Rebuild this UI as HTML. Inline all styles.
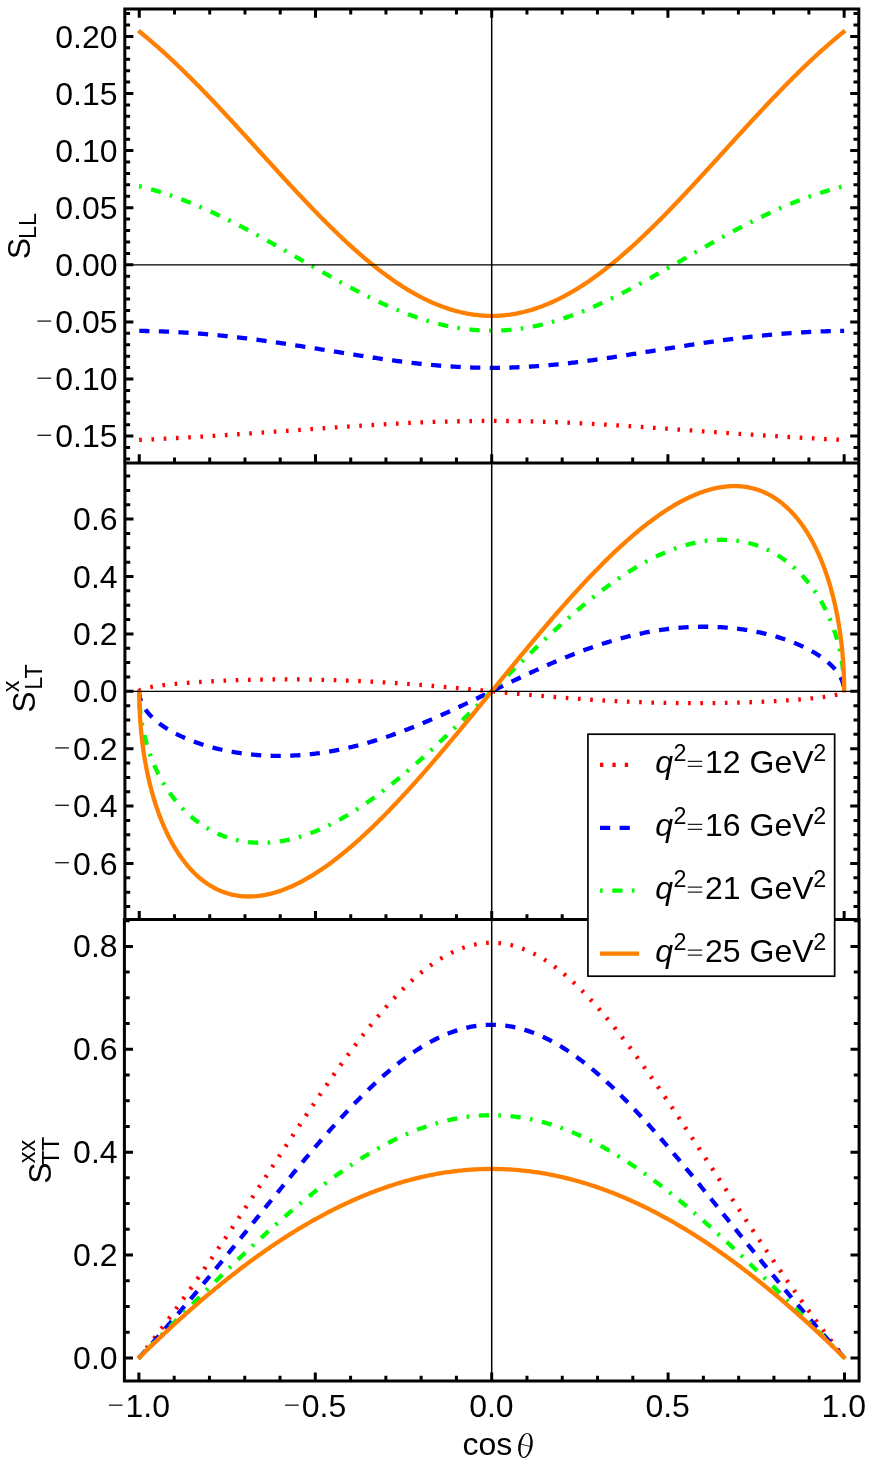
<!DOCTYPE html>
<html><head><meta charset="utf-8"><style>
html,body{margin:0;padding:0;background:#fff}
svg{display:block;will-change:transform;opacity:0.999}
.t{font-family:"Liberation Sans",sans-serif;font-size:32.0px;fill:#000}
.s{font-family:"Liberation Sans",sans-serif;font-size:23.3px;fill:#000}
</style></head><body>
<svg width="870" height="1463" viewBox="0 0 870 1463">
<rect width="870" height="1463" fill="#fff"/>
<path d="M139.25,440.00 L139.25,440.00 L139.26,440.00 L139.28,440.00 L139.30,440.00 L139.33,440.00 L139.37,439.99 L139.41,439.99 L139.46,439.99 L139.52,439.99 L139.59,439.98 L139.66,439.98 L139.73,439.98 L139.82,439.97 L139.91,439.97 L140.00,439.96 L140.11,439.96 L140.22,439.95 L140.34,439.95 L140.46,439.94 L140.59,439.93 L140.73,439.93 L140.87,439.92 L141.02,439.91 L141.18,439.91 L141.34,439.90 L141.52,439.89 L141.69,439.88 L141.88,439.87 L142.07,439.86 L142.27,439.85 L142.47,439.84 L142.68,439.83 L142.90,439.82 L143.12,439.81 L143.35,439.80 L143.59,439.79 L143.83,439.78 L144.08,439.76 L144.34,439.75 L144.60,439.74 L144.87,439.72 L145.15,439.71 L145.44,439.70 L145.73,439.68 L146.02,439.67 L146.33,439.65 L146.64,439.64 L146.95,439.62 L147.27,439.60 L147.60,439.59 L147.94,439.57 L148.28,439.55 L148.63,439.53 L148.99,439.52 L149.35,439.50 L149.72,439.48 L150.09,439.46 L150.48,439.44 L150.86,439.42 L151.26,439.40 L151.66,439.38 L152.07,439.36 L152.48,439.34 L152.90,439.32 L153.33,439.29 L153.76,439.27 L154.20,439.25 L154.65,439.23 L155.10,439.20 L155.56,439.18 L156.03,439.15 L156.50,439.13 L156.98,439.11 L157.46,439.08 L157.95,439.05 L158.45,439.03 L158.96,439.00 L159.47,438.97 L159.98,438.95 L160.51,438.92 L161.03,438.89 L161.57,438.86 L162.11,438.83 L162.66,438.81 L163.21,438.78 L163.77,438.75 L164.34,438.72 L164.91,438.68 L165.49,438.65 L166.08,438.62 L166.67,438.59 L167.27,438.56 L167.87,438.52 L168.48,438.49 L169.10,438.46 L169.72,438.42 L170.35,438.39 L170.98,438.35 L171.62,438.32 L172.27,438.28 L172.92,438.25 L173.58,438.21 L174.25,438.17 L174.92,438.14 L175.60,438.10 L176.28,438.06 L176.97,438.02 L177.66,437.98 L178.37,437.94 L179.07,437.90 L179.79,437.86 L180.51,437.82 L181.23,437.78 L181.96,437.74 L182.70,437.69 L183.44,437.65 L184.19,437.61 L184.94,437.57 L185.70,437.52 L186.47,437.48 L187.24,437.43 L188.02,437.39 L188.80,437.34 L189.59,437.29 L190.39,437.25 L191.19,437.20 L191.99,437.15 L192.81,437.11 L193.62,437.06 L194.45,437.01 L195.28,436.96 L196.11,436.91 L196.95,436.86 L197.80,436.81 L198.65,436.76 L199.51,436.70 L200.37,436.65 L201.24,436.60 L202.11,436.55 L202.99,436.49 L203.87,436.44 L204.76,436.38 L205.66,436.33 L206.56,436.27 L207.47,436.22 L208.38,436.16 L209.30,436.10 L210.22,436.04 L211.15,435.99 L212.08,435.93 L213.02,435.87 L213.97,435.81 L214.92,435.75 L215.87,435.69 L216.83,435.63 L217.79,435.57 L218.77,435.51 L219.74,435.44 L220.72,435.38 L221.71,435.32 L222.70,435.25 L223.69,435.19 L224.70,435.12 L225.70,435.06 L226.71,434.99 L227.73,434.93 L228.75,434.86 L229.78,434.79 L230.81,434.72 L231.85,434.66 L232.89,434.59 L233.93,434.52 L234.99,434.45 L236.04,434.38 L237.10,434.31 L238.17,434.24 L239.24,434.16 L240.31,434.09 L241.40,434.02 L242.48,433.95 L243.57,433.87 L244.66,433.80 L245.76,433.73 L246.87,433.65 L247.98,433.57 L249.09,433.50 L250.21,433.42 L251.33,433.35 L252.46,433.27 L253.59,433.19 L254.72,433.11 L255.86,433.03 L257.01,432.95 L258.16,432.88 L259.31,432.80 L260.47,432.71 L261.63,432.63 L262.80,432.55 L263.97,432.47 L265.15,432.39 L266.33,432.31 L267.51,432.22 L268.70,432.14 L269.90,432.06 L271.09,431.97 L272.29,431.89 L273.50,431.80 L274.71,431.72 L275.92,431.63 L277.14,431.54 L278.36,431.46 L279.59,431.37 L280.82,431.28 L282.05,431.20 L283.29,431.11 L284.54,431.02 L285.78,430.93 L287.03,430.84 L288.29,430.75 L289.54,430.66 L290.80,430.57 L292.07,430.48 L293.34,430.39 L294.61,430.30 L295.89,430.21 L297.17,430.12 L298.45,430.03 L299.74,429.94 L301.03,429.84 L302.33,429.75 L303.63,429.66 L304.93,429.57 L306.24,429.47 L307.55,429.38 L308.86,429.28 L310.17,429.19 L311.49,429.10 L312.82,429.00 L314.14,428.91 L315.47,428.81 L316.81,428.72 L318.15,428.63 L319.49,428.53 L320.83,428.44 L322.18,428.34 L323.53,428.25 L324.88,428.15 L326.23,428.06 L327.59,427.96 L328.96,427.87 L330.32,427.77 L331.69,427.67 L333.06,427.58 L334.44,427.48 L335.82,427.39 L337.20,427.29 L338.58,427.20 L339.97,427.10 L341.36,427.01 L342.75,426.91 L344.14,426.82 L345.54,426.73 L346.94,426.63 L348.35,426.54 L349.75,426.44 L351.16,426.35 L352.57,426.26 L353.99,426.16 L355.40,426.07 L356.82,425.98 L358.25,425.88 L359.67,425.79 L361.10,425.70 L362.53,425.61 L363.96,425.52 L365.39,425.43 L366.83,425.34 L368.27,425.25 L369.71,425.16 L371.16,425.07 L372.60,424.98 L374.05,424.89 L375.50,424.80 L376.95,424.71 L378.41,424.63 L379.87,424.54 L381.33,424.46 L382.79,424.37 L384.25,424.29 L385.72,424.20 L387.18,424.12 L388.65,424.04 L390.13,423.95 L391.60,423.87 L393.07,423.79 L394.55,423.71 L396.03,423.63 L397.51,423.56 L398.99,423.48 L400.48,423.40 L401.97,423.33 L403.45,423.25 L404.94,423.18 L406.43,423.10 L407.93,423.03 L409.42,422.96 L410.92,422.89 L412.42,422.82 L413.92,422.75 L415.42,422.68 L416.92,422.62 L418.42,422.55 L419.93,422.49 L421.43,422.43 L422.94,422.36 L424.45,422.30 L425.96,422.24 L427.47,422.18 L428.98,422.12 L430.50,422.07 L432.01,422.01 L433.53,421.96 L435.05,421.91 L436.56,421.85 L438.08,421.80 L439.60,421.75 L441.13,421.71 L442.65,421.66 L444.17,421.61 L445.70,421.57 L447.22,421.53 L448.75,421.48 L450.27,421.44 L451.80,421.41 L453.33,421.37 L454.86,421.33 L456.39,421.30 L457.92,421.26 L459.45,421.23 L460.98,421.20 L462.51,421.17 L464.05,421.14 L465.58,421.12 L467.11,421.09 L468.65,421.07 L470.18,421.05 L471.72,421.03 L473.25,421.01 L474.79,420.99 L476.33,420.98 L477.86,420.96 L479.40,420.95 L480.94,420.94 L482.47,420.93 L484.01,420.92 L485.55,420.91 L487.09,420.91 L488.62,420.90 L490.16,420.90 L491.70,420.90 L493.24,420.90 L494.78,420.90 L496.31,420.91 L497.85,420.91 L499.39,420.92 L500.93,420.93 L502.46,420.94 L504.00,420.95 L505.54,420.96 L507.07,420.98 L508.61,420.99 L510.15,421.01 L511.68,421.03 L513.22,421.05 L514.75,421.07 L516.29,421.09 L517.82,421.12 L519.35,421.14 L520.89,421.17 L522.42,421.20 L523.95,421.23 L525.48,421.26 L527.01,421.30 L528.54,421.33 L530.07,421.37 L531.60,421.41 L533.13,421.44 L534.65,421.48 L536.18,421.53 L537.70,421.57 L539.23,421.61 L540.75,421.66 L542.27,421.71 L543.80,421.75 L545.32,421.80 L546.84,421.85 L548.35,421.91 L549.87,421.96 L551.39,422.01 L552.90,422.07 L554.42,422.12 L555.93,422.18 L557.44,422.24 L558.95,422.30 L560.46,422.36 L561.97,422.43 L563.47,422.49 L564.98,422.55 L566.48,422.62 L567.98,422.68 L569.48,422.75 L570.98,422.82 L572.48,422.89 L573.98,422.96 L575.47,423.03 L576.97,423.10 L578.46,423.18 L579.95,423.25 L581.43,423.33 L582.92,423.40 L584.41,423.48 L585.89,423.56 L587.37,423.63 L588.85,423.71 L590.33,423.79 L591.80,423.87 L593.27,423.95 L594.75,424.04 L596.22,424.12 L597.68,424.20 L599.15,424.29 L600.61,424.37 L602.07,424.46 L603.53,424.54 L604.99,424.63 L606.45,424.71 L607.90,424.80 L609.35,424.89 L610.80,424.98 L612.24,425.07 L613.69,425.16 L615.13,425.25 L616.57,425.34 L618.01,425.43 L619.44,425.52 L620.87,425.61 L622.30,425.70 L623.73,425.79 L625.15,425.88 L626.58,425.98 L628.00,426.07 L629.41,426.16 L630.83,426.26 L632.24,426.35 L633.65,426.44 L635.05,426.54 L636.46,426.63 L637.86,426.73 L639.26,426.82 L640.65,426.91 L642.04,427.01 L643.43,427.10 L644.82,427.20 L646.20,427.29 L647.58,427.39 L648.96,427.48 L650.34,427.58 L651.71,427.67 L653.08,427.77 L654.44,427.87 L655.81,427.96 L657.17,428.06 L658.52,428.15 L659.87,428.25 L661.22,428.34 L662.57,428.44 L663.91,428.53 L665.25,428.63 L666.59,428.72 L667.92,428.81 L669.26,428.91 L670.58,429.00 L671.91,429.10 L673.23,429.19 L674.54,429.28 L675.85,429.38 L677.16,429.47 L678.47,429.57 L679.77,429.66 L681.07,429.75 L682.37,429.84 L683.66,429.94 L684.95,430.03 L686.23,430.12 L687.51,430.21 L688.79,430.30 L690.06,430.39 L691.33,430.48 L692.60,430.57 L693.86,430.66 L695.11,430.75 L696.37,430.84 L697.62,430.93 L698.86,431.02 L700.11,431.11 L701.35,431.20 L702.58,431.28 L703.81,431.37 L705.04,431.46 L706.26,431.54 L707.48,431.63 L708.69,431.72 L709.90,431.80 L711.11,431.89 L712.31,431.97 L713.50,432.06 L714.70,432.14 L715.89,432.22 L717.07,432.31 L718.25,432.39 L719.43,432.47 L720.60,432.55 L721.77,432.63 L722.93,432.71 L724.09,432.80 L725.24,432.88 L726.39,432.95 L727.54,433.03 L728.68,433.11 L729.81,433.19 L730.94,433.27 L732.07,433.35 L733.19,433.42 L734.31,433.50 L735.42,433.57 L736.53,433.65 L737.64,433.73 L738.74,433.80 L739.83,433.87 L740.92,433.95 L742.00,434.02 L743.09,434.09 L744.16,434.16 L745.23,434.24 L746.30,434.31 L747.36,434.38 L748.41,434.45 L749.47,434.52 L750.51,434.59 L751.55,434.66 L752.59,434.72 L753.62,434.79 L754.65,434.86 L755.67,434.93 L756.69,434.99 L757.70,435.06 L758.70,435.12 L759.71,435.19 L760.70,435.25 L761.69,435.32 L762.68,435.38 L763.66,435.44 L764.63,435.51 L765.61,435.57 L766.57,435.63 L767.53,435.69 L768.48,435.75 L769.43,435.81 L770.38,435.87 L771.32,435.93 L772.25,435.99 L773.18,436.04 L774.10,436.10 L775.02,436.16 L775.93,436.22 L776.84,436.27 L777.74,436.33 L778.64,436.38 L779.53,436.44 L780.41,436.49 L781.29,436.55 L782.16,436.60 L783.03,436.65 L783.89,436.70 L784.75,436.76 L785.60,436.81 L786.45,436.86 L787.29,436.91 L788.12,436.96 L788.95,437.01 L789.78,437.06 L790.59,437.11 L791.41,437.15 L792.21,437.20 L793.01,437.25 L793.81,437.29 L794.60,437.34 L795.38,437.39 L796.16,437.43 L796.93,437.48 L797.70,437.52 L798.46,437.57 L799.21,437.61 L799.96,437.65 L800.70,437.69 L801.44,437.74 L802.17,437.78 L802.89,437.82 L803.61,437.86 L804.33,437.90 L805.03,437.94 L805.74,437.98 L806.43,438.02 L807.12,438.06 L807.80,438.10 L808.48,438.14 L809.15,438.17 L809.82,438.21 L810.48,438.25 L811.13,438.28 L811.78,438.32 L812.42,438.35 L813.05,438.39 L813.68,438.42 L814.30,438.46 L814.92,438.49 L815.53,438.52 L816.13,438.56 L816.73,438.59 L817.32,438.62 L817.91,438.65 L818.49,438.68 L819.06,438.72 L819.63,438.75 L820.19,438.78 L820.74,438.81 L821.29,438.83 L821.83,438.86 L822.37,438.89 L822.89,438.92 L823.42,438.95 L823.93,438.97 L824.44,439.00 L824.95,439.03 L825.45,439.05 L825.94,439.08 L826.42,439.11 L826.90,439.13 L827.37,439.15 L827.84,439.18 L828.30,439.20 L828.75,439.23 L829.20,439.25 L829.64,439.27 L830.07,439.29 L830.50,439.32 L830.92,439.34 L831.33,439.36 L831.74,439.38 L832.14,439.40 L832.54,439.42 L832.92,439.44 L833.31,439.46 L833.68,439.48 L834.05,439.50 L834.41,439.52 L834.77,439.53 L835.12,439.55 L835.46,439.57 L835.80,439.59 L836.13,439.60 L836.45,439.62 L836.76,439.64 L837.07,439.65 L837.38,439.67 L837.67,439.68 L837.96,439.70 L838.25,439.71 L838.53,439.72 L838.80,439.74 L839.06,439.75 L839.32,439.76 L839.57,439.78 L839.81,439.79 L840.05,439.80 L840.28,439.81 L840.50,439.82 L840.72,439.83 L840.93,439.84 L841.13,439.85 L841.33,439.86 L841.52,439.87 L841.71,439.88 L841.88,439.89 L842.06,439.90 L842.22,439.91 L842.38,439.91 L842.53,439.92 L842.67,439.93 L842.81,439.93 L842.94,439.94 L843.06,439.95 L843.18,439.95 L843.29,439.96 L843.40,439.96 L843.49,439.97 L843.58,439.97 L843.67,439.98 L843.74,439.98 L843.81,439.98 L843.88,439.99 L843.94,439.99 L843.99,439.99 L844.03,439.99 L844.07,440.00 L844.10,440.00 L844.12,440.00 L844.14,440.00 L844.15,440.00 L844.15,440.00" fill="none" stroke="#ff0000" stroke-width="4.3" stroke-dasharray="2.6 9.65" stroke-linejoin="round"/>
<path d="M139.25,330.90 L139.25,330.90 L139.26,330.90 L139.28,330.90 L139.30,330.90 L139.33,330.90 L139.37,330.90 L139.41,330.90 L139.46,330.90 L139.52,330.90 L139.59,330.90 L139.66,330.90 L139.73,330.90 L139.82,330.90 L139.91,330.90 L140.00,330.91 L140.11,330.91 L140.22,330.91 L140.34,330.91 L140.46,330.91 L140.59,330.91 L140.73,330.91 L140.87,330.92 L141.02,330.92 L141.18,330.92 L141.34,330.92 L141.52,330.93 L141.69,330.93 L141.88,330.93 L142.07,330.93 L142.27,330.94 L142.47,330.94 L142.68,330.94 L142.90,330.94 L143.12,330.95 L143.35,330.95 L143.59,330.96 L143.83,330.96 L144.08,330.96 L144.34,330.97 L144.60,330.97 L144.87,330.98 L145.15,330.98 L145.44,330.99 L145.73,330.99 L146.02,331.00 L146.33,331.00 L146.64,331.01 L146.95,331.02 L147.27,331.02 L147.60,331.03 L147.94,331.04 L148.28,331.04 L148.63,331.05 L148.99,331.06 L149.35,331.07 L149.72,331.08 L150.09,331.08 L150.48,331.09 L150.86,331.10 L151.26,331.11 L151.66,331.12 L152.07,331.13 L152.48,331.14 L152.90,331.15 L153.33,331.17 L153.76,331.18 L154.20,331.19 L154.65,331.20 L155.10,331.22 L155.56,331.23 L156.03,331.24 L156.50,331.26 L156.98,331.27 L157.46,331.29 L157.95,331.30 L158.45,331.32 L158.96,331.34 L159.47,331.35 L159.98,331.37 L160.51,331.39 L161.03,331.41 L161.57,331.43 L162.11,331.45 L162.66,331.47 L163.21,331.49 L163.77,331.51 L164.34,331.53 L164.91,331.56 L165.49,331.58 L166.08,331.61 L166.67,331.63 L167.27,331.66 L167.87,331.68 L168.48,331.71 L169.10,331.74 L169.72,331.77 L170.35,331.79 L170.98,331.82 L171.62,331.85 L172.27,331.89 L172.92,331.92 L173.58,331.95 L174.25,331.98 L174.92,332.02 L175.60,332.05 L176.28,332.09 L176.97,332.13 L177.66,332.17 L178.37,332.20 L179.07,332.24 L179.79,332.28 L180.51,332.33 L181.23,332.37 L181.96,332.41 L182.70,332.46 L183.44,332.50 L184.19,332.55 L184.94,332.59 L185.70,332.64 L186.47,332.69 L187.24,332.74 L188.02,332.79 L188.80,332.84 L189.59,332.90 L190.39,332.95 L191.19,333.01 L191.99,333.06 L192.81,333.12 L193.62,333.18 L194.45,333.24 L195.28,333.30 L196.11,333.36 L196.95,333.43 L197.80,333.49 L198.65,333.56 L199.51,333.62 L200.37,333.69 L201.24,333.76 L202.11,333.83 L202.99,333.90 L203.87,333.98 L204.76,334.05 L205.66,334.13 L206.56,334.20 L207.47,334.28 L208.38,334.36 L209.30,334.44 L210.22,334.52 L211.15,334.61 L212.08,334.69 L213.02,334.78 L213.97,334.87 L214.92,334.96 L215.87,335.05 L216.83,335.14 L217.79,335.23 L218.77,335.33 L219.74,335.42 L220.72,335.52 L221.71,335.62 L222.70,335.72 L223.69,335.82 L224.70,335.93 L225.70,336.03 L226.71,336.14 L227.73,336.25 L228.75,336.36 L229.78,336.47 L230.81,336.58 L231.85,336.69 L232.89,336.81 L233.93,336.93 L234.99,337.04 L236.04,337.17 L237.10,337.29 L238.17,337.41 L239.24,337.54 L240.31,337.66 L241.40,337.79 L242.48,337.92 L243.57,338.05 L244.66,338.18 L245.76,338.32 L246.87,338.45 L247.98,338.59 L249.09,338.73 L250.21,338.87 L251.33,339.01 L252.46,339.16 L253.59,339.30 L254.72,339.45 L255.86,339.60 L257.01,339.75 L258.16,339.90 L259.31,340.05 L260.47,340.21 L261.63,340.37 L262.80,340.52 L263.97,340.68 L265.15,340.84 L266.33,341.01 L267.51,341.17 L268.70,341.34 L269.90,341.51 L271.09,341.67 L272.29,341.84 L273.50,342.02 L274.71,342.19 L275.92,342.37 L277.14,342.54 L278.36,342.72 L279.59,342.90 L280.82,343.08 L282.05,343.26 L283.29,343.45 L284.54,343.63 L285.78,343.82 L287.03,344.01 L288.29,344.19 L289.54,344.39 L290.80,344.58 L292.07,344.77 L293.34,344.97 L294.61,345.16 L295.89,345.36 L297.17,345.56 L298.45,345.76 L299.74,345.96 L301.03,346.16 L302.33,346.36 L303.63,346.57 L304.93,346.77 L306.24,346.98 L307.55,347.19 L308.86,347.39 L310.17,347.60 L311.49,347.81 L312.82,348.03 L314.14,348.24 L315.47,348.45 L316.81,348.67 L318.15,348.88 L319.49,349.10 L320.83,349.31 L322.18,349.53 L323.53,349.75 L324.88,349.97 L326.23,350.19 L327.59,350.41 L328.96,350.63 L330.32,350.85 L331.69,351.07 L333.06,351.29 L334.44,351.52 L335.82,351.74 L337.20,351.96 L338.58,352.19 L339.97,352.41 L341.36,352.63 L342.75,352.86 L344.14,353.08 L345.54,353.31 L346.94,353.53 L348.35,353.76 L349.75,353.98 L351.16,354.21 L352.57,354.43 L353.99,354.65 L355.40,354.88 L356.82,355.10 L358.25,355.33 L359.67,355.55 L361.10,355.77 L362.53,355.99 L363.96,356.22 L365.39,356.44 L366.83,356.66 L368.27,356.88 L369.71,357.10 L371.16,357.32 L372.60,357.53 L374.05,357.75 L375.50,357.97 L376.95,358.18 L378.41,358.39 L379.87,358.61 L381.33,358.82 L382.79,359.03 L384.25,359.24 L385.72,359.45 L387.18,359.65 L388.65,359.86 L390.13,360.06 L391.60,360.26 L393.07,360.46 L394.55,360.66 L396.03,360.86 L397.51,361.06 L398.99,361.25 L400.48,361.44 L401.97,361.63 L403.45,361.82 L404.94,362.01 L406.43,362.19 L407.93,362.37 L409.42,362.55 L410.92,362.73 L412.42,362.91 L413.92,363.08 L415.42,363.25 L416.92,363.42 L418.42,363.58 L419.93,363.75 L421.43,363.91 L422.94,364.07 L424.45,364.22 L425.96,364.37 L427.47,364.52 L428.98,364.67 L430.50,364.82 L432.01,364.96 L433.53,365.10 L435.05,365.23 L436.56,365.36 L438.08,365.49 L439.60,365.62 L441.13,365.74 L442.65,365.86 L444.17,365.98 L445.70,366.09 L447.22,366.20 L448.75,366.31 L450.27,366.41 L451.80,366.51 L453.33,366.61 L454.86,366.70 L456.39,366.79 L457.92,366.87 L459.45,366.96 L460.98,367.03 L462.51,367.11 L464.05,367.18 L465.58,367.25 L467.11,367.31 L468.65,367.37 L470.18,367.43 L471.72,367.48 L473.25,367.53 L474.79,367.57 L476.33,367.61 L477.86,367.65 L479.40,367.68 L480.94,367.71 L482.47,367.74 L484.01,367.76 L485.55,367.78 L487.09,367.79 L488.62,367.80 L490.16,367.81 L491.70,367.81 L493.24,367.81 L494.78,367.80 L496.31,367.79 L497.85,367.78 L499.39,367.76 L500.93,367.74 L502.46,367.71 L504.00,367.68 L505.54,367.65 L507.07,367.61 L508.61,367.57 L510.15,367.53 L511.68,367.48 L513.22,367.43 L514.75,367.37 L516.29,367.31 L517.82,367.25 L519.35,367.18 L520.89,367.11 L522.42,367.03 L523.95,366.96 L525.48,366.87 L527.01,366.79 L528.54,366.70 L530.07,366.61 L531.60,366.51 L533.13,366.41 L534.65,366.31 L536.18,366.20 L537.70,366.09 L539.23,365.98 L540.75,365.86 L542.27,365.74 L543.80,365.62 L545.32,365.49 L546.84,365.36 L548.35,365.23 L549.87,365.10 L551.39,364.96 L552.90,364.82 L554.42,364.67 L555.93,364.52 L557.44,364.37 L558.95,364.22 L560.46,364.07 L561.97,363.91 L563.47,363.75 L564.98,363.58 L566.48,363.42 L567.98,363.25 L569.48,363.08 L570.98,362.91 L572.48,362.73 L573.98,362.55 L575.47,362.37 L576.97,362.19 L578.46,362.01 L579.95,361.82 L581.43,361.63 L582.92,361.44 L584.41,361.25 L585.89,361.06 L587.37,360.86 L588.85,360.66 L590.33,360.46 L591.80,360.26 L593.27,360.06 L594.75,359.86 L596.22,359.65 L597.68,359.45 L599.15,359.24 L600.61,359.03 L602.07,358.82 L603.53,358.61 L604.99,358.39 L606.45,358.18 L607.90,357.97 L609.35,357.75 L610.80,357.53 L612.24,357.32 L613.69,357.10 L615.13,356.88 L616.57,356.66 L618.01,356.44 L619.44,356.22 L620.87,355.99 L622.30,355.77 L623.73,355.55 L625.15,355.33 L626.58,355.10 L628.00,354.88 L629.41,354.65 L630.83,354.43 L632.24,354.21 L633.65,353.98 L635.05,353.76 L636.46,353.53 L637.86,353.31 L639.26,353.08 L640.65,352.86 L642.04,352.63 L643.43,352.41 L644.82,352.19 L646.20,351.96 L647.58,351.74 L648.96,351.52 L650.34,351.29 L651.71,351.07 L653.08,350.85 L654.44,350.63 L655.81,350.41 L657.17,350.19 L658.52,349.97 L659.87,349.75 L661.22,349.53 L662.57,349.31 L663.91,349.10 L665.25,348.88 L666.59,348.67 L667.92,348.45 L669.26,348.24 L670.58,348.03 L671.91,347.81 L673.23,347.60 L674.54,347.39 L675.85,347.19 L677.16,346.98 L678.47,346.77 L679.77,346.57 L681.07,346.36 L682.37,346.16 L683.66,345.96 L684.95,345.76 L686.23,345.56 L687.51,345.36 L688.79,345.16 L690.06,344.97 L691.33,344.77 L692.60,344.58 L693.86,344.39 L695.11,344.19 L696.37,344.01 L697.62,343.82 L698.86,343.63 L700.11,343.45 L701.35,343.26 L702.58,343.08 L703.81,342.90 L705.04,342.72 L706.26,342.54 L707.48,342.37 L708.69,342.19 L709.90,342.02 L711.11,341.84 L712.31,341.67 L713.50,341.51 L714.70,341.34 L715.89,341.17 L717.07,341.01 L718.25,340.84 L719.43,340.68 L720.60,340.52 L721.77,340.37 L722.93,340.21 L724.09,340.05 L725.24,339.90 L726.39,339.75 L727.54,339.60 L728.68,339.45 L729.81,339.30 L730.94,339.16 L732.07,339.01 L733.19,338.87 L734.31,338.73 L735.42,338.59 L736.53,338.45 L737.64,338.32 L738.74,338.18 L739.83,338.05 L740.92,337.92 L742.00,337.79 L743.09,337.66 L744.16,337.54 L745.23,337.41 L746.30,337.29 L747.36,337.17 L748.41,337.04 L749.47,336.93 L750.51,336.81 L751.55,336.69 L752.59,336.58 L753.62,336.47 L754.65,336.36 L755.67,336.25 L756.69,336.14 L757.70,336.03 L758.70,335.93 L759.71,335.82 L760.70,335.72 L761.69,335.62 L762.68,335.52 L763.66,335.42 L764.63,335.33 L765.61,335.23 L766.57,335.14 L767.53,335.05 L768.48,334.96 L769.43,334.87 L770.38,334.78 L771.32,334.69 L772.25,334.61 L773.18,334.52 L774.10,334.44 L775.02,334.36 L775.93,334.28 L776.84,334.20 L777.74,334.13 L778.64,334.05 L779.53,333.98 L780.41,333.90 L781.29,333.83 L782.16,333.76 L783.03,333.69 L783.89,333.62 L784.75,333.56 L785.60,333.49 L786.45,333.43 L787.29,333.36 L788.12,333.30 L788.95,333.24 L789.78,333.18 L790.59,333.12 L791.41,333.06 L792.21,333.01 L793.01,332.95 L793.81,332.90 L794.60,332.84 L795.38,332.79 L796.16,332.74 L796.93,332.69 L797.70,332.64 L798.46,332.59 L799.21,332.55 L799.96,332.50 L800.70,332.46 L801.44,332.41 L802.17,332.37 L802.89,332.33 L803.61,332.28 L804.33,332.24 L805.03,332.20 L805.74,332.17 L806.43,332.13 L807.12,332.09 L807.80,332.05 L808.48,332.02 L809.15,331.98 L809.82,331.95 L810.48,331.92 L811.13,331.89 L811.78,331.85 L812.42,331.82 L813.05,331.79 L813.68,331.77 L814.30,331.74 L814.92,331.71 L815.53,331.68 L816.13,331.66 L816.73,331.63 L817.32,331.61 L817.91,331.58 L818.49,331.56 L819.06,331.53 L819.63,331.51 L820.19,331.49 L820.74,331.47 L821.29,331.45 L821.83,331.43 L822.37,331.41 L822.89,331.39 L823.42,331.37 L823.93,331.35 L824.44,331.34 L824.95,331.32 L825.45,331.30 L825.94,331.29 L826.42,331.27 L826.90,331.26 L827.37,331.24 L827.84,331.23 L828.30,331.22 L828.75,331.20 L829.20,331.19 L829.64,331.18 L830.07,331.17 L830.50,331.15 L830.92,331.14 L831.33,331.13 L831.74,331.12 L832.14,331.11 L832.54,331.10 L832.92,331.09 L833.31,331.08 L833.68,331.08 L834.05,331.07 L834.41,331.06 L834.77,331.05 L835.12,331.04 L835.46,331.04 L835.80,331.03 L836.13,331.02 L836.45,331.02 L836.76,331.01 L837.07,331.00 L837.38,331.00 L837.67,330.99 L837.96,330.99 L838.25,330.98 L838.53,330.98 L838.80,330.97 L839.06,330.97 L839.32,330.96 L839.57,330.96 L839.81,330.96 L840.05,330.95 L840.28,330.95 L840.50,330.94 L840.72,330.94 L840.93,330.94 L841.13,330.94 L841.33,330.93 L841.52,330.93 L841.71,330.93 L841.88,330.93 L842.06,330.92 L842.22,330.92 L842.38,330.92 L842.53,330.92 L842.67,330.91 L842.81,330.91 L842.94,330.91 L843.06,330.91 L843.18,330.91 L843.29,330.91 L843.40,330.91 L843.49,330.90 L843.58,330.90 L843.67,330.90 L843.74,330.90 L843.81,330.90 L843.88,330.90 L843.94,330.90 L843.99,330.90 L844.03,330.90 L844.07,330.90 L844.10,330.90 L844.12,330.90 L844.14,330.90 L844.15,330.90 L844.15,330.90" fill="none" stroke="#0000ff" stroke-width="4.3" stroke-dasharray="10.2 9.4" stroke-linejoin="round"/>
<path d="M139.25,186.14 L139.25,186.14 L139.26,186.14 L139.28,186.15 L139.30,186.15 L139.33,186.16 L139.37,186.17 L139.41,186.18 L139.46,186.19 L139.52,186.21 L139.59,186.22 L139.66,186.24 L139.73,186.26 L139.82,186.28 L139.91,186.30 L140.00,186.32 L140.11,186.35 L140.22,186.38 L140.34,186.41 L140.46,186.44 L140.59,186.47 L140.73,186.51 L140.87,186.54 L141.02,186.58 L141.18,186.62 L141.34,186.66 L141.52,186.70 L141.69,186.75 L141.88,186.79 L142.07,186.84 L142.27,186.89 L142.47,186.95 L142.68,187.00 L142.90,187.06 L143.12,187.11 L143.35,187.17 L143.59,187.23 L143.83,187.30 L144.08,187.36 L144.34,187.43 L144.60,187.50 L144.87,187.57 L145.15,187.64 L145.44,187.72 L145.73,187.80 L146.02,187.88 L146.33,187.96 L146.64,188.04 L146.95,188.13 L147.27,188.21 L147.60,188.30 L147.94,188.40 L148.28,188.49 L148.63,188.59 L148.99,188.68 L149.35,188.78 L149.72,188.89 L150.09,188.99 L150.48,189.10 L150.86,189.21 L151.26,189.32 L151.66,189.44 L152.07,189.55 L152.48,189.67 L152.90,189.80 L153.33,189.92 L153.76,190.05 L154.20,190.18 L154.65,190.31 L155.10,190.44 L155.56,190.58 L156.03,190.72 L156.50,190.86 L156.98,191.01 L157.46,191.15 L157.95,191.30 L158.45,191.46 L158.96,191.61 L159.47,191.77 L159.98,191.93 L160.51,192.10 L161.03,192.26 L161.57,192.43 L162.11,192.61 L162.66,192.78 L163.21,192.96 L163.77,193.14 L164.34,193.33 L164.91,193.51 L165.49,193.71 L166.08,193.90 L166.67,194.10 L167.27,194.30 L167.87,194.50 L168.48,194.71 L169.10,194.92 L169.72,195.13 L170.35,195.35 L170.98,195.57 L171.62,195.79 L172.27,196.02 L172.92,196.25 L173.58,196.48 L174.25,196.72 L174.92,196.96 L175.60,197.20 L176.28,197.45 L176.97,197.70 L177.66,197.95 L178.37,198.21 L179.07,198.47 L179.79,198.74 L180.51,199.01 L181.23,199.28 L181.96,199.56 L182.70,199.84 L183.44,200.12 L184.19,200.41 L184.94,200.70 L185.70,201.00 L186.47,201.30 L187.24,201.60 L188.02,201.91 L188.80,202.22 L189.59,202.54 L190.39,202.86 L191.19,203.19 L191.99,203.51 L192.81,203.85 L193.62,204.18 L194.45,204.52 L195.28,204.87 L196.11,205.22 L196.95,205.57 L197.80,205.93 L198.65,206.29 L199.51,206.66 L200.37,207.03 L201.24,207.40 L202.11,207.78 L202.99,208.16 L203.87,208.55 L204.76,208.94 L205.66,209.34 L206.56,209.74 L207.47,210.15 L208.38,210.56 L209.30,210.97 L210.22,211.39 L211.15,211.81 L212.08,212.24 L213.02,212.67 L213.97,213.11 L214.92,213.55 L215.87,214.00 L216.83,214.45 L217.79,214.91 L218.77,215.37 L219.74,215.83 L220.72,216.30 L221.71,216.77 L222.70,217.25 L223.69,217.73 L224.70,218.22 L225.70,218.71 L226.71,219.21 L227.73,219.71 L228.75,220.22 L229.78,220.73 L230.81,221.24 L231.85,221.76 L232.89,222.29 L233.93,222.82 L234.99,223.35 L236.04,223.89 L237.10,224.43 L238.17,224.98 L239.24,225.53 L240.31,226.09 L241.40,226.65 L242.48,227.21 L243.57,227.78 L244.66,228.36 L245.76,228.94 L246.87,229.52 L247.98,230.11 L249.09,230.70 L250.21,231.30 L251.33,231.90 L252.46,232.50 L253.59,233.11 L254.72,233.73 L255.86,234.35 L257.01,234.97 L258.16,235.60 L259.31,236.23 L260.47,236.86 L261.63,237.50 L262.80,238.14 L263.97,238.79 L265.15,239.44 L266.33,240.10 L267.51,240.75 L268.70,241.42 L269.90,242.08 L271.09,242.75 L272.29,243.43 L273.50,244.10 L274.71,244.79 L275.92,245.47 L277.14,246.16 L278.36,246.85 L279.59,247.55 L280.82,248.24 L282.05,248.94 L283.29,249.65 L284.54,250.36 L285.78,251.07 L287.03,251.78 L288.29,252.50 L289.54,253.22 L290.80,253.94 L292.07,254.67 L293.34,255.39 L294.61,256.12 L295.89,256.86 L297.17,257.59 L298.45,258.33 L299.74,259.07 L301.03,259.81 L302.33,260.56 L303.63,261.30 L304.93,262.05 L306.24,262.80 L307.55,263.55 L308.86,264.31 L310.17,265.06 L311.49,265.82 L312.82,266.57 L314.14,267.33 L315.47,268.09 L316.81,268.85 L318.15,269.62 L319.49,270.38 L320.83,271.14 L322.18,271.91 L323.53,272.67 L324.88,273.44 L326.23,274.20 L327.59,274.97 L328.96,275.73 L330.32,276.50 L331.69,277.26 L333.06,278.03 L334.44,278.79 L335.82,279.56 L337.20,280.32 L338.58,281.08 L339.97,281.85 L341.36,282.61 L342.75,283.37 L344.14,284.12 L345.54,284.88 L346.94,285.64 L348.35,286.39 L349.75,287.14 L351.16,287.89 L352.57,288.64 L353.99,289.39 L355.40,290.13 L356.82,290.87 L358.25,291.61 L359.67,292.34 L361.10,293.08 L362.53,293.81 L363.96,294.53 L365.39,295.26 L366.83,295.98 L368.27,296.69 L369.71,297.40 L371.16,298.11 L372.60,298.82 L374.05,299.52 L375.50,300.21 L376.95,300.90 L378.41,301.59 L379.87,302.27 L381.33,302.95 L382.79,303.62 L384.25,304.29 L385.72,304.95 L387.18,305.61 L388.65,306.26 L390.13,306.91 L391.60,307.54 L393.07,308.18 L394.55,308.81 L396.03,309.43 L397.51,310.04 L398.99,310.65 L400.48,311.25 L401.97,311.84 L403.45,312.43 L404.94,313.01 L406.43,313.58 L407.93,314.15 L409.42,314.71 L410.92,315.26 L412.42,315.80 L413.92,316.34 L415.42,316.86 L416.92,317.38 L418.42,317.89 L419.93,318.39 L421.43,318.89 L422.94,319.37 L424.45,319.85 L425.96,320.32 L427.47,320.77 L428.98,321.22 L430.50,321.66 L432.01,322.09 L433.53,322.51 L435.05,322.93 L436.56,323.33 L438.08,323.72 L439.60,324.10 L441.13,324.47 L442.65,324.84 L444.17,325.19 L445.70,325.53 L447.22,325.86 L448.75,326.18 L450.27,326.49 L451.80,326.79 L453.33,327.08 L454.86,327.36 L456.39,327.63 L457.92,327.89 L459.45,328.13 L460.98,328.37 L462.51,328.59 L464.05,328.80 L465.58,329.00 L467.11,329.20 L468.65,329.37 L470.18,329.54 L471.72,329.70 L473.25,329.84 L474.79,329.98 L476.33,330.10 L477.86,330.21 L479.40,330.31 L480.94,330.40 L482.47,330.47 L484.01,330.54 L485.55,330.59 L487.09,330.63 L488.62,330.66 L490.16,330.68 L491.70,330.68 L493.24,330.68 L494.78,330.66 L496.31,330.63 L497.85,330.59 L499.39,330.54 L500.93,330.47 L502.46,330.40 L504.00,330.31 L505.54,330.21 L507.07,330.10 L508.61,329.98 L510.15,329.84 L511.68,329.70 L513.22,329.54 L514.75,329.37 L516.29,329.20 L517.82,329.00 L519.35,328.80 L520.89,328.59 L522.42,328.37 L523.95,328.13 L525.48,327.89 L527.01,327.63 L528.54,327.36 L530.07,327.08 L531.60,326.79 L533.13,326.49 L534.65,326.18 L536.18,325.86 L537.70,325.53 L539.23,325.19 L540.75,324.84 L542.27,324.47 L543.80,324.10 L545.32,323.72 L546.84,323.33 L548.35,322.93 L549.87,322.51 L551.39,322.09 L552.90,321.66 L554.42,321.22 L555.93,320.77 L557.44,320.32 L558.95,319.85 L560.46,319.37 L561.97,318.89 L563.47,318.39 L564.98,317.89 L566.48,317.38 L567.98,316.86 L569.48,316.34 L570.98,315.80 L572.48,315.26 L573.98,314.71 L575.47,314.15 L576.97,313.58 L578.46,313.01 L579.95,312.43 L581.43,311.84 L582.92,311.25 L584.41,310.65 L585.89,310.04 L587.37,309.43 L588.85,308.81 L590.33,308.18 L591.80,307.54 L593.27,306.91 L594.75,306.26 L596.22,305.61 L597.68,304.95 L599.15,304.29 L600.61,303.62 L602.07,302.95 L603.53,302.27 L604.99,301.59 L606.45,300.90 L607.90,300.21 L609.35,299.52 L610.80,298.82 L612.24,298.11 L613.69,297.40 L615.13,296.69 L616.57,295.98 L618.01,295.26 L619.44,294.53 L620.87,293.81 L622.30,293.08 L623.73,292.34 L625.15,291.61 L626.58,290.87 L628.00,290.13 L629.41,289.39 L630.83,288.64 L632.24,287.89 L633.65,287.14 L635.05,286.39 L636.46,285.64 L637.86,284.88 L639.26,284.12 L640.65,283.37 L642.04,282.61 L643.43,281.85 L644.82,281.08 L646.20,280.32 L647.58,279.56 L648.96,278.79 L650.34,278.03 L651.71,277.26 L653.08,276.50 L654.44,275.73 L655.81,274.97 L657.17,274.20 L658.52,273.44 L659.87,272.67 L661.22,271.91 L662.57,271.14 L663.91,270.38 L665.25,269.62 L666.59,268.85 L667.92,268.09 L669.26,267.33 L670.58,266.57 L671.91,265.82 L673.23,265.06 L674.54,264.31 L675.85,263.55 L677.16,262.80 L678.47,262.05 L679.77,261.30 L681.07,260.56 L682.37,259.81 L683.66,259.07 L684.95,258.33 L686.23,257.59 L687.51,256.86 L688.79,256.12 L690.06,255.39 L691.33,254.67 L692.60,253.94 L693.86,253.22 L695.11,252.50 L696.37,251.78 L697.62,251.07 L698.86,250.36 L700.11,249.65 L701.35,248.94 L702.58,248.24 L703.81,247.55 L705.04,246.85 L706.26,246.16 L707.48,245.47 L708.69,244.79 L709.90,244.10 L711.11,243.43 L712.31,242.75 L713.50,242.08 L714.70,241.42 L715.89,240.75 L717.07,240.10 L718.25,239.44 L719.43,238.79 L720.60,238.14 L721.77,237.50 L722.93,236.86 L724.09,236.23 L725.24,235.60 L726.39,234.97 L727.54,234.35 L728.68,233.73 L729.81,233.11 L730.94,232.50 L732.07,231.90 L733.19,231.30 L734.31,230.70 L735.42,230.11 L736.53,229.52 L737.64,228.94 L738.74,228.36 L739.83,227.78 L740.92,227.21 L742.00,226.65 L743.09,226.09 L744.16,225.53 L745.23,224.98 L746.30,224.43 L747.36,223.89 L748.41,223.35 L749.47,222.82 L750.51,222.29 L751.55,221.76 L752.59,221.24 L753.62,220.73 L754.65,220.22 L755.67,219.71 L756.69,219.21 L757.70,218.71 L758.70,218.22 L759.71,217.73 L760.70,217.25 L761.69,216.77 L762.68,216.30 L763.66,215.83 L764.63,215.37 L765.61,214.91 L766.57,214.45 L767.53,214.00 L768.48,213.55 L769.43,213.11 L770.38,212.67 L771.32,212.24 L772.25,211.81 L773.18,211.39 L774.10,210.97 L775.02,210.56 L775.93,210.15 L776.84,209.74 L777.74,209.34 L778.64,208.94 L779.53,208.55 L780.41,208.16 L781.29,207.78 L782.16,207.40 L783.03,207.03 L783.89,206.66 L784.75,206.29 L785.60,205.93 L786.45,205.57 L787.29,205.22 L788.12,204.87 L788.95,204.52 L789.78,204.18 L790.59,203.85 L791.41,203.51 L792.21,203.19 L793.01,202.86 L793.81,202.54 L794.60,202.22 L795.38,201.91 L796.16,201.60 L796.93,201.30 L797.70,201.00 L798.46,200.70 L799.21,200.41 L799.96,200.12 L800.70,199.84 L801.44,199.56 L802.17,199.28 L802.89,199.01 L803.61,198.74 L804.33,198.47 L805.03,198.21 L805.74,197.95 L806.43,197.70 L807.12,197.45 L807.80,197.20 L808.48,196.96 L809.15,196.72 L809.82,196.48 L810.48,196.25 L811.13,196.02 L811.78,195.79 L812.42,195.57 L813.05,195.35 L813.68,195.13 L814.30,194.92 L814.92,194.71 L815.53,194.50 L816.13,194.30 L816.73,194.10 L817.32,193.90 L817.91,193.71 L818.49,193.51 L819.06,193.33 L819.63,193.14 L820.19,192.96 L820.74,192.78 L821.29,192.61 L821.83,192.43 L822.37,192.26 L822.89,192.10 L823.42,191.93 L823.93,191.77 L824.44,191.61 L824.95,191.46 L825.45,191.30 L825.94,191.15 L826.42,191.01 L826.90,190.86 L827.37,190.72 L827.84,190.58 L828.30,190.44 L828.75,190.31 L829.20,190.18 L829.64,190.05 L830.07,189.92 L830.50,189.80 L830.92,189.67 L831.33,189.55 L831.74,189.44 L832.14,189.32 L832.54,189.21 L832.92,189.10 L833.31,188.99 L833.68,188.89 L834.05,188.78 L834.41,188.68 L834.77,188.59 L835.12,188.49 L835.46,188.40 L835.80,188.30 L836.13,188.21 L836.45,188.13 L836.76,188.04 L837.07,187.96 L837.38,187.88 L837.67,187.80 L837.96,187.72 L838.25,187.64 L838.53,187.57 L838.80,187.50 L839.06,187.43 L839.32,187.36 L839.57,187.30 L839.81,187.23 L840.05,187.17 L840.28,187.11 L840.50,187.06 L840.72,187.00 L840.93,186.95 L841.13,186.89 L841.33,186.84 L841.52,186.79 L841.71,186.75 L841.88,186.70 L842.06,186.66 L842.22,186.62 L842.38,186.58 L842.53,186.54 L842.67,186.51 L842.81,186.47 L842.94,186.44 L843.06,186.41 L843.18,186.38 L843.29,186.35 L843.40,186.32 L843.49,186.30 L843.58,186.28 L843.67,186.26 L843.74,186.24 L843.81,186.22 L843.88,186.21 L843.94,186.19 L843.99,186.18 L844.03,186.17 L844.07,186.16 L844.10,186.15 L844.12,186.15 L844.14,186.14 L844.15,186.14 L844.15,186.14" fill="none" stroke="#00ff00" stroke-width="4.3" stroke-dasharray="2.6 9.65 10.2 9.35" stroke-linejoin="round"/>
<path d="M138.31,30.67 L139.25,31.43 L139.25,31.43 L139.26,31.44 L139.28,31.45 L139.30,31.47 L139.33,31.49 L139.37,31.52 L139.41,31.56 L139.46,31.60 L139.52,31.64 L139.59,31.69 L139.66,31.75 L139.73,31.81 L139.82,31.88 L139.91,31.95 L140.00,32.03 L140.11,32.12 L140.22,32.20 L140.34,32.30 L140.46,32.40 L140.59,32.51 L140.73,32.62 L140.87,32.73 L141.02,32.85 L141.18,32.98 L141.34,33.12 L141.52,33.25 L141.69,33.40 L141.88,33.55 L142.07,33.70 L142.27,33.86 L142.47,34.03 L142.68,34.20 L142.90,34.38 L143.12,34.57 L143.35,34.75 L143.59,34.95 L143.83,35.15 L144.08,35.36 L144.34,35.57 L144.60,35.79 L144.87,36.01 L145.15,36.24 L145.44,36.47 L145.73,36.72 L146.02,36.96 L146.33,37.21 L146.64,37.47 L146.95,37.74 L147.27,38.01 L147.60,38.29 L147.94,38.57 L148.28,38.86 L148.63,39.15 L148.99,39.45 L149.35,39.76 L149.72,40.07 L150.09,40.39 L150.48,40.71 L150.86,41.05 L151.26,41.38 L151.66,41.73 L152.07,42.08 L152.48,42.43 L152.90,42.80 L153.33,43.16 L153.76,43.54 L154.20,43.92 L154.65,44.31 L155.10,44.70 L155.56,45.10 L156.03,45.51 L156.50,45.92 L156.98,46.34 L157.46,46.77 L157.95,47.20 L158.45,47.64 L158.96,48.09 L159.47,48.54 L159.98,49.00 L160.51,49.47 L161.03,49.94 L161.57,50.42 L162.11,50.91 L162.66,51.40 L163.21,51.91 L163.77,52.41 L164.34,52.93 L164.91,53.45 L165.49,53.98 L166.08,54.51 L166.67,55.05 L167.27,55.60 L167.87,56.16 L168.48,56.72 L169.10,57.29 L169.72,57.87 L170.35,58.45 L170.98,59.04 L171.62,59.64 L172.27,60.25 L172.92,60.86 L173.58,61.48 L174.25,62.11 L174.92,62.74 L175.60,63.39 L176.28,64.04 L176.97,64.69 L177.66,65.36 L178.37,66.03 L179.07,66.71 L179.79,67.39 L180.51,68.09 L181.23,68.79 L181.96,69.50 L182.70,70.21 L183.44,70.94 L184.19,71.67 L184.94,72.41 L185.70,73.15 L186.47,73.91 L187.24,74.67 L188.02,75.43 L188.80,76.21 L189.59,76.99 L190.39,77.79 L191.19,78.58 L191.99,79.39 L192.81,80.20 L193.62,81.03 L194.45,81.86 L195.28,82.69 L196.11,83.54 L196.95,84.39 L197.80,85.25 L198.65,86.11 L199.51,86.99 L200.37,87.87 L201.24,88.76 L202.11,89.66 L202.99,90.56 L203.87,91.48 L204.76,92.40 L205.66,93.32 L206.56,94.26 L207.47,95.20 L208.38,96.15 L209.30,97.11 L210.22,98.07 L211.15,99.05 L212.08,100.03 L213.02,101.01 L213.97,102.01 L214.92,103.01 L215.87,104.02 L216.83,105.04 L217.79,106.06 L218.77,107.09 L219.74,108.13 L220.72,109.17 L221.71,110.23 L222.70,111.29 L223.69,112.35 L224.70,113.43 L225.70,114.51 L226.71,115.60 L227.73,116.69 L228.75,117.79 L229.78,118.90 L230.81,120.02 L231.85,121.14 L232.89,122.27 L233.93,123.40 L234.99,124.55 L236.04,125.70 L237.10,126.85 L238.17,128.01 L239.24,129.18 L240.31,130.35 L241.40,131.53 L242.48,132.72 L243.57,133.91 L244.66,135.11 L245.76,136.32 L246.87,137.53 L247.98,138.74 L249.09,139.97 L250.21,141.19 L251.33,142.43 L252.46,143.67 L253.59,144.91 L254.72,146.16 L255.86,147.41 L257.01,148.68 L258.16,149.94 L259.31,151.21 L260.47,152.49 L261.63,153.77 L262.80,155.05 L263.97,156.34 L265.15,157.63 L266.33,158.93 L267.51,160.23 L268.70,161.54 L269.90,162.85 L271.09,164.16 L272.29,165.48 L273.50,166.80 L274.71,168.13 L275.92,169.46 L277.14,170.79 L278.36,172.13 L279.59,173.47 L280.82,174.81 L282.05,176.15 L283.29,177.50 L284.54,178.85 L285.78,180.20 L287.03,181.56 L288.29,182.92 L289.54,184.28 L290.80,185.64 L292.07,187.00 L293.34,188.37 L294.61,189.73 L295.89,191.10 L297.17,192.47 L298.45,193.84 L299.74,195.21 L301.03,196.58 L302.33,197.96 L303.63,199.33 L304.93,200.70 L306.24,202.07 L307.55,203.45 L308.86,204.82 L310.17,206.19 L311.49,207.57 L312.82,208.94 L314.14,210.31 L315.47,211.68 L316.81,213.05 L318.15,214.42 L319.49,215.78 L320.83,217.15 L322.18,218.51 L323.53,219.87 L324.88,221.23 L326.23,222.58 L327.59,223.93 L328.96,225.29 L330.32,226.63 L331.69,227.98 L333.06,229.32 L334.44,230.66 L335.82,231.99 L337.20,233.32 L338.58,234.64 L339.97,235.97 L341.36,237.28 L342.75,238.60 L344.14,239.90 L345.54,241.21 L346.94,242.51 L348.35,243.80 L349.75,245.08 L351.16,246.37 L352.57,247.64 L353.99,248.91 L355.40,250.17 L356.82,251.43 L358.25,252.68 L359.67,253.92 L361.10,255.15 L362.53,256.38 L363.96,257.60 L365.39,258.82 L366.83,260.02 L368.27,261.22 L369.71,262.41 L371.16,263.59 L372.60,264.76 L374.05,265.92 L375.50,267.07 L376.95,268.22 L378.41,269.35 L379.87,270.48 L381.33,271.60 L382.79,272.70 L384.25,273.80 L385.72,274.88 L387.18,275.96 L388.65,277.02 L390.13,278.07 L391.60,279.12 L393.07,280.15 L394.55,281.17 L396.03,282.17 L397.51,283.17 L398.99,284.15 L400.48,285.12 L401.97,286.08 L403.45,287.03 L404.94,287.97 L406.43,288.89 L407.93,289.79 L409.42,290.69 L410.92,291.57 L412.42,292.44 L413.92,293.30 L415.42,294.14 L416.92,294.96 L418.42,295.78 L419.93,296.58 L421.43,297.36 L422.94,298.13 L424.45,298.88 L425.96,299.62 L427.47,300.35 L428.98,301.06 L430.50,301.76 L432.01,302.43 L433.53,303.10 L435.05,303.75 L436.56,304.38 L438.08,305.00 L439.60,305.60 L441.13,306.18 L442.65,306.75 L444.17,307.30 L445.70,307.84 L447.22,308.36 L448.75,308.86 L450.27,309.35 L451.80,309.82 L453.33,310.27 L454.86,310.70 L456.39,311.12 L457.92,311.52 L459.45,311.91 L460.98,312.27 L462.51,312.62 L464.05,312.95 L465.58,313.27 L467.11,313.56 L468.65,313.84 L470.18,314.10 L471.72,314.34 L473.25,314.57 L474.79,314.78 L476.33,314.97 L477.86,315.14 L479.40,315.29 L480.94,315.43 L482.47,315.54 L484.01,315.64 L485.55,315.73 L487.09,315.79 L488.62,315.83 L490.16,315.86 L491.70,315.87 L493.24,315.86 L494.78,315.83 L496.31,315.79 L497.85,315.73 L499.39,315.64 L500.93,315.54 L502.46,315.43 L504.00,315.29 L505.54,315.14 L507.07,314.97 L508.61,314.78 L510.15,314.57 L511.68,314.34 L513.22,314.10 L514.75,313.84 L516.29,313.56 L517.82,313.27 L519.35,312.95 L520.89,312.62 L522.42,312.27 L523.95,311.91 L525.48,311.52 L527.01,311.12 L528.54,310.70 L530.07,310.27 L531.60,309.82 L533.13,309.35 L534.65,308.86 L536.18,308.36 L537.70,307.84 L539.23,307.30 L540.75,306.75 L542.27,306.18 L543.80,305.60 L545.32,305.00 L546.84,304.38 L548.35,303.75 L549.87,303.10 L551.39,302.43 L552.90,301.76 L554.42,301.06 L555.93,300.35 L557.44,299.62 L558.95,298.88 L560.46,298.13 L561.97,297.36 L563.47,296.58 L564.98,295.78 L566.48,294.96 L567.98,294.14 L569.48,293.30 L570.98,292.44 L572.48,291.57 L573.98,290.69 L575.47,289.79 L576.97,288.89 L578.46,287.97 L579.95,287.03 L581.43,286.08 L582.92,285.12 L584.41,284.15 L585.89,283.17 L587.37,282.17 L588.85,281.17 L590.33,280.15 L591.80,279.12 L593.27,278.07 L594.75,277.02 L596.22,275.96 L597.68,274.88 L599.15,273.80 L600.61,272.70 L602.07,271.60 L603.53,270.48 L604.99,269.35 L606.45,268.22 L607.90,267.07 L609.35,265.92 L610.80,264.76 L612.24,263.59 L613.69,262.41 L615.13,261.22 L616.57,260.02 L618.01,258.82 L619.44,257.60 L620.87,256.38 L622.30,255.15 L623.73,253.92 L625.15,252.68 L626.58,251.43 L628.00,250.17 L629.41,248.91 L630.83,247.64 L632.24,246.37 L633.65,245.08 L635.05,243.80 L636.46,242.51 L637.86,241.21 L639.26,239.90 L640.65,238.60 L642.04,237.28 L643.43,235.97 L644.82,234.64 L646.20,233.32 L647.58,231.99 L648.96,230.66 L650.34,229.32 L651.71,227.98 L653.08,226.63 L654.44,225.29 L655.81,223.93 L657.17,222.58 L658.52,221.23 L659.87,219.87 L661.22,218.51 L662.57,217.15 L663.91,215.78 L665.25,214.42 L666.59,213.05 L667.92,211.68 L669.26,210.31 L670.58,208.94 L671.91,207.57 L673.23,206.19 L674.54,204.82 L675.85,203.45 L677.16,202.07 L678.47,200.70 L679.77,199.33 L681.07,197.96 L682.37,196.58 L683.66,195.21 L684.95,193.84 L686.23,192.47 L687.51,191.10 L688.79,189.73 L690.06,188.37 L691.33,187.00 L692.60,185.64 L693.86,184.28 L695.11,182.92 L696.37,181.56 L697.62,180.20 L698.86,178.85 L700.11,177.50 L701.35,176.15 L702.58,174.81 L703.81,173.47 L705.04,172.13 L706.26,170.79 L707.48,169.46 L708.69,168.13 L709.90,166.80 L711.11,165.48 L712.31,164.16 L713.50,162.85 L714.70,161.54 L715.89,160.23 L717.07,158.93 L718.25,157.63 L719.43,156.34 L720.60,155.05 L721.77,153.77 L722.93,152.49 L724.09,151.21 L725.24,149.94 L726.39,148.68 L727.54,147.41 L728.68,146.16 L729.81,144.91 L730.94,143.67 L732.07,142.43 L733.19,141.19 L734.31,139.97 L735.42,138.74 L736.53,137.53 L737.64,136.32 L738.74,135.11 L739.83,133.91 L740.92,132.72 L742.00,131.53 L743.09,130.35 L744.16,129.18 L745.23,128.01 L746.30,126.85 L747.36,125.70 L748.41,124.55 L749.47,123.40 L750.51,122.27 L751.55,121.14 L752.59,120.02 L753.62,118.90 L754.65,117.79 L755.67,116.69 L756.69,115.60 L757.70,114.51 L758.70,113.43 L759.71,112.35 L760.70,111.29 L761.69,110.23 L762.68,109.17 L763.66,108.13 L764.63,107.09 L765.61,106.06 L766.57,105.04 L767.53,104.02 L768.48,103.01 L769.43,102.01 L770.38,101.01 L771.32,100.03 L772.25,99.05 L773.18,98.07 L774.10,97.11 L775.02,96.15 L775.93,95.20 L776.84,94.26 L777.74,93.32 L778.64,92.40 L779.53,91.48 L780.41,90.56 L781.29,89.66 L782.16,88.76 L783.03,87.87 L783.89,86.99 L784.75,86.11 L785.60,85.25 L786.45,84.39 L787.29,83.54 L788.12,82.69 L788.95,81.86 L789.78,81.03 L790.59,80.20 L791.41,79.39 L792.21,78.58 L793.01,77.79 L793.81,76.99 L794.60,76.21 L795.38,75.43 L796.16,74.67 L796.93,73.91 L797.70,73.15 L798.46,72.41 L799.21,71.67 L799.96,70.94 L800.70,70.21 L801.44,69.50 L802.17,68.79 L802.89,68.09 L803.61,67.39 L804.33,66.71 L805.03,66.03 L805.74,65.36 L806.43,64.69 L807.12,64.04 L807.80,63.39 L808.48,62.74 L809.15,62.11 L809.82,61.48 L810.48,60.86 L811.13,60.25 L811.78,59.64 L812.42,59.04 L813.05,58.45 L813.68,57.87 L814.30,57.29 L814.92,56.72 L815.53,56.16 L816.13,55.60 L816.73,55.05 L817.32,54.51 L817.91,53.98 L818.49,53.45 L819.06,52.93 L819.63,52.41 L820.19,51.91 L820.74,51.40 L821.29,50.91 L821.83,50.42 L822.37,49.94 L822.89,49.47 L823.42,49.00 L823.93,48.54 L824.44,48.09 L824.95,47.64 L825.45,47.20 L825.94,46.77 L826.42,46.34 L826.90,45.92 L827.37,45.51 L827.84,45.10 L828.30,44.70 L828.75,44.31 L829.20,43.92 L829.64,43.54 L830.07,43.16 L830.50,42.80 L830.92,42.43 L831.33,42.08 L831.74,41.73 L832.14,41.38 L832.54,41.05 L832.92,40.71 L833.31,40.39 L833.68,40.07 L834.05,39.76 L834.41,39.45 L834.77,39.15 L835.12,38.86 L835.46,38.57 L835.80,38.29 L836.13,38.01 L836.45,37.74 L836.76,37.47 L837.07,37.21 L837.38,36.96 L837.67,36.72 L837.96,36.47 L838.25,36.24 L838.53,36.01 L838.80,35.79 L839.06,35.57 L839.32,35.36 L839.57,35.15 L839.81,34.95 L840.05,34.75 L840.28,34.57 L840.50,34.38 L840.72,34.20 L840.93,34.03 L841.13,33.86 L841.33,33.70 L841.52,33.55 L841.71,33.40 L841.88,33.25 L842.06,33.12 L842.22,32.98 L842.38,32.85 L842.53,32.73 L842.67,32.62 L842.81,32.51 L842.94,32.40 L843.06,32.30 L843.18,32.20 L843.29,32.12 L843.40,32.03 L843.49,31.95 L843.58,31.88 L843.67,31.81 L843.74,31.75 L843.81,31.69 L843.88,31.64 L843.94,31.60 L843.99,31.56 L844.03,31.52 L844.07,31.49 L844.10,31.47 L844.12,31.45 L844.14,31.44 L844.15,31.43 L844.15,31.43 L845.09,30.67" fill="none" stroke="#ff8000" stroke-width="4.3" stroke-linejoin="round"/>
<path d="M139.25,691.30 L139.25,691.23 L139.26,691.15 L139.28,691.08 L139.30,691.00 L139.33,690.93 L139.37,690.86 L139.41,690.78 L139.46,690.71 L139.52,690.63 L139.59,690.56 L139.66,690.49 L139.73,690.41 L139.82,690.34 L139.91,690.26 L140.00,690.19 L140.11,690.12 L140.22,690.04 L140.34,689.97 L140.46,689.90 L140.59,689.82 L140.73,689.75 L140.87,689.67 L141.02,689.60 L141.18,689.53 L141.34,689.45 L141.52,689.38 L141.69,689.31 L141.88,689.23 L142.07,689.16 L142.27,689.09 L142.47,689.01 L142.68,688.94 L142.90,688.87 L143.12,688.79 L143.35,688.72 L143.59,688.65 L143.83,688.57 L144.08,688.50 L144.34,688.43 L144.60,688.36 L144.87,688.28 L145.15,688.21 L145.44,688.14 L145.73,688.07 L146.02,687.99 L146.33,687.92 L146.64,687.85 L146.95,687.78 L147.27,687.70 L147.60,687.63 L147.94,687.56 L148.28,687.49 L148.63,687.42 L148.99,687.34 L149.35,687.27 L149.72,687.20 L150.09,687.13 L150.48,687.06 L150.86,686.99 L151.26,686.92 L151.66,686.84 L152.07,686.77 L152.48,686.70 L152.90,686.63 L153.33,686.56 L153.76,686.49 L154.20,686.42 L154.65,686.35 L155.10,686.28 L155.56,686.21 L156.03,686.14 L156.50,686.07 L156.98,686.00 L157.46,685.93 L157.95,685.86 L158.45,685.79 L158.96,685.72 L159.47,685.65 L159.98,685.58 L160.51,685.52 L161.03,685.45 L161.57,685.38 L162.11,685.31 L162.66,685.24 L163.21,685.17 L163.77,685.11 L164.34,685.04 L164.91,684.97 L165.49,684.90 L166.08,684.84 L166.67,684.77 L167.27,684.70 L167.87,684.64 L168.48,684.57 L169.10,684.50 L169.72,684.44 L170.35,684.37 L170.98,684.31 L171.62,684.24 L172.27,684.18 L172.92,684.11 L173.58,684.05 L174.25,683.98 L174.92,683.92 L175.60,683.85 L176.28,683.79 L176.97,683.73 L177.66,683.66 L178.37,683.60 L179.07,683.54 L179.79,683.47 L180.51,683.41 L181.23,683.35 L181.96,683.29 L182.70,683.23 L183.44,683.17 L184.19,683.10 L184.94,683.04 L185.70,682.98 L186.47,682.92 L187.24,682.86 L188.02,682.80 L188.80,682.74 L189.59,682.69 L190.39,682.63 L191.19,682.57 L191.99,682.51 L192.81,682.45 L193.62,682.40 L194.45,682.34 L195.28,682.28 L196.11,682.23 L196.95,682.17 L197.80,682.11 L198.65,682.06 L199.51,682.00 L200.37,681.95 L201.24,681.90 L202.11,681.84 L202.99,681.79 L203.87,681.74 L204.76,681.68 L205.66,681.63 L206.56,681.58 L207.47,681.53 L208.38,681.48 L209.30,681.43 L210.22,681.38 L211.15,681.33 L212.08,681.28 L213.02,681.23 L213.97,681.18 L214.92,681.13 L215.87,681.09 L216.83,681.04 L217.79,680.99 L218.77,680.95 L219.74,680.90 L220.72,680.86 L221.71,680.81 L222.70,680.77 L223.69,680.72 L224.70,680.68 L225.70,680.64 L226.71,680.60 L227.73,680.56 L228.75,680.52 L229.78,680.48 L230.81,680.44 L231.85,680.40 L232.89,680.36 L233.93,680.32 L234.99,680.29 L236.04,680.25 L237.10,680.21 L238.17,680.18 L239.24,680.14 L240.31,680.11 L241.40,680.08 L242.48,680.05 L243.57,680.01 L244.66,679.98 L245.76,679.95 L246.87,679.92 L247.98,679.89 L249.09,679.86 L250.21,679.84 L251.33,679.81 L252.46,679.78 L253.59,679.76 L254.72,679.73 L255.86,679.71 L257.01,679.69 L258.16,679.67 L259.31,679.64 L260.47,679.62 L261.63,679.60 L262.80,679.58 L263.97,679.57 L265.15,679.55 L266.33,679.53 L267.51,679.52 L268.70,679.50 L269.90,679.49 L271.09,679.47 L272.29,679.46 L273.50,679.45 L274.71,679.44 L275.92,679.43 L277.14,679.42 L278.36,679.42 L279.59,679.41 L280.82,679.40 L282.05,679.40 L283.29,679.39 L284.54,679.39 L285.78,679.39 L287.03,679.39 L288.29,679.39 L289.54,679.39 L290.80,679.39 L292.07,679.40 L293.34,679.40 L294.61,679.41 L295.89,679.41 L297.17,679.42 L298.45,679.43 L299.74,679.44 L301.03,679.45 L302.33,679.46 L303.63,679.48 L304.93,679.49 L306.24,679.51 L307.55,679.52 L308.86,679.54 L310.17,679.56 L311.49,679.58 L312.82,679.60 L314.14,679.62 L315.47,679.65 L316.81,679.67 L318.15,679.70 L319.49,679.72 L320.83,679.75 L322.18,679.78 L323.53,679.81 L324.88,679.85 L326.23,679.88 L327.59,679.91 L328.96,679.95 L330.32,679.99 L331.69,680.03 L333.06,680.07 L334.44,680.11 L335.82,680.15 L337.20,680.19 L338.58,680.24 L339.97,680.29 L341.36,680.33 L342.75,680.38 L344.14,680.43 L345.54,680.48 L346.94,680.54 L348.35,680.59 L349.75,680.65 L351.16,680.70 L352.57,680.76 L353.99,680.82 L355.40,680.88 L356.82,680.95 L358.25,681.01 L359.67,681.08 L361.10,681.14 L362.53,681.21 L363.96,681.28 L365.39,681.35 L366.83,681.42 L368.27,681.49 L369.71,681.57 L371.16,681.65 L372.60,681.72 L374.05,681.80 L375.50,681.88 L376.95,681.96 L378.41,682.05 L379.87,682.13 L381.33,682.22 L382.79,682.30 L384.25,682.39 L385.72,682.48 L387.18,682.57 L388.65,682.66 L390.13,682.76 L391.60,682.85 L393.07,682.95 L394.55,683.05 L396.03,683.14 L397.51,683.24 L398.99,683.34 L400.48,683.45 L401.97,683.55 L403.45,683.66 L404.94,683.76 L406.43,683.87 L407.93,683.98 L409.42,684.09 L410.92,684.20 L412.42,684.31 L413.92,684.42 L415.42,684.54 L416.92,684.65 L418.42,684.77 L419.93,684.89 L421.43,685.01 L422.94,685.13 L424.45,685.25 L425.96,685.37 L427.47,685.49 L428.98,685.62 L430.50,685.74 L432.01,685.87 L433.53,685.99 L435.05,686.12 L436.56,686.25 L438.08,686.38 L439.60,686.51 L441.13,686.64 L442.65,686.77 L444.17,686.91 L445.70,687.04 L447.22,687.18 L448.75,687.31 L450.27,687.45 L451.80,687.58 L453.33,687.72 L454.86,687.86 L456.39,688.00 L457.92,688.14 L459.45,688.28 L460.98,688.42 L462.51,688.56 L464.05,688.70 L465.58,688.84 L467.11,688.98 L468.65,689.13 L470.18,689.27 L471.72,689.41 L473.25,689.56 L474.79,689.70 L476.33,689.84 L477.86,689.99 L479.40,690.13 L480.94,690.28 L482.47,690.43 L484.01,690.57 L485.55,690.72 L487.09,690.86 L488.62,691.01 L490.16,691.15 L491.70,691.30 L493.24,691.45 L494.78,691.59 L496.31,691.74 L497.85,691.88 L499.39,692.03 L500.93,692.17 L502.46,692.32 L504.00,692.47 L505.54,692.61 L507.07,692.76 L508.61,692.90 L510.15,693.04 L511.68,693.19 L513.22,693.33 L514.75,693.47 L516.29,693.62 L517.82,693.76 L519.35,693.90 L520.89,694.04 L522.42,694.18 L523.95,694.32 L525.48,694.46 L527.01,694.60 L528.54,694.74 L530.07,694.88 L531.60,695.02 L533.13,695.15 L534.65,695.29 L536.18,695.42 L537.70,695.56 L539.23,695.69 L540.75,695.83 L542.27,695.96 L543.80,696.09 L545.32,696.22 L546.84,696.35 L548.35,696.48 L549.87,696.61 L551.39,696.73 L552.90,696.86 L554.42,696.98 L555.93,697.11 L557.44,697.23 L558.95,697.35 L560.46,697.47 L561.97,697.59 L563.47,697.71 L564.98,697.83 L566.48,697.95 L567.98,698.06 L569.48,698.18 L570.98,698.29 L572.48,698.40 L573.98,698.51 L575.47,698.62 L576.97,698.73 L578.46,698.84 L579.95,698.94 L581.43,699.05 L582.92,699.15 L584.41,699.26 L585.89,699.36 L587.37,699.46 L588.85,699.55 L590.33,699.65 L591.80,699.75 L593.27,699.84 L594.75,699.94 L596.22,700.03 L597.68,700.12 L599.15,700.21 L600.61,700.30 L602.07,700.38 L603.53,700.47 L604.99,700.55 L606.45,700.64 L607.90,700.72 L609.35,700.80 L610.80,700.88 L612.24,700.95 L613.69,701.03 L615.13,701.11 L616.57,701.18 L618.01,701.25 L619.44,701.32 L620.87,701.39 L622.30,701.46 L623.73,701.52 L625.15,701.59 L626.58,701.65 L628.00,701.72 L629.41,701.78 L630.83,701.84 L632.24,701.90 L633.65,701.95 L635.05,702.01 L636.46,702.06 L637.86,702.12 L639.26,702.17 L640.65,702.22 L642.04,702.27 L643.43,702.31 L644.82,702.36 L646.20,702.41 L647.58,702.45 L648.96,702.49 L650.34,702.53 L651.71,702.57 L653.08,702.61 L654.44,702.65 L655.81,702.69 L657.17,702.72 L658.52,702.75 L659.87,702.79 L661.22,702.82 L662.57,702.85 L663.91,702.88 L665.25,702.90 L666.59,702.93 L667.92,702.95 L669.26,702.98 L670.58,703.00 L671.91,703.02 L673.23,703.04 L674.54,703.06 L675.85,703.08 L677.16,703.09 L678.47,703.11 L679.77,703.12 L681.07,703.14 L682.37,703.15 L683.66,703.16 L684.95,703.17 L686.23,703.18 L687.51,703.19 L688.79,703.19 L690.06,703.20 L691.33,703.20 L692.60,703.21 L693.86,703.21 L695.11,703.21 L696.37,703.21 L697.62,703.21 L698.86,703.21 L700.11,703.21 L701.35,703.20 L702.58,703.20 L703.81,703.19 L705.04,703.18 L706.26,703.18 L707.48,703.17 L708.69,703.16 L709.90,703.15 L711.11,703.14 L712.31,703.13 L713.50,703.11 L714.70,703.10 L715.89,703.08 L717.07,703.07 L718.25,703.05 L719.43,703.03 L720.60,703.02 L721.77,703.00 L722.93,702.98 L724.09,702.96 L725.24,702.93 L726.39,702.91 L727.54,702.89 L728.68,702.87 L729.81,702.84 L730.94,702.82 L732.07,702.79 L733.19,702.76 L734.31,702.74 L735.42,702.71 L736.53,702.68 L737.64,702.65 L738.74,702.62 L739.83,702.59 L740.92,702.55 L742.00,702.52 L743.09,702.49 L744.16,702.46 L745.23,702.42 L746.30,702.39 L747.36,702.35 L748.41,702.31 L749.47,702.28 L750.51,702.24 L751.55,702.20 L752.59,702.16 L753.62,702.12 L754.65,702.08 L755.67,702.04 L756.69,702.00 L757.70,701.96 L758.70,701.92 L759.71,701.88 L760.70,701.83 L761.69,701.79 L762.68,701.74 L763.66,701.70 L764.63,701.65 L765.61,701.61 L766.57,701.56 L767.53,701.51 L768.48,701.47 L769.43,701.42 L770.38,701.37 L771.32,701.32 L772.25,701.27 L773.18,701.22 L774.10,701.17 L775.02,701.12 L775.93,701.07 L776.84,701.02 L777.74,700.97 L778.64,700.92 L779.53,700.86 L780.41,700.81 L781.29,700.76 L782.16,700.70 L783.03,700.65 L783.89,700.60 L784.75,700.54 L785.60,700.49 L786.45,700.43 L787.29,700.37 L788.12,700.32 L788.95,700.26 L789.78,700.20 L790.59,700.15 L791.41,700.09 L792.21,700.03 L793.01,699.97 L793.81,699.91 L794.60,699.86 L795.38,699.80 L796.16,699.74 L796.93,699.68 L797.70,699.62 L798.46,699.56 L799.21,699.50 L799.96,699.43 L800.70,699.37 L801.44,699.31 L802.17,699.25 L802.89,699.19 L803.61,699.13 L804.33,699.06 L805.03,699.00 L805.74,698.94 L806.43,698.87 L807.12,698.81 L807.80,698.75 L808.48,698.68 L809.15,698.62 L809.82,698.55 L810.48,698.49 L811.13,698.42 L811.78,698.36 L812.42,698.29 L813.05,698.23 L813.68,698.16 L814.30,698.10 L814.92,698.03 L815.53,697.96 L816.13,697.90 L816.73,697.83 L817.32,697.76 L817.91,697.70 L818.49,697.63 L819.06,697.56 L819.63,697.49 L820.19,697.43 L820.74,697.36 L821.29,697.29 L821.83,697.22 L822.37,697.15 L822.89,697.08 L823.42,697.02 L823.93,696.95 L824.44,696.88 L824.95,696.81 L825.45,696.74 L825.94,696.67 L826.42,696.60 L826.90,696.53 L827.37,696.46 L827.84,696.39 L828.30,696.32 L828.75,696.25 L829.20,696.18 L829.64,696.11 L830.07,696.04 L830.50,695.97 L830.92,695.90 L831.33,695.83 L831.74,695.76 L832.14,695.68 L832.54,695.61 L832.92,695.54 L833.31,695.47 L833.68,695.40 L834.05,695.33 L834.41,695.26 L834.77,695.18 L835.12,695.11 L835.46,695.04 L835.80,694.97 L836.13,694.90 L836.45,694.82 L836.76,694.75 L837.07,694.68 L837.38,694.61 L837.67,694.53 L837.96,694.46 L838.25,694.39 L838.53,694.32 L838.80,694.24 L839.06,694.17 L839.32,694.10 L839.57,694.03 L839.81,693.95 L840.05,693.88 L840.28,693.81 L840.50,693.73 L840.72,693.66 L840.93,693.59 L841.13,693.51 L841.33,693.44 L841.52,693.37 L841.71,693.29 L841.88,693.22 L842.06,693.15 L842.22,693.07 L842.38,693.00 L842.53,692.93 L842.67,692.85 L842.81,692.78 L842.94,692.70 L843.06,692.63 L843.18,692.56 L843.29,692.48 L843.40,692.41 L843.49,692.34 L843.58,692.26 L843.67,692.19 L843.74,692.11 L843.81,692.04 L843.88,691.97 L843.94,691.89 L843.99,691.82 L844.03,691.74 L844.07,691.67 L844.10,691.60 L844.12,691.52 L844.14,691.45 L844.15,691.37 L844.15,691.30" fill="none" stroke="#ff0000" stroke-width="4.3" stroke-dasharray="2.6 9.65" stroke-linejoin="round"/>
<path d="M139.25,691.30 L139.25,691.73 L139.26,692.15 L139.28,692.58 L139.30,693.00 L139.33,693.43 L139.37,693.86 L139.41,694.28 L139.46,694.71 L139.52,695.13 L139.59,695.56 L139.66,695.98 L139.73,696.41 L139.82,696.83 L139.91,697.26 L140.00,697.68 L140.11,698.11 L140.22,698.53 L140.34,698.96 L140.46,699.38 L140.59,699.80 L140.73,700.23 L140.87,700.65 L141.02,701.07 L141.18,701.50 L141.34,701.92 L141.52,702.34 L141.69,702.76 L141.88,703.18 L142.07,703.61 L142.27,704.03 L142.47,704.45 L142.68,704.87 L142.90,705.29 L143.12,705.71 L143.35,706.12 L143.59,706.54 L143.83,706.96 L144.08,707.38 L144.34,707.80 L144.60,708.21 L144.87,708.63 L145.15,709.04 L145.44,709.46 L145.73,709.87 L146.02,710.29 L146.33,710.70 L146.64,711.12 L146.95,711.53 L147.27,711.94 L147.60,712.35 L147.94,712.76 L148.28,713.17 L148.63,713.58 L148.99,713.99 L149.35,714.40 L149.72,714.81 L150.09,715.21 L150.48,715.62 L150.86,716.02 L151.26,716.43 L151.66,716.83 L152.07,717.23 L152.48,717.64 L152.90,718.04 L153.33,718.44 L153.76,718.84 L154.20,719.24 L154.65,719.63 L155.10,720.03 L155.56,720.43 L156.03,720.82 L156.50,721.21 L156.98,721.61 L157.46,722.00 L157.95,722.39 L158.45,722.78 L158.96,723.17 L159.47,723.56 L159.98,723.95 L160.51,724.33 L161.03,724.72 L161.57,725.10 L162.11,725.48 L162.66,725.86 L163.21,726.24 L163.77,726.62 L164.34,727.00 L164.91,727.38 L165.49,727.75 L166.08,728.13 L166.67,728.50 L167.27,728.87 L167.87,729.24 L168.48,729.61 L169.10,729.98 L169.72,730.34 L170.35,730.71 L170.98,731.07 L171.62,731.43 L172.27,731.79 L172.92,732.15 L173.58,732.51 L174.25,732.86 L174.92,733.22 L175.60,733.57 L176.28,733.92 L176.97,734.27 L177.66,734.62 L178.37,734.96 L179.07,735.31 L179.79,735.65 L180.51,735.99 L181.23,736.33 L181.96,736.66 L182.70,737.00 L183.44,737.33 L184.19,737.66 L184.94,737.99 L185.70,738.32 L186.47,738.65 L187.24,738.97 L188.02,739.29 L188.80,739.61 L189.59,739.93 L190.39,740.24 L191.19,740.55 L191.99,740.87 L192.81,741.17 L193.62,741.48 L194.45,741.79 L195.28,742.09 L196.11,742.39 L196.95,742.68 L197.80,742.98 L198.65,743.27 L199.51,743.56 L200.37,743.85 L201.24,744.13 L202.11,744.42 L202.99,744.70 L203.87,744.98 L204.76,745.25 L205.66,745.52 L206.56,745.79 L207.47,746.06 L208.38,746.32 L209.30,746.58 L210.22,746.84 L211.15,747.10 L212.08,747.35 L213.02,747.60 L213.97,747.85 L214.92,748.09 L215.87,748.33 L216.83,748.57 L217.79,748.81 L218.77,749.04 L219.74,749.27 L220.72,749.49 L221.71,749.72 L222.70,749.93 L223.69,750.15 L224.70,750.36 L225.70,750.57 L226.71,750.78 L227.73,750.98 L228.75,751.18 L229.78,751.37 L230.81,751.56 L231.85,751.75 L232.89,751.94 L233.93,752.12 L234.99,752.29 L236.04,752.47 L237.10,752.64 L238.17,752.80 L239.24,752.96 L240.31,753.12 L241.40,753.28 L242.48,753.43 L243.57,753.57 L244.66,753.71 L245.76,753.85 L246.87,753.98 L247.98,754.11 L249.09,754.24 L250.21,754.36 L251.33,754.48 L252.46,754.59 L253.59,754.70 L254.72,754.80 L255.86,754.90 L257.01,754.99 L258.16,755.08 L259.31,755.17 L260.47,755.25 L261.63,755.33 L262.80,755.40 L263.97,755.46 L265.15,755.52 L266.33,755.58 L267.51,755.63 L268.70,755.68 L269.90,755.72 L271.09,755.76 L272.29,755.79 L273.50,755.82 L274.71,755.84 L275.92,755.86 L277.14,755.87 L278.36,755.87 L279.59,755.87 L280.82,755.87 L282.05,755.86 L283.29,755.85 L284.54,755.82 L285.78,755.80 L287.03,755.77 L288.29,755.73 L289.54,755.69 L290.80,755.64 L292.07,755.58 L293.34,755.52 L294.61,755.46 L295.89,755.39 L297.17,755.31 L298.45,755.23 L299.74,755.14 L301.03,755.04 L302.33,754.94 L303.63,754.84 L304.93,754.72 L306.24,754.60 L307.55,754.48 L308.86,754.35 L310.17,754.21 L311.49,754.07 L312.82,753.92 L314.14,753.76 L315.47,753.60 L316.81,753.43 L318.15,753.26 L319.49,753.08 L320.83,752.89 L322.18,752.69 L323.53,752.49 L324.88,752.29 L326.23,752.08 L327.59,751.86 L328.96,751.63 L330.32,751.40 L331.69,751.16 L333.06,750.91 L334.44,750.66 L335.82,750.40 L337.20,750.14 L338.58,749.87 L339.97,749.59 L341.36,749.30 L342.75,749.01 L344.14,748.71 L345.54,748.41 L346.94,748.10 L348.35,747.78 L349.75,747.45 L351.16,747.12 L352.57,746.78 L353.99,746.44 L355.40,746.09 L356.82,745.73 L358.25,745.36 L359.67,744.99 L361.10,744.61 L362.53,744.23 L363.96,743.84 L365.39,743.44 L366.83,743.04 L368.27,742.62 L369.71,742.21 L371.16,741.78 L372.60,741.35 L374.05,740.92 L375.50,740.47 L376.95,740.02 L378.41,739.57 L379.87,739.10 L381.33,738.63 L382.79,738.16 L384.25,737.68 L385.72,737.19 L387.18,736.69 L388.65,736.19 L390.13,735.69 L391.60,735.17 L393.07,734.65 L394.55,734.13 L396.03,733.60 L397.51,733.06 L398.99,732.52 L400.48,731.97 L401.97,731.42 L403.45,730.86 L404.94,730.29 L406.43,729.72 L407.93,729.14 L409.42,728.56 L410.92,727.97 L412.42,727.38 L413.92,726.78 L415.42,726.18 L416.92,725.57 L418.42,724.96 L419.93,724.34 L421.43,723.71 L422.94,723.08 L424.45,722.45 L425.96,721.81 L427.47,721.17 L428.98,720.52 L430.50,719.87 L432.01,719.22 L433.53,718.56 L435.05,717.89 L436.56,717.22 L438.08,716.55 L439.60,715.87 L441.13,715.19 L442.65,714.51 L444.17,713.82 L445.70,713.13 L447.22,712.44 L448.75,711.74 L450.27,711.04 L451.80,710.33 L453.33,709.63 L454.86,708.92 L456.39,708.20 L457.92,707.49 L459.45,706.77 L460.98,706.05 L462.51,705.33 L464.05,704.60 L465.58,703.88 L467.11,703.15 L468.65,702.42 L470.18,701.68 L471.72,700.95 L473.25,700.21 L474.79,699.47 L476.33,698.74 L477.86,697.99 L479.40,697.25 L480.94,696.51 L482.47,695.77 L484.01,695.03 L485.55,694.28 L487.09,693.54 L488.62,692.79 L490.16,692.05 L491.70,691.30 L493.24,690.55 L494.78,689.81 L496.31,689.06 L497.85,688.32 L499.39,687.57 L500.93,686.83 L502.46,686.09 L504.00,685.35 L505.54,684.61 L507.07,683.86 L508.61,683.13 L510.15,682.39 L511.68,681.65 L513.22,680.92 L514.75,680.18 L516.29,679.45 L517.82,678.72 L519.35,678.00 L520.89,677.27 L522.42,676.55 L523.95,675.83 L525.48,675.11 L527.01,674.40 L528.54,673.68 L530.07,672.97 L531.60,672.27 L533.13,671.56 L534.65,670.86 L536.18,670.16 L537.70,669.47 L539.23,668.78 L540.75,668.09 L542.27,667.41 L543.80,666.73 L545.32,666.05 L546.84,665.38 L548.35,664.71 L549.87,664.04 L551.39,663.38 L552.90,662.73 L554.42,662.08 L555.93,661.43 L557.44,660.79 L558.95,660.15 L560.46,659.52 L561.97,658.89 L563.47,658.26 L564.98,657.64 L566.48,657.03 L567.98,656.42 L569.48,655.82 L570.98,655.22 L572.48,654.63 L573.98,654.04 L575.47,653.46 L576.97,652.88 L578.46,652.31 L579.95,651.74 L581.43,651.18 L582.92,650.63 L584.41,650.08 L585.89,649.54 L587.37,649.00 L588.85,648.47 L590.33,647.95 L591.80,647.43 L593.27,646.91 L594.75,646.41 L596.22,645.91 L597.68,645.41 L599.15,644.92 L600.61,644.44 L602.07,643.97 L603.53,643.50 L604.99,643.03 L606.45,642.58 L607.90,642.13 L609.35,641.68 L610.80,641.25 L612.24,640.82 L613.69,640.39 L615.13,639.98 L616.57,639.56 L618.01,639.16 L619.44,638.76 L620.87,638.37 L622.30,637.99 L623.73,637.61 L625.15,637.24 L626.58,636.87 L628.00,636.51 L629.41,636.16 L630.83,635.82 L632.24,635.48 L633.65,635.15 L635.05,634.82 L636.46,634.50 L637.86,634.19 L639.26,633.89 L640.65,633.59 L642.04,633.30 L643.43,633.01 L644.82,632.73 L646.20,632.46 L647.58,632.20 L648.96,631.94 L650.34,631.69 L651.71,631.44 L653.08,631.20 L654.44,630.97 L655.81,630.74 L657.17,630.52 L658.52,630.31 L659.87,630.11 L661.22,629.91 L662.57,629.71 L663.91,629.52 L665.25,629.34 L666.59,629.17 L667.92,629.00 L669.26,628.84 L670.58,628.68 L671.91,628.53 L673.23,628.39 L674.54,628.25 L675.85,628.12 L677.16,628.00 L678.47,627.88 L679.77,627.76 L681.07,627.66 L682.37,627.56 L683.66,627.46 L684.95,627.37 L686.23,627.29 L687.51,627.21 L688.79,627.14 L690.06,627.08 L691.33,627.02 L692.60,626.96 L693.86,626.91 L695.11,626.87 L696.37,626.83 L697.62,626.80 L698.86,626.78 L700.11,626.75 L701.35,626.74 L702.58,626.73 L703.81,626.73 L705.04,626.73 L706.26,626.73 L707.48,626.74 L708.69,626.76 L709.90,626.78 L711.11,626.81 L712.31,626.84 L713.50,626.88 L714.70,626.92 L715.89,626.97 L717.07,627.02 L718.25,627.08 L719.43,627.14 L720.60,627.20 L721.77,627.27 L722.93,627.35 L724.09,627.43 L725.24,627.52 L726.39,627.61 L727.54,627.70 L728.68,627.80 L729.81,627.90 L730.94,628.01 L732.07,628.12 L733.19,628.24 L734.31,628.36 L735.42,628.49 L736.53,628.62 L737.64,628.75 L738.74,628.89 L739.83,629.03 L740.92,629.17 L742.00,629.32 L743.09,629.48 L744.16,629.64 L745.23,629.80 L746.30,629.96 L747.36,630.13 L748.41,630.31 L749.47,630.48 L750.51,630.66 L751.55,630.85 L752.59,631.04 L753.62,631.23 L754.65,631.42 L755.67,631.62 L756.69,631.82 L757.70,632.03 L758.70,632.24 L759.71,632.45 L760.70,632.67 L761.69,632.88 L762.68,633.11 L763.66,633.33 L764.63,633.56 L765.61,633.79 L766.57,634.03 L767.53,634.27 L768.48,634.51 L769.43,634.75 L770.38,635.00 L771.32,635.25 L772.25,635.50 L773.18,635.76 L774.10,636.02 L775.02,636.28 L775.93,636.54 L776.84,636.81 L777.74,637.08 L778.64,637.35 L779.53,637.62 L780.41,637.90 L781.29,638.18 L782.16,638.47 L783.03,638.75 L783.89,639.04 L784.75,639.33 L785.60,639.62 L786.45,639.92 L787.29,640.21 L788.12,640.51 L788.95,640.81 L789.78,641.12 L790.59,641.43 L791.41,641.73 L792.21,642.05 L793.01,642.36 L793.81,642.67 L794.60,642.99 L795.38,643.31 L796.16,643.63 L796.93,643.95 L797.70,644.28 L798.46,644.61 L799.21,644.94 L799.96,645.27 L800.70,645.60 L801.44,645.94 L802.17,646.27 L802.89,646.61 L803.61,646.95 L804.33,647.29 L805.03,647.64 L805.74,647.98 L806.43,648.33 L807.12,648.68 L807.80,649.03 L808.48,649.38 L809.15,649.74 L809.82,650.09 L810.48,650.45 L811.13,650.81 L811.78,651.17 L812.42,651.53 L813.05,651.89 L813.68,652.26 L814.30,652.62 L814.92,652.99 L815.53,653.36 L816.13,653.73 L816.73,654.10 L817.32,654.47 L817.91,654.85 L818.49,655.22 L819.06,655.60 L819.63,655.98 L820.19,656.36 L820.74,656.74 L821.29,657.12 L821.83,657.50 L822.37,657.88 L822.89,658.27 L823.42,658.65 L823.93,659.04 L824.44,659.43 L824.95,659.82 L825.45,660.21 L825.94,660.60 L826.42,660.99 L826.90,661.39 L827.37,661.78 L827.84,662.17 L828.30,662.57 L828.75,662.97 L829.20,663.36 L829.64,663.76 L830.07,664.16 L830.50,664.56 L830.92,664.96 L831.33,665.37 L831.74,665.77 L832.14,666.17 L832.54,666.58 L832.92,666.98 L833.31,667.39 L833.68,667.79 L834.05,668.20 L834.41,668.61 L834.77,669.02 L835.12,669.43 L835.46,669.84 L835.80,670.25 L836.13,670.66 L836.45,671.07 L836.76,671.48 L837.07,671.90 L837.38,672.31 L837.67,672.73 L837.96,673.14 L838.25,673.56 L838.53,673.97 L838.80,674.39 L839.06,674.80 L839.32,675.22 L839.57,675.64 L839.81,676.06 L840.05,676.48 L840.28,676.89 L840.50,677.31 L840.72,677.73 L840.93,678.15 L841.13,678.57 L841.33,678.99 L841.52,679.42 L841.71,679.84 L841.88,680.26 L842.06,680.68 L842.22,681.10 L842.38,681.53 L842.53,681.95 L842.67,682.37 L842.81,682.80 L842.94,683.22 L843.06,683.64 L843.18,684.07 L843.29,684.49 L843.40,684.92 L843.49,685.34 L843.58,685.77 L843.67,686.19 L843.74,686.62 L843.81,687.04 L843.88,687.47 L843.94,687.89 L843.99,688.32 L844.03,688.74 L844.07,689.17 L844.10,689.60 L844.12,690.02 L844.14,690.45 L844.15,690.87 L844.15,691.30" fill="none" stroke="#0000ff" stroke-width="4.3" stroke-dasharray="10.2 9.4" stroke-linejoin="round"/>
<path d="M139.25,691.30 L139.25,692.44 L139.26,693.59 L139.28,694.73 L139.30,695.87 L139.33,697.02 L139.37,698.16 L139.41,699.30 L139.46,700.44 L139.52,701.58 L139.59,702.72 L139.66,703.86 L139.73,705.00 L139.82,706.14 L139.91,707.28 L140.00,708.42 L140.11,709.55 L140.22,710.69 L140.34,711.83 L140.46,712.96 L140.59,714.09 L140.73,715.22 L140.87,716.36 L141.02,717.48 L141.18,718.61 L141.34,719.74 L141.52,720.87 L141.69,721.99 L141.88,723.11 L142.07,724.23 L142.27,725.35 L142.47,726.47 L142.68,727.59 L142.90,728.70 L143.12,729.81 L143.35,730.93 L143.59,732.03 L143.83,733.14 L144.08,734.25 L144.34,735.35 L144.60,736.45 L144.87,737.55 L145.15,738.65 L145.44,739.74 L145.73,740.83 L146.02,741.92 L146.33,743.01 L146.64,744.09 L146.95,745.17 L147.27,746.25 L147.60,747.33 L147.94,748.40 L148.28,749.47 L148.63,750.54 L148.99,751.61 L149.35,752.67 L149.72,753.73 L150.09,754.78 L150.48,755.83 L150.86,756.88 L151.26,757.93 L151.66,758.97 L152.07,760.01 L152.48,761.05 L152.90,762.08 L153.33,763.11 L153.76,764.13 L154.20,765.16 L154.65,766.17 L155.10,767.19 L155.56,768.20 L156.03,769.20 L156.50,770.21 L156.98,771.20 L157.46,772.20 L157.95,773.19 L158.45,774.17 L158.96,775.16 L159.47,776.13 L159.98,777.10 L160.51,778.07 L161.03,779.04 L161.57,779.99 L162.11,780.95 L162.66,781.90 L163.21,782.84 L163.77,783.78 L164.34,784.72 L164.91,785.65 L165.49,786.57 L166.08,787.49 L166.67,788.41 L167.27,789.32 L167.87,790.22 L168.48,791.12 L169.10,792.01 L169.72,792.90 L170.35,793.78 L170.98,794.66 L171.62,795.53 L172.27,796.40 L172.92,797.26 L173.58,798.11 L174.25,798.96 L174.92,799.80 L175.60,800.64 L176.28,801.47 L176.97,802.29 L177.66,803.11 L178.37,803.92 L179.07,804.72 L179.79,805.52 L180.51,806.31 L181.23,807.10 L181.96,807.87 L182.70,808.65 L183.44,809.41 L184.19,810.17 L184.94,810.92 L185.70,811.66 L186.47,812.40 L187.24,813.13 L188.02,813.85 L188.80,814.57 L189.59,815.28 L190.39,815.98 L191.19,816.67 L191.99,817.36 L192.81,818.04 L193.62,818.71 L194.45,819.37 L195.28,820.03 L196.11,820.67 L196.95,821.31 L197.80,821.94 L198.65,822.57 L199.51,823.18 L200.37,823.79 L201.24,824.39 L202.11,824.98 L202.99,825.56 L203.87,826.14 L204.76,826.70 L205.66,827.26 L206.56,827.81 L207.47,828.35 L208.38,828.88 L209.30,829.40 L210.22,829.91 L211.15,830.42 L212.08,830.91 L213.02,831.40 L213.97,831.87 L214.92,832.34 L215.87,832.80 L216.83,833.25 L217.79,833.69 L218.77,834.12 L219.74,834.54 L220.72,834.95 L221.71,835.35 L222.70,835.74 L223.69,836.12 L224.70,836.49 L225.70,836.86 L226.71,837.21 L227.73,837.55 L228.75,837.88 L229.78,838.20 L230.81,838.51 L231.85,838.81 L232.89,839.11 L233.93,839.39 L234.99,839.66 L236.04,839.91 L237.10,840.16 L238.17,840.40 L239.24,840.63 L240.31,840.84 L241.40,841.05 L242.48,841.24 L243.57,841.43 L244.66,841.60 L245.76,841.76 L246.87,841.91 L247.98,842.05 L249.09,842.18 L250.21,842.30 L251.33,842.40 L252.46,842.50 L253.59,842.58 L254.72,842.65 L255.86,842.71 L257.01,842.76 L258.16,842.80 L259.31,842.82 L260.47,842.83 L261.63,842.84 L262.80,842.82 L263.97,842.80 L265.15,842.77 L266.33,842.72 L267.51,842.66 L268.70,842.59 L269.90,842.51 L271.09,842.42 L272.29,842.31 L273.50,842.19 L274.71,842.06 L275.92,841.92 L277.14,841.76 L278.36,841.60 L279.59,841.42 L280.82,841.23 L282.05,841.02 L283.29,840.80 L284.54,840.57 L285.78,840.33 L287.03,840.08 L288.29,839.81 L289.54,839.53 L290.80,839.24 L292.07,838.93 L293.34,838.62 L294.61,838.29 L295.89,837.94 L297.17,837.59 L298.45,837.22 L299.74,836.84 L301.03,836.44 L302.33,836.04 L303.63,835.62 L304.93,835.19 L306.24,834.74 L307.55,834.29 L308.86,833.82 L310.17,833.33 L311.49,832.84 L312.82,832.33 L314.14,831.81 L315.47,831.27 L316.81,830.73 L318.15,830.17 L319.49,829.59 L320.83,829.01 L322.18,828.41 L323.53,827.80 L324.88,827.18 L326.23,826.54 L327.59,825.89 L328.96,825.23 L330.32,824.56 L331.69,823.87 L333.06,823.17 L334.44,822.46 L335.82,821.74 L337.20,821.00 L338.58,820.25 L339.97,819.49 L341.36,818.72 L342.75,817.93 L344.14,817.13 L345.54,816.32 L346.94,815.50 L348.35,814.66 L349.75,813.82 L351.16,812.96 L352.57,812.09 L353.99,811.20 L355.40,810.31 L356.82,809.40 L358.25,808.48 L359.67,807.55 L361.10,806.61 L362.53,805.65 L363.96,804.69 L365.39,803.71 L366.83,802.72 L368.27,801.72 L369.71,800.71 L371.16,799.69 L372.60,798.65 L374.05,797.61 L375.50,796.55 L376.95,795.48 L378.41,794.41 L379.87,793.32 L381.33,792.22 L382.79,791.11 L384.25,789.99 L385.72,788.86 L387.18,787.72 L388.65,786.57 L390.13,785.40 L391.60,784.23 L393.07,783.05 L394.55,781.86 L396.03,780.66 L397.51,779.45 L398.99,778.23 L400.48,777.00 L401.97,775.76 L403.45,774.52 L404.94,773.26 L406.43,771.99 L407.93,770.72 L409.42,769.44 L410.92,768.15 L412.42,766.85 L413.92,765.54 L415.42,764.22 L416.92,762.90 L418.42,761.57 L419.93,760.23 L421.43,758.88 L422.94,757.53 L424.45,756.16 L425.96,754.80 L427.47,753.42 L428.98,752.04 L430.50,750.65 L432.01,749.25 L433.53,747.85 L435.05,746.44 L436.56,745.02 L438.08,743.60 L439.60,742.17 L441.13,740.74 L442.65,739.30 L444.17,737.86 L445.70,736.41 L447.22,734.95 L448.75,733.49 L450.27,732.03 L451.80,730.56 L453.33,729.09 L454.86,727.61 L456.39,726.13 L457.92,724.64 L459.45,723.15 L460.98,721.66 L462.51,720.16 L464.05,718.66 L465.58,717.16 L467.11,715.65 L468.65,714.15 L470.18,712.63 L471.72,711.12 L473.25,709.61 L474.79,708.09 L476.33,706.57 L477.86,705.05 L479.40,703.52 L480.94,702.00 L482.47,700.47 L484.01,698.94 L485.55,697.42 L487.09,695.89 L488.62,694.36 L490.16,692.83 L491.70,691.30 L493.24,689.77 L494.78,688.24 L496.31,686.71 L497.85,685.18 L499.39,683.66 L500.93,682.13 L502.46,680.60 L504.00,679.08 L505.54,677.55 L507.07,676.03 L508.61,674.51 L510.15,672.99 L511.68,671.48 L513.22,669.97 L514.75,668.45 L516.29,666.95 L517.82,665.44 L519.35,663.94 L520.89,662.44 L522.42,660.94 L523.95,659.45 L525.48,657.96 L527.01,656.47 L528.54,654.99 L530.07,653.51 L531.60,652.04 L533.13,650.57 L534.65,649.11 L536.18,647.65 L537.70,646.19 L539.23,644.74 L540.75,643.30 L542.27,641.86 L543.80,640.43 L545.32,639.00 L546.84,637.58 L548.35,636.16 L549.87,634.75 L551.39,633.35 L552.90,631.95 L554.42,630.56 L555.93,629.18 L557.44,627.80 L558.95,626.44 L560.46,625.07 L561.97,623.72 L563.47,622.37 L564.98,621.03 L566.48,619.70 L567.98,618.38 L569.48,617.06 L570.98,615.75 L572.48,614.45 L573.98,613.16 L575.47,611.88 L576.97,610.61 L578.46,609.34 L579.95,608.08 L581.43,606.84 L582.92,605.60 L584.41,604.37 L585.89,603.15 L587.37,601.94 L588.85,600.74 L590.33,599.55 L591.80,598.37 L593.27,597.20 L594.75,596.03 L596.22,594.88 L597.68,593.74 L599.15,592.61 L600.61,591.49 L602.07,590.38 L603.53,589.28 L604.99,588.19 L606.45,587.12 L607.90,586.05 L609.35,584.99 L610.80,583.95 L612.24,582.91 L613.69,581.89 L615.13,580.88 L616.57,579.88 L618.01,578.89 L619.44,577.91 L620.87,576.95 L622.30,575.99 L623.73,575.05 L625.15,574.12 L626.58,573.20 L628.00,572.29 L629.41,571.40 L630.83,570.51 L632.24,569.64 L633.65,568.78 L635.05,567.94 L636.46,567.10 L637.86,566.28 L639.26,565.47 L640.65,564.67 L642.04,563.88 L643.43,563.11 L644.82,562.35 L646.20,561.60 L647.58,560.86 L648.96,560.14 L650.34,559.43 L651.71,558.73 L653.08,558.04 L654.44,557.37 L655.81,556.71 L657.17,556.06 L658.52,555.42 L659.87,554.80 L661.22,554.19 L662.57,553.59 L663.91,553.01 L665.25,552.43 L666.59,551.87 L667.92,551.33 L669.26,550.79 L670.58,550.27 L671.91,549.76 L673.23,549.27 L674.54,548.78 L675.85,548.31 L677.16,547.86 L678.47,547.41 L679.77,546.98 L681.07,546.56 L682.37,546.16 L683.66,545.76 L684.95,545.38 L686.23,545.01 L687.51,544.66 L688.79,544.31 L690.06,543.98 L691.33,543.67 L692.60,543.36 L693.86,543.07 L695.11,542.79 L696.37,542.52 L697.62,542.27 L698.86,542.03 L700.11,541.80 L701.35,541.58 L702.58,541.37 L703.81,541.18 L705.04,541.00 L706.26,540.84 L707.48,540.68 L708.69,540.54 L709.90,540.41 L711.11,540.29 L712.31,540.18 L713.50,540.09 L714.70,540.01 L715.89,539.94 L717.07,539.88 L718.25,539.83 L719.43,539.80 L720.60,539.78 L721.77,539.76 L722.93,539.77 L724.09,539.78 L725.24,539.80 L726.39,539.84 L727.54,539.89 L728.68,539.95 L729.81,540.02 L730.94,540.10 L732.07,540.20 L733.19,540.30 L734.31,540.42 L735.42,540.55 L736.53,540.69 L737.64,540.84 L738.74,541.00 L739.83,541.17 L740.92,541.36 L742.00,541.55 L743.09,541.76 L744.16,541.97 L745.23,542.20 L746.30,542.44 L747.36,542.69 L748.41,542.94 L749.47,543.21 L750.51,543.49 L751.55,543.79 L752.59,544.09 L753.62,544.40 L754.65,544.72 L755.67,545.05 L756.69,545.39 L757.70,545.74 L758.70,546.11 L759.71,546.48 L760.70,546.86 L761.69,547.25 L762.68,547.65 L763.66,548.06 L764.63,548.48 L765.61,548.91 L766.57,549.35 L767.53,549.80 L768.48,550.26 L769.43,550.73 L770.38,551.20 L771.32,551.69 L772.25,552.18 L773.18,552.69 L774.10,553.20 L775.02,553.72 L775.93,554.25 L776.84,554.79 L777.74,555.34 L778.64,555.90 L779.53,556.46 L780.41,557.04 L781.29,557.62 L782.16,558.21 L783.03,558.81 L783.89,559.42 L784.75,560.03 L785.60,560.66 L786.45,561.29 L787.29,561.93 L788.12,562.57 L788.95,563.23 L789.78,563.89 L790.59,564.56 L791.41,565.24 L792.21,565.93 L793.01,566.62 L793.81,567.32 L794.60,568.03 L795.38,568.75 L796.16,569.47 L796.93,570.20 L797.70,570.94 L798.46,571.68 L799.21,572.43 L799.96,573.19 L800.70,573.95 L801.44,574.73 L802.17,575.50 L802.89,576.29 L803.61,577.08 L804.33,577.88 L805.03,578.68 L805.74,579.49 L806.43,580.31 L807.12,581.13 L807.80,581.96 L808.48,582.80 L809.15,583.64 L809.82,584.49 L810.48,585.34 L811.13,586.20 L811.78,587.07 L812.42,587.94 L813.05,588.82 L813.68,589.70 L814.30,590.59 L814.92,591.48 L815.53,592.38 L816.13,593.28 L816.73,594.19 L817.32,595.11 L817.91,596.03 L818.49,596.95 L819.06,597.88 L819.63,598.82 L820.19,599.76 L820.74,600.70 L821.29,601.65 L821.83,602.61 L822.37,603.56 L822.89,604.53 L823.42,605.50 L823.93,606.47 L824.44,607.44 L824.95,608.43 L825.45,609.41 L825.94,610.40 L826.42,611.40 L826.90,612.39 L827.37,613.40 L827.84,614.40 L828.30,615.41 L828.75,616.43 L829.20,617.44 L829.64,618.47 L830.07,619.49 L830.50,620.52 L830.92,621.55 L831.33,622.59 L831.74,623.63 L832.14,624.67 L832.54,625.72 L832.92,626.77 L833.31,627.82 L833.68,628.87 L834.05,629.93 L834.41,630.99 L834.77,632.06 L835.12,633.13 L835.46,634.20 L835.80,635.27 L836.13,636.35 L836.45,637.43 L836.76,638.51 L837.07,639.59 L837.38,640.68 L837.67,641.77 L837.96,642.86 L838.25,643.95 L838.53,645.05 L838.80,646.15 L839.06,647.25 L839.32,648.35 L839.57,649.46 L839.81,650.57 L840.05,651.67 L840.28,652.79 L840.50,653.90 L840.72,655.01 L840.93,656.13 L841.13,657.25 L841.33,658.37 L841.52,659.49 L841.71,660.61 L841.88,661.73 L842.06,662.86 L842.22,663.99 L842.38,665.12 L842.53,666.24 L842.67,667.38 L842.81,668.51 L842.94,669.64 L843.06,670.77 L843.18,671.91 L843.29,673.05 L843.40,674.18 L843.49,675.32 L843.58,676.46 L843.67,677.60 L843.74,678.74 L843.81,679.88 L843.88,681.02 L843.94,682.16 L843.99,683.30 L844.03,684.44 L844.07,685.58 L844.10,686.73 L844.12,687.87 L844.14,689.01 L844.15,690.16 L844.15,691.30" fill="none" stroke="#00ff00" stroke-width="4.3" stroke-dasharray="2.6 9.65 10.2 9.35" stroke-linejoin="round"/>
<path d="M139.24,690.10 L139.25,691.30 L139.25,693.00 L139.26,694.70 L139.28,696.41 L139.30,698.11 L139.33,699.81 L139.37,701.51 L139.41,703.21 L139.46,704.91 L139.52,706.61 L139.59,708.31 L139.66,710.00 L139.73,711.70 L139.82,713.39 L139.91,715.08 L140.00,716.77 L140.11,718.46 L140.22,720.15 L140.34,721.84 L140.46,723.52 L140.59,725.20 L140.73,726.88 L140.87,728.56 L141.02,730.23 L141.18,731.90 L141.34,733.57 L141.52,735.24 L141.69,736.90 L141.88,738.56 L142.07,740.22 L142.27,741.87 L142.47,743.52 L142.68,745.17 L142.90,746.82 L143.12,748.46 L143.35,750.09 L143.59,751.73 L143.83,753.35 L144.08,754.98 L144.34,756.60 L144.60,758.22 L144.87,759.83 L145.15,761.43 L145.44,763.04 L145.73,764.64 L146.02,766.23 L146.33,767.82 L146.64,769.40 L146.95,770.98 L147.27,772.55 L147.60,774.12 L147.94,775.68 L148.28,777.24 L148.63,778.79 L148.99,780.33 L149.35,781.87 L149.72,783.40 L150.09,784.93 L150.48,786.45 L150.86,787.96 L151.26,789.47 L151.66,790.97 L152.07,792.47 L152.48,793.96 L152.90,795.44 L153.33,796.91 L153.76,798.38 L154.20,799.84 L154.65,801.29 L155.10,802.74 L155.56,804.18 L156.03,805.61 L156.50,807.03 L156.98,808.44 L157.46,809.85 L157.95,811.25 L158.45,812.64 L158.96,814.02 L159.47,815.40 L159.98,816.76 L160.51,818.12 L161.03,819.47 L161.57,820.81 L162.11,822.14 L162.66,823.47 L163.21,824.78 L163.77,826.09 L164.34,827.38 L164.91,828.67 L165.49,829.95 L166.08,831.21 L166.67,832.47 L167.27,833.72 L167.87,834.96 L168.48,836.19 L169.10,837.41 L169.72,838.62 L170.35,839.82 L170.98,841.01 L171.62,842.19 L172.27,843.35 L172.92,844.51 L173.58,845.66 L174.25,846.80 L174.92,847.92 L175.60,849.04 L176.28,850.14 L176.97,851.23 L177.66,852.32 L178.37,853.39 L179.07,854.45 L179.79,855.50 L180.51,856.53 L181.23,857.56 L181.96,858.57 L182.70,859.58 L183.44,860.57 L184.19,861.54 L184.94,862.51 L185.70,863.47 L186.47,864.41 L187.24,865.34 L188.02,866.26 L188.80,867.16 L189.59,868.06 L190.39,868.94 L191.19,869.81 L191.99,870.66 L192.81,871.51 L193.62,872.34 L194.45,873.16 L195.28,873.96 L196.11,874.75 L196.95,875.53 L197.80,876.30 L198.65,877.05 L199.51,877.79 L200.37,878.51 L201.24,879.23 L202.11,879.92 L202.99,880.61 L203.87,881.28 L204.76,881.94 L205.66,882.58 L206.56,883.21 L207.47,883.83 L208.38,884.43 L209.30,885.02 L210.22,885.60 L211.15,886.16 L212.08,886.70 L213.02,887.23 L213.97,887.75 L214.92,888.26 L215.87,888.74 L216.83,889.22 L217.79,889.68 L218.77,890.12 L219.74,890.55 L220.72,890.97 L221.71,891.37 L222.70,891.76 L223.69,892.13 L224.70,892.49 L225.70,892.83 L226.71,893.16 L227.73,893.47 L228.75,893.77 L229.78,894.05 L230.81,894.32 L231.85,894.57 L232.89,894.80 L233.93,895.02 L234.99,895.23 L236.04,895.42 L237.10,895.60 L238.17,895.76 L239.24,895.90 L240.31,896.03 L241.40,896.14 L242.48,896.24 L243.57,896.33 L244.66,896.39 L245.76,896.44 L246.87,896.48 L247.98,896.50 L249.09,896.50 L250.21,896.49 L251.33,896.47 L252.46,896.42 L253.59,896.37 L254.72,896.29 L255.86,896.20 L257.01,896.10 L258.16,895.98 L259.31,895.84 L260.47,895.69 L261.63,895.52 L262.80,895.33 L263.97,895.13 L265.15,894.92 L266.33,894.68 L267.51,894.44 L268.70,894.17 L269.90,893.89 L271.09,893.60 L272.29,893.29 L273.50,892.96 L274.71,892.62 L275.92,892.26 L277.14,891.88 L278.36,891.49 L279.59,891.09 L280.82,890.67 L282.05,890.23 L283.29,889.77 L284.54,889.31 L285.78,888.82 L287.03,888.32 L288.29,887.80 L289.54,887.27 L290.80,886.72 L292.07,886.16 L293.34,885.58 L294.61,884.99 L295.89,884.38 L297.17,883.75 L298.45,883.11 L299.74,882.46 L301.03,881.78 L302.33,881.10 L303.63,880.39 L304.93,879.68 L306.24,878.94 L307.55,878.19 L308.86,877.43 L310.17,876.65 L311.49,875.86 L312.82,875.05 L314.14,874.23 L315.47,873.39 L316.81,872.54 L318.15,871.67 L319.49,870.78 L320.83,869.89 L322.18,868.97 L323.53,868.05 L324.88,867.10 L326.23,866.15 L327.59,865.18 L328.96,864.19 L330.32,863.19 L331.69,862.18 L333.06,861.15 L334.44,860.11 L335.82,859.05 L337.20,857.99 L338.58,856.90 L339.97,855.80 L341.36,854.69 L342.75,853.57 L344.14,852.43 L345.54,851.28 L346.94,850.11 L348.35,848.93 L349.75,847.74 L351.16,846.54 L352.57,845.32 L353.99,844.09 L355.40,842.85 L356.82,841.59 L358.25,840.32 L359.67,839.04 L361.10,837.74 L362.53,836.44 L363.96,835.12 L365.39,833.79 L366.83,832.44 L368.27,831.09 L369.71,829.72 L371.16,828.34 L372.60,826.95 L374.05,825.55 L375.50,824.14 L376.95,822.71 L378.41,821.27 L379.87,819.83 L381.33,818.37 L382.79,816.90 L384.25,815.42 L385.72,813.93 L387.18,812.43 L388.65,810.92 L390.13,809.39 L391.60,807.86 L393.07,806.32 L394.55,804.77 L396.03,803.21 L397.51,801.63 L398.99,800.05 L400.48,798.46 L401.97,796.86 L403.45,795.25 L404.94,793.64 L406.43,792.01 L407.93,790.38 L409.42,788.73 L410.92,787.08 L412.42,785.42 L413.92,783.75 L415.42,782.07 L416.92,780.39 L418.42,778.69 L419.93,776.99 L421.43,775.29 L422.94,773.57 L424.45,771.85 L425.96,770.12 L427.47,768.38 L428.98,766.64 L430.50,764.89 L432.01,763.13 L433.53,761.37 L435.05,759.60 L436.56,757.83 L438.08,756.05 L439.60,754.26 L441.13,752.47 L442.65,750.68 L444.17,748.87 L445.70,747.07 L447.22,745.25 L448.75,743.44 L450.27,741.62 L451.80,739.79 L453.33,737.96 L454.86,736.13 L456.39,734.29 L457.92,732.45 L459.45,730.60 L460.98,728.75 L462.51,726.90 L464.05,725.05 L465.58,723.19 L467.11,721.33 L468.65,719.46 L470.18,717.60 L471.72,715.73 L473.25,713.86 L474.79,711.98 L476.33,710.11 L477.86,708.23 L479.40,706.36 L480.94,704.48 L482.47,702.60 L484.01,700.72 L485.55,698.83 L487.09,696.95 L488.62,695.07 L490.16,693.18 L491.70,691.30 L493.24,689.42 L494.78,687.53 L496.31,685.65 L497.85,683.77 L499.39,681.88 L500.93,680.00 L502.46,678.12 L504.00,676.24 L505.54,674.37 L507.07,672.49 L508.61,670.62 L510.15,668.74 L511.68,666.87 L513.22,665.00 L514.75,663.14 L516.29,661.27 L517.82,659.41 L519.35,657.55 L520.89,655.70 L522.42,653.85 L523.95,652.00 L525.48,650.15 L527.01,648.31 L528.54,646.47 L530.07,644.64 L531.60,642.81 L533.13,640.98 L534.65,639.16 L536.18,637.35 L537.70,635.53 L539.23,633.73 L540.75,631.92 L542.27,630.13 L543.80,628.34 L545.32,626.55 L546.84,624.77 L548.35,623.00 L549.87,621.23 L551.39,619.47 L552.90,617.71 L554.42,615.96 L555.93,614.22 L557.44,612.48 L558.95,610.75 L560.46,609.03 L561.97,607.31 L563.47,605.61 L564.98,603.91 L566.48,602.21 L567.98,600.53 L569.48,598.85 L570.98,597.18 L572.48,595.52 L573.98,593.87 L575.47,592.22 L576.97,590.59 L578.46,588.96 L579.95,587.35 L581.43,585.74 L582.92,584.14 L584.41,582.55 L585.89,580.97 L587.37,579.39 L588.85,577.83 L590.33,576.28 L591.80,574.74 L593.27,573.21 L594.75,571.68 L596.22,570.17 L597.68,568.67 L599.15,567.18 L600.61,565.70 L602.07,564.23 L603.53,562.77 L604.99,561.33 L606.45,559.89 L607.90,558.46 L609.35,557.05 L610.80,555.65 L612.24,554.26 L613.69,552.88 L615.13,551.51 L616.57,550.16 L618.01,548.81 L619.44,547.48 L620.87,546.16 L622.30,544.86 L623.73,543.56 L625.15,542.28 L626.58,541.01 L628.00,539.75 L629.41,538.51 L630.83,537.28 L632.24,536.06 L633.65,534.86 L635.05,533.67 L636.46,532.49 L637.86,531.32 L639.26,530.17 L640.65,529.03 L642.04,527.91 L643.43,526.80 L644.82,525.70 L646.20,524.61 L647.58,523.55 L648.96,522.49 L650.34,521.45 L651.71,520.42 L653.08,519.41 L654.44,518.41 L655.81,517.42 L657.17,516.45 L658.52,515.50 L659.87,514.55 L661.22,513.63 L662.57,512.71 L663.91,511.82 L665.25,510.93 L666.59,510.06 L667.92,509.21 L669.26,508.37 L670.58,507.55 L671.91,506.74 L673.23,505.95 L674.54,505.17 L675.85,504.41 L677.16,503.66 L678.47,502.92 L679.77,502.21 L681.07,501.50 L682.37,500.82 L683.66,500.14 L684.95,499.49 L686.23,498.85 L687.51,498.22 L688.79,497.61 L690.06,497.02 L691.33,496.44 L692.60,495.88 L693.86,495.33 L695.11,494.80 L696.37,494.28 L697.62,493.78 L698.86,493.29 L700.11,492.83 L701.35,492.37 L702.58,491.93 L703.81,491.51 L705.04,491.11 L706.26,490.72 L707.48,490.34 L708.69,489.98 L709.90,489.64 L711.11,489.31 L712.31,489.00 L713.50,488.71 L714.70,488.43 L715.89,488.16 L717.07,487.92 L718.25,487.68 L719.43,487.47 L720.60,487.27 L721.77,487.08 L722.93,486.91 L724.09,486.76 L725.24,486.62 L726.39,486.50 L727.54,486.40 L728.68,486.31 L729.81,486.23 L730.94,486.18 L732.07,486.13 L733.19,486.11 L734.31,486.10 L735.42,486.10 L736.53,486.12 L737.64,486.16 L738.74,486.21 L739.83,486.27 L740.92,486.36 L742.00,486.46 L743.09,486.57 L744.16,486.70 L745.23,486.84 L746.30,487.00 L747.36,487.18 L748.41,487.37 L749.47,487.58 L750.51,487.80 L751.55,488.03 L752.59,488.28 L753.62,488.55 L754.65,488.83 L755.67,489.13 L756.69,489.44 L757.70,489.77 L758.70,490.11 L759.71,490.47 L760.70,490.84 L761.69,491.23 L762.68,491.63 L763.66,492.05 L764.63,492.48 L765.61,492.92 L766.57,493.38 L767.53,493.86 L768.48,494.34 L769.43,494.85 L770.38,495.37 L771.32,495.90 L772.25,496.44 L773.18,497.00 L774.10,497.58 L775.02,498.17 L775.93,498.77 L776.84,499.39 L777.74,500.02 L778.64,500.66 L779.53,501.32 L780.41,501.99 L781.29,502.68 L782.16,503.37 L783.03,504.09 L783.89,504.81 L784.75,505.55 L785.60,506.30 L786.45,507.07 L787.29,507.85 L788.12,508.64 L788.95,509.44 L789.78,510.26 L790.59,511.09 L791.41,511.94 L792.21,512.79 L793.01,513.66 L793.81,514.54 L794.60,515.44 L795.38,516.34 L796.16,517.26 L796.93,518.19 L797.70,519.13 L798.46,520.09 L799.21,521.06 L799.96,522.03 L800.70,523.02 L801.44,524.03 L802.17,525.04 L802.89,526.07 L803.61,527.10 L804.33,528.15 L805.03,529.21 L805.74,530.28 L806.43,531.37 L807.12,532.46 L807.80,533.56 L808.48,534.68 L809.15,535.80 L809.82,536.94 L810.48,538.09 L811.13,539.25 L811.78,540.41 L812.42,541.59 L813.05,542.78 L813.68,543.98 L814.30,545.19 L814.92,546.41 L815.53,547.64 L816.13,548.88 L816.73,550.13 L817.32,551.39 L817.91,552.65 L818.49,553.93 L819.06,555.22 L819.63,556.51 L820.19,557.82 L820.74,559.13 L821.29,560.46 L821.83,561.79 L822.37,563.13 L822.89,564.48 L823.42,565.84 L823.93,567.20 L824.44,568.58 L824.95,569.96 L825.45,571.35 L825.94,572.75 L826.42,574.16 L826.90,575.57 L827.37,576.99 L827.84,578.42 L828.30,579.86 L828.75,581.31 L829.20,582.76 L829.64,584.22 L830.07,585.69 L830.50,587.16 L830.92,588.64 L831.33,590.13 L831.74,591.63 L832.14,593.13 L832.54,594.64 L832.92,596.15 L833.31,597.67 L833.68,599.20 L834.05,600.73 L834.41,602.27 L834.77,603.81 L835.12,605.36 L835.46,606.92 L835.80,608.48 L836.13,610.05 L836.45,611.62 L836.76,613.20 L837.07,614.78 L837.38,616.37 L837.67,617.96 L837.96,619.56 L838.25,621.17 L838.53,622.77 L838.80,624.38 L839.06,626.00 L839.32,627.62 L839.57,629.25 L839.81,630.87 L840.05,632.51 L840.28,634.14 L840.50,635.78 L840.72,637.43 L840.93,639.08 L841.13,640.73 L841.33,642.38 L841.52,644.04 L841.71,645.70 L841.88,647.36 L842.06,649.03 L842.22,650.70 L842.38,652.37 L842.53,654.04 L842.67,655.72 L842.81,657.40 L842.94,659.08 L843.06,660.76 L843.18,662.45 L843.29,664.14 L843.40,665.83 L843.49,667.52 L843.58,669.21 L843.67,670.90 L843.74,672.60 L843.81,674.29 L843.88,675.99 L843.94,677.69 L843.99,679.39 L844.03,681.09 L844.07,682.79 L844.10,684.49 L844.12,686.19 L844.14,687.90 L844.15,689.60 L844.15,691.30 L844.16,692.50" fill="none" stroke="#ff8000" stroke-width="4.3" stroke-linejoin="round"/>
<path d="M138.90,1357.90 L138.90,1357.90 L138.91,1357.88 L138.93,1357.86 L138.95,1357.83 L138.98,1357.79 L139.02,1357.75 L139.06,1357.69 L139.11,1357.63 L139.17,1357.56 L139.24,1357.47 L139.31,1357.39 L139.38,1357.29 L139.47,1357.18 L139.56,1357.07 L139.66,1356.94 L139.76,1356.81 L139.87,1356.67 L139.99,1356.52 L140.11,1356.36 L140.24,1356.20 L140.38,1356.02 L140.52,1355.84 L140.68,1355.65 L140.83,1355.45 L141.00,1355.24 L141.17,1355.02 L141.35,1354.80 L141.53,1354.56 L141.72,1354.32 L141.92,1354.07 L142.12,1353.81 L142.33,1353.54 L142.55,1353.26 L142.78,1352.97 L143.01,1352.68 L143.24,1352.38 L143.49,1352.06 L143.74,1351.74 L144.00,1351.41 L144.26,1351.08 L144.53,1350.73 L144.81,1350.37 L145.09,1350.01 L145.38,1349.64 L145.68,1349.25 L145.98,1348.86 L146.29,1348.46 L146.61,1348.06 L146.93,1347.64 L147.26,1347.21 L147.60,1346.78 L147.94,1346.34 L148.29,1345.88 L148.65,1345.42 L149.01,1344.95 L149.38,1344.47 L149.76,1343.99 L150.14,1343.49 L150.53,1342.99 L150.92,1342.47 L151.32,1341.95 L151.73,1341.42 L152.15,1340.88 L152.57,1340.33 L152.99,1339.77 L153.43,1339.20 L153.87,1338.62 L154.32,1338.04 L154.77,1337.44 L155.23,1336.84 L155.69,1336.23 L156.17,1335.60 L156.65,1334.97 L157.13,1334.33 L157.62,1333.68 L158.12,1333.02 L158.63,1332.36 L159.14,1331.68 L159.65,1330.99 L160.18,1330.30 L160.71,1329.60 L161.24,1328.88 L161.78,1328.16 L162.33,1327.43 L162.89,1326.69 L163.45,1325.94 L164.02,1325.18 L164.59,1324.41 L165.17,1323.63 L165.76,1322.84 L166.35,1322.04 L166.95,1321.24 L167.55,1320.42 L168.16,1319.60 L168.78,1318.76 L169.40,1317.92 L170.03,1317.07 L170.67,1316.20 L171.31,1315.33 L171.95,1314.45 L172.61,1313.56 L173.27,1312.66 L173.93,1311.75 L174.61,1310.83 L175.28,1309.90 L175.97,1308.96 L176.66,1308.01 L177.35,1307.05 L178.05,1306.09 L178.76,1305.11 L179.48,1304.12 L180.20,1303.13 L180.92,1302.12 L181.65,1301.11 L182.39,1300.08 L183.13,1299.05 L183.88,1298.00 L184.64,1296.95 L185.40,1295.89 L186.17,1294.81 L186.94,1293.73 L187.72,1292.64 L188.50,1291.53 L189.29,1290.42 L190.09,1289.30 L190.89,1288.17 L191.70,1287.03 L192.51,1285.88 L193.33,1284.71 L194.15,1283.54 L194.98,1282.36 L195.82,1281.17 L196.66,1279.97 L197.51,1278.76 L198.36,1277.54 L199.22,1276.32 L200.08,1275.08 L200.95,1273.83 L201.82,1272.57 L202.70,1271.30 L203.59,1270.02 L204.48,1268.74 L205.38,1267.44 L206.28,1266.13 L207.19,1264.82 L208.10,1263.49 L209.02,1262.15 L209.94,1260.81 L210.87,1259.45 L211.80,1258.09 L212.74,1256.71 L213.69,1255.33 L214.64,1253.93 L215.60,1252.53 L216.56,1251.12 L217.52,1249.70 L218.49,1248.26 L219.47,1246.82 L220.45,1245.37 L221.44,1243.91 L222.43,1242.44 L223.43,1240.96 L224.43,1239.47 L225.44,1237.97 L226.45,1236.46 L227.47,1234.95 L228.49,1233.42 L229.52,1231.89 L230.55,1230.34 L231.59,1228.79 L232.63,1227.22 L233.68,1225.65 L234.73,1224.07 L235.79,1222.48 L236.85,1220.88 L237.92,1219.27 L238.99,1217.66 L240.07,1216.03 L241.15,1214.40 L242.23,1212.75 L243.32,1211.10 L244.42,1209.44 L245.52,1207.77 L246.62,1206.09 L247.73,1204.41 L248.85,1202.71 L249.97,1201.01 L251.09,1199.30 L252.22,1197.58 L253.35,1195.86 L254.49,1194.12 L255.63,1192.38 L256.78,1190.63 L257.93,1188.87 L259.08,1187.10 L260.24,1185.33 L261.41,1183.55 L262.57,1181.76 L263.75,1179.97 L264.92,1178.16 L266.11,1176.35 L267.29,1174.54 L268.48,1172.71 L269.68,1170.88 L270.87,1169.05 L272.08,1167.20 L273.28,1165.35 L274.49,1163.50 L275.71,1161.63 L276.93,1159.77 L278.15,1157.89 L279.38,1156.01 L280.61,1154.13 L281.85,1152.23 L283.09,1150.34 L284.33,1148.44 L285.58,1146.53 L286.83,1144.62 L288.08,1142.70 L289.34,1140.78 L290.61,1138.85 L291.87,1136.92 L293.14,1134.99 L294.42,1133.05 L295.69,1131.11 L296.98,1129.16 L298.26,1127.22 L299.55,1125.26 L300.84,1123.31 L302.14,1121.35 L303.44,1119.39 L304.74,1117.43 L306.05,1115.46 L307.36,1113.49 L308.68,1111.52 L309.99,1109.55 L311.32,1107.58 L312.64,1105.60 L313.97,1103.63 L315.30,1101.65 L316.63,1099.68 L317.97,1097.70 L319.31,1095.72 L320.66,1093.74 L322.01,1091.77 L323.36,1089.79 L324.71,1087.82 L326.07,1085.84 L327.43,1083.87 L328.80,1081.90 L330.16,1079.93 L331.53,1077.96 L332.91,1075.99 L334.28,1074.03 L335.66,1072.07 L337.04,1070.11 L338.43,1068.16 L339.82,1066.21 L341.21,1064.26 L342.60,1062.32 L344.00,1060.39 L345.40,1058.45 L346.80,1056.53 L348.20,1054.61 L349.61,1052.69 L351.02,1050.78 L352.43,1048.88 L353.85,1046.98 L355.27,1045.09 L356.69,1043.21 L358.11,1041.33 L359.54,1039.46 L360.97,1037.60 L362.40,1035.75 L363.83,1033.91 L365.27,1032.08 L366.71,1030.26 L368.15,1028.44 L369.59,1026.64 L371.04,1024.84 L372.48,1023.06 L373.93,1021.29 L375.39,1019.53 L376.84,1017.78 L378.30,1016.05 L379.75,1014.32 L381.22,1012.61 L382.68,1010.92 L384.14,1009.23 L385.61,1007.56 L387.08,1005.90 L388.55,1004.26 L390.02,1002.63 L391.50,1001.02 L392.98,999.43 L394.46,997.84 L395.94,996.28 L397.42,994.73 L398.90,993.20 L400.39,991.68 L401.88,990.19 L403.37,988.71 L404.86,987.25 L406.35,985.80 L407.84,984.38 L409.34,982.97 L410.84,981.59 L412.34,980.22 L413.84,978.88 L415.34,977.55 L416.84,976.24 L418.35,974.96 L419.86,973.70 L421.36,972.45 L422.87,971.24 L424.38,970.04 L425.89,968.86 L427.41,967.71 L428.92,966.58 L430.44,965.47 L431.95,964.39 L433.47,963.33 L434.99,962.30 L436.51,961.28 L438.03,960.30 L439.55,959.34 L441.08,958.40 L442.60,957.49 L444.12,956.60 L445.65,955.74 L447.18,954.91 L448.70,954.10 L450.23,953.32 L451.76,952.57 L453.29,951.84 L454.82,951.14 L456.35,950.46 L457.89,949.82 L459.42,949.20 L460.95,948.61 L462.49,948.04 L464.02,947.51 L465.55,947.00 L467.09,946.52 L468.63,946.07 L470.16,945.65 L471.70,945.25 L473.24,944.89 L474.77,944.55 L476.31,944.25 L477.85,943.97 L479.39,943.72 L480.93,943.50 L482.46,943.31 L484.00,943.15 L485.54,943.01 L487.08,942.91 L488.62,942.84 L490.16,942.79 L491.70,942.78 L493.24,942.79 L494.78,942.84 L496.32,942.91 L497.86,943.01 L499.40,943.15 L500.94,943.31 L502.47,943.50 L504.01,943.72 L505.55,943.97 L507.09,944.25 L508.63,944.55 L510.16,944.89 L511.70,945.25 L513.24,945.65 L514.77,946.07 L516.31,946.52 L517.85,947.00 L519.38,947.51 L520.91,948.04 L522.45,948.61 L523.98,949.20 L525.51,949.82 L527.05,950.46 L528.58,951.14 L530.11,951.84 L531.64,952.57 L533.17,953.32 L534.70,954.10 L536.22,954.91 L537.75,955.74 L539.28,956.60 L540.80,957.49 L542.32,958.40 L543.85,959.34 L545.37,960.30 L546.89,961.28 L548.41,962.30 L549.93,963.33 L551.45,964.39 L552.96,965.47 L554.48,966.58 L555.99,967.71 L557.51,968.86 L559.02,970.04 L560.53,971.24 L562.04,972.45 L563.54,973.70 L565.05,974.96 L566.56,976.24 L568.06,977.55 L569.56,978.88 L571.06,980.22 L572.56,981.59 L574.06,982.97 L575.56,984.38 L577.05,985.80 L578.54,987.25 L580.03,988.71 L581.52,990.19 L583.01,991.68 L584.50,993.20 L585.98,994.73 L587.46,996.28 L588.94,997.84 L590.42,999.43 L591.90,1001.02 L593.38,1002.63 L594.85,1004.26 L596.32,1005.90 L597.79,1007.56 L599.26,1009.23 L600.72,1010.92 L602.18,1012.61 L603.65,1014.32 L605.10,1016.05 L606.56,1017.78 L608.01,1019.53 L609.47,1021.29 L610.92,1023.06 L612.36,1024.84 L613.81,1026.64 L615.25,1028.44 L616.69,1030.26 L618.13,1032.08 L619.57,1033.91 L621.00,1035.75 L622.43,1037.60 L623.86,1039.46 L625.29,1041.33 L626.71,1043.21 L628.13,1045.09 L629.55,1046.98 L630.97,1048.88 L632.38,1050.78 L633.79,1052.69 L635.20,1054.61 L636.60,1056.53 L638.00,1058.45 L639.40,1060.39 L640.80,1062.32 L642.19,1064.26 L643.58,1066.21 L644.97,1068.16 L646.36,1070.11 L647.74,1072.07 L649.12,1074.03 L650.49,1075.99 L651.87,1077.96 L653.24,1079.93 L654.60,1081.90 L655.97,1083.87 L657.33,1085.84 L658.69,1087.82 L660.04,1089.79 L661.39,1091.77 L662.74,1093.74 L664.09,1095.72 L665.43,1097.70 L666.77,1099.68 L668.10,1101.65 L669.43,1103.63 L670.76,1105.60 L672.08,1107.58 L673.41,1109.55 L674.72,1111.52 L676.04,1113.49 L677.35,1115.46 L678.66,1117.43 L679.96,1119.39 L681.26,1121.35 L682.56,1123.31 L683.85,1125.26 L685.14,1127.22 L686.42,1129.16 L687.71,1131.11 L688.98,1133.05 L690.26,1134.99 L691.53,1136.92 L692.79,1138.85 L694.06,1140.78 L695.32,1142.70 L696.57,1144.62 L697.82,1146.53 L699.07,1148.44 L700.31,1150.34 L701.55,1152.23 L702.79,1154.13 L704.02,1156.01 L705.25,1157.89 L706.47,1159.77 L707.69,1161.63 L708.91,1163.50 L710.12,1165.35 L711.32,1167.20 L712.53,1169.05 L713.72,1170.88 L714.92,1172.71 L716.11,1174.54 L717.29,1176.35 L718.48,1178.16 L719.65,1179.97 L720.83,1181.76 L721.99,1183.55 L723.16,1185.33 L724.32,1187.10 L725.47,1188.87 L726.62,1190.63 L727.77,1192.38 L728.91,1194.12 L730.05,1195.86 L731.18,1197.58 L732.31,1199.30 L733.43,1201.01 L734.55,1202.71 L735.67,1204.41 L736.78,1206.09 L737.88,1207.77 L738.98,1209.44 L740.08,1211.10 L741.17,1212.75 L742.25,1214.40 L743.33,1216.03 L744.41,1217.66 L745.48,1219.27 L746.55,1220.88 L747.61,1222.48 L748.67,1224.07 L749.72,1225.65 L750.77,1227.22 L751.81,1228.79 L752.85,1230.34 L753.88,1231.89 L754.91,1233.42 L755.93,1234.95 L756.95,1236.46 L757.96,1237.97 L758.97,1239.47 L759.97,1240.96 L760.97,1242.44 L761.96,1243.91 L762.95,1245.37 L763.93,1246.82 L764.91,1248.26 L765.88,1249.70 L766.84,1251.12 L767.80,1252.53 L768.76,1253.93 L769.71,1255.33 L770.66,1256.71 L771.60,1258.09 L772.53,1259.45 L773.46,1260.81 L774.38,1262.15 L775.30,1263.49 L776.21,1264.82 L777.12,1266.13 L778.02,1267.44 L778.92,1268.74 L779.81,1270.02 L780.70,1271.30 L781.58,1272.57 L782.45,1273.83 L783.32,1275.08 L784.18,1276.32 L785.04,1277.54 L785.89,1278.76 L786.74,1279.97 L787.58,1281.17 L788.42,1282.36 L789.25,1283.54 L790.07,1284.71 L790.89,1285.88 L791.70,1287.03 L792.51,1288.17 L793.31,1289.30 L794.11,1290.42 L794.90,1291.53 L795.68,1292.64 L796.46,1293.73 L797.23,1294.81 L798.00,1295.89 L798.76,1296.95 L799.52,1298.00 L800.27,1299.05 L801.01,1300.08 L801.75,1301.11 L802.48,1302.12 L803.20,1303.13 L803.92,1304.12 L804.64,1305.11 L805.35,1306.09 L806.05,1307.05 L806.74,1308.01 L807.43,1308.96 L808.12,1309.90 L808.79,1310.83 L809.47,1311.75 L810.13,1312.66 L810.79,1313.56 L811.45,1314.45 L812.09,1315.33 L812.73,1316.20 L813.37,1317.07 L814.00,1317.92 L814.62,1318.76 L815.24,1319.60 L815.85,1320.42 L816.45,1321.24 L817.05,1322.04 L817.64,1322.84 L818.23,1323.63 L818.81,1324.41 L819.38,1325.18 L819.95,1325.94 L820.51,1326.69 L821.07,1327.43 L821.62,1328.16 L822.16,1328.88 L822.69,1329.60 L823.22,1330.30 L823.75,1330.99 L824.26,1331.68 L824.77,1332.36 L825.28,1333.02 L825.78,1333.68 L826.27,1334.33 L826.75,1334.97 L827.23,1335.60 L827.71,1336.23 L828.17,1336.84 L828.63,1337.44 L829.08,1338.04 L829.53,1338.62 L829.97,1339.20 L830.41,1339.77 L830.83,1340.33 L831.25,1340.88 L831.67,1341.42 L832.08,1341.95 L832.48,1342.47 L832.87,1342.99 L833.26,1343.49 L833.64,1343.99 L834.02,1344.47 L834.39,1344.95 L834.75,1345.42 L835.11,1345.88 L835.46,1346.34 L835.80,1346.78 L836.14,1347.21 L836.47,1347.64 L836.79,1348.06 L837.11,1348.46 L837.42,1348.86 L837.72,1349.25 L838.02,1349.64 L838.31,1350.01 L838.59,1350.37 L838.87,1350.73 L839.14,1351.08 L839.40,1351.41 L839.66,1351.74 L839.91,1352.06 L840.16,1352.38 L840.39,1352.68 L840.62,1352.97 L840.85,1353.26 L841.07,1353.54 L841.28,1353.81 L841.48,1354.07 L841.68,1354.32 L841.87,1354.56 L842.05,1354.80 L842.23,1355.02 L842.40,1355.24 L842.57,1355.45 L842.72,1355.65 L842.88,1355.84 L843.02,1356.02 L843.16,1356.20 L843.29,1356.36 L843.41,1356.52 L843.53,1356.67 L843.64,1356.81 L843.74,1356.94 L843.84,1357.07 L843.93,1357.18 L844.02,1357.29 L844.09,1357.39 L844.16,1357.47 L844.23,1357.56 L844.29,1357.63 L844.34,1357.69 L844.38,1357.75 L844.42,1357.79 L844.45,1357.83 L844.47,1357.86 L844.49,1357.88 L844.50,1357.90 L844.50,1357.90" fill="none" stroke="#ff0000" stroke-width="4.3" stroke-dasharray="2.6 9.65" stroke-linejoin="round"/>
<path d="M138.90,1357.90 L138.90,1357.90 L138.91,1357.89 L138.93,1357.87 L138.95,1357.84 L138.98,1357.81 L139.02,1357.77 L139.06,1357.72 L139.11,1357.67 L139.17,1357.60 L139.24,1357.54 L139.31,1357.46 L139.38,1357.37 L139.47,1357.28 L139.56,1357.18 L139.66,1357.08 L139.76,1356.97 L139.87,1356.85 L139.99,1356.72 L140.11,1356.58 L140.24,1356.44 L140.38,1356.29 L140.52,1356.13 L140.68,1355.97 L140.83,1355.80 L141.00,1355.62 L141.17,1355.43 L141.35,1355.24 L141.53,1355.04 L141.72,1354.83 L141.92,1354.61 L142.12,1354.39 L142.33,1354.16 L142.55,1353.92 L142.78,1353.67 L143.01,1353.42 L143.24,1353.16 L143.49,1352.89 L143.74,1352.62 L144.00,1352.34 L144.26,1352.05 L144.53,1351.75 L144.81,1351.44 L145.09,1351.13 L145.38,1350.81 L145.68,1350.49 L145.98,1350.15 L146.29,1349.81 L146.61,1349.46 L146.93,1349.10 L147.26,1348.74 L147.60,1348.37 L147.94,1347.99 L148.29,1347.60 L148.65,1347.21 L149.01,1346.81 L149.38,1346.40 L149.76,1345.98 L150.14,1345.56 L150.53,1345.13 L150.92,1344.69 L151.32,1344.24 L151.73,1343.79 L152.15,1343.32 L152.57,1342.85 L152.99,1342.38 L153.43,1341.89 L153.87,1341.40 L154.32,1340.90 L154.77,1340.39 L155.23,1339.88 L155.69,1339.36 L156.17,1338.83 L156.65,1338.29 L157.13,1337.74 L157.62,1337.19 L158.12,1336.63 L158.63,1336.06 L159.14,1335.49 L159.65,1334.90 L160.18,1334.31 L160.71,1333.71 L161.24,1333.10 L161.78,1332.49 L162.33,1331.87 L162.89,1331.24 L163.45,1330.60 L164.02,1329.96 L164.59,1329.30 L165.17,1328.64 L165.76,1327.97 L166.35,1327.30 L166.95,1326.61 L167.55,1325.92 L168.16,1325.22 L168.78,1324.52 L169.40,1323.80 L170.03,1323.08 L170.67,1322.35 L171.31,1321.61 L171.95,1320.86 L172.61,1320.11 L173.27,1319.35 L173.93,1318.58 L174.61,1317.80 L175.28,1317.01 L175.97,1316.22 L176.66,1315.42 L177.35,1314.61 L178.05,1313.80 L178.76,1312.97 L179.48,1312.14 L180.20,1311.30 L180.92,1310.45 L181.65,1309.60 L182.39,1308.73 L183.13,1307.86 L183.88,1306.98 L184.64,1306.10 L185.40,1305.20 L186.17,1304.30 L186.94,1303.39 L187.72,1302.47 L188.50,1301.55 L189.29,1300.61 L190.09,1299.67 L190.89,1298.72 L191.70,1297.76 L192.51,1296.80 L193.33,1295.83 L194.15,1294.85 L194.98,1293.86 L195.82,1292.86 L196.66,1291.86 L197.51,1290.85 L198.36,1289.83 L199.22,1288.80 L200.08,1287.76 L200.95,1286.72 L201.82,1285.67 L202.70,1284.61 L203.59,1283.55 L204.48,1282.48 L205.38,1281.39 L206.28,1280.31 L207.19,1279.21 L208.10,1278.11 L209.02,1276.99 L209.94,1275.88 L210.87,1274.75 L211.80,1273.62 L212.74,1272.47 L213.69,1271.33 L214.64,1270.17 L215.60,1269.01 L216.56,1267.84 L217.52,1266.66 L218.49,1265.47 L219.47,1264.28 L220.45,1263.08 L221.44,1261.87 L222.43,1260.66 L223.43,1259.43 L224.43,1258.20 L225.44,1256.97 L226.45,1255.72 L227.47,1254.47 L228.49,1253.22 L229.52,1251.95 L230.55,1250.68 L231.59,1249.40 L232.63,1248.12 L233.68,1246.83 L234.73,1245.53 L235.79,1244.22 L236.85,1242.91 L237.92,1241.59 L238.99,1240.27 L240.07,1238.93 L241.15,1237.60 L242.23,1236.25 L243.32,1234.90 L244.42,1233.54 L245.52,1232.18 L246.62,1230.81 L247.73,1229.43 L248.85,1228.05 L249.97,1226.67 L251.09,1225.27 L252.22,1223.87 L253.35,1222.47 L254.49,1221.06 L255.63,1219.64 L256.78,1218.22 L257.93,1216.79 L259.08,1215.36 L260.24,1213.92 L261.41,1212.48 L262.57,1211.03 L263.75,1209.58 L264.92,1208.12 L266.11,1206.65 L267.29,1205.19 L268.48,1203.71 L269.68,1202.24 L270.87,1200.75 L272.08,1199.27 L273.28,1197.78 L274.49,1196.28 L275.71,1194.78 L276.93,1193.28 L278.15,1191.78 L279.38,1190.27 L280.61,1188.75 L281.85,1187.24 L283.09,1185.71 L284.33,1184.19 L285.58,1182.66 L286.83,1181.13 L288.08,1179.60 L289.34,1178.07 L290.61,1176.53 L291.87,1174.99 L293.14,1173.45 L294.42,1171.90 L295.69,1170.35 L296.98,1168.80 L298.26,1167.25 L299.55,1165.70 L300.84,1164.15 L302.14,1162.59 L303.44,1161.04 L304.74,1159.48 L306.05,1157.92 L307.36,1156.36 L308.68,1154.80 L309.99,1153.24 L311.32,1151.68 L312.64,1150.12 L313.97,1148.56 L315.30,1147.00 L316.63,1145.45 L317.97,1143.89 L319.31,1142.33 L320.66,1140.77 L322.01,1139.22 L323.36,1137.67 L324.71,1136.11 L326.07,1134.56 L327.43,1133.02 L328.80,1131.47 L330.16,1129.93 L331.53,1128.39 L332.91,1126.85 L334.28,1125.31 L335.66,1123.78 L337.04,1122.25 L338.43,1120.73 L339.82,1119.21 L341.21,1117.69 L342.60,1116.18 L344.00,1114.67 L345.40,1113.17 L346.80,1111.67 L348.20,1110.17 L349.61,1108.69 L351.02,1107.20 L352.43,1105.73 L353.85,1104.26 L355.27,1102.79 L356.69,1101.33 L358.11,1099.88 L359.54,1098.44 L360.97,1097.00 L362.40,1095.57 L363.83,1094.15 L365.27,1092.73 L366.71,1091.33 L368.15,1089.93 L369.59,1088.54 L371.04,1087.16 L372.48,1085.79 L373.93,1084.43 L375.39,1083.08 L376.84,1081.73 L378.30,1080.40 L379.75,1079.08 L381.22,1077.77 L382.68,1076.47 L384.14,1075.18 L385.61,1073.90 L387.08,1072.63 L388.55,1071.37 L390.02,1070.13 L391.50,1068.90 L392.98,1067.68 L394.46,1066.47 L395.94,1065.28 L397.42,1064.10 L398.90,1062.93 L400.39,1061.78 L401.88,1060.64 L403.37,1059.51 L404.86,1058.40 L406.35,1057.30 L407.84,1056.22 L409.34,1055.15 L410.84,1054.10 L412.34,1053.06 L413.84,1052.04 L415.34,1051.04 L416.84,1050.05 L418.35,1049.08 L419.86,1048.12 L421.36,1047.18 L422.87,1046.26 L424.38,1045.35 L425.89,1044.46 L427.41,1043.59 L428.92,1042.74 L430.44,1041.90 L431.95,1041.08 L433.47,1040.28 L434.99,1039.50 L436.51,1038.74 L438.03,1038.00 L439.55,1037.27 L441.08,1036.57 L442.60,1035.88 L444.12,1035.21 L445.65,1034.57 L447.18,1033.94 L448.70,1033.33 L450.23,1032.74 L451.76,1032.17 L453.29,1031.63 L454.82,1031.10 L456.35,1030.59 L457.89,1030.11 L459.42,1029.64 L460.95,1029.20 L462.49,1028.78 L464.02,1028.37 L465.55,1027.99 L467.09,1027.63 L468.63,1027.29 L470.16,1026.98 L471.70,1026.68 L473.24,1026.41 L474.77,1026.16 L476.31,1025.93 L477.85,1025.72 L479.39,1025.53 L480.93,1025.37 L482.46,1025.22 L484.00,1025.10 L485.54,1025.00 L487.08,1024.93 L488.62,1024.87 L490.16,1024.84 L491.70,1024.83 L493.24,1024.84 L494.78,1024.87 L496.32,1024.93 L497.86,1025.00 L499.40,1025.10 L500.94,1025.22 L502.47,1025.37 L504.01,1025.53 L505.55,1025.72 L507.09,1025.93 L508.63,1026.16 L510.16,1026.41 L511.70,1026.68 L513.24,1026.98 L514.77,1027.29 L516.31,1027.63 L517.85,1027.99 L519.38,1028.37 L520.91,1028.78 L522.45,1029.20 L523.98,1029.64 L525.51,1030.11 L527.05,1030.59 L528.58,1031.10 L530.11,1031.63 L531.64,1032.17 L533.17,1032.74 L534.70,1033.33 L536.22,1033.94 L537.75,1034.57 L539.28,1035.21 L540.80,1035.88 L542.32,1036.57 L543.85,1037.27 L545.37,1038.00 L546.89,1038.74 L548.41,1039.50 L549.93,1040.28 L551.45,1041.08 L552.96,1041.90 L554.48,1042.74 L555.99,1043.59 L557.51,1044.46 L559.02,1045.35 L560.53,1046.26 L562.04,1047.18 L563.54,1048.12 L565.05,1049.08 L566.56,1050.05 L568.06,1051.04 L569.56,1052.04 L571.06,1053.06 L572.56,1054.10 L574.06,1055.15 L575.56,1056.22 L577.05,1057.30 L578.54,1058.40 L580.03,1059.51 L581.52,1060.64 L583.01,1061.78 L584.50,1062.93 L585.98,1064.10 L587.46,1065.28 L588.94,1066.47 L590.42,1067.68 L591.90,1068.90 L593.38,1070.13 L594.85,1071.37 L596.32,1072.63 L597.79,1073.90 L599.26,1075.18 L600.72,1076.47 L602.18,1077.77 L603.65,1079.08 L605.10,1080.40 L606.56,1081.73 L608.01,1083.08 L609.47,1084.43 L610.92,1085.79 L612.36,1087.16 L613.81,1088.54 L615.25,1089.93 L616.69,1091.33 L618.13,1092.73 L619.57,1094.15 L621.00,1095.57 L622.43,1097.00 L623.86,1098.44 L625.29,1099.88 L626.71,1101.33 L628.13,1102.79 L629.55,1104.26 L630.97,1105.73 L632.38,1107.20 L633.79,1108.69 L635.20,1110.17 L636.60,1111.67 L638.00,1113.17 L639.40,1114.67 L640.80,1116.18 L642.19,1117.69 L643.58,1119.21 L644.97,1120.73 L646.36,1122.25 L647.74,1123.78 L649.12,1125.31 L650.49,1126.85 L651.87,1128.39 L653.24,1129.93 L654.60,1131.47 L655.97,1133.02 L657.33,1134.56 L658.69,1136.11 L660.04,1137.67 L661.39,1139.22 L662.74,1140.77 L664.09,1142.33 L665.43,1143.89 L666.77,1145.45 L668.10,1147.00 L669.43,1148.56 L670.76,1150.12 L672.08,1151.68 L673.41,1153.24 L674.72,1154.80 L676.04,1156.36 L677.35,1157.92 L678.66,1159.48 L679.96,1161.04 L681.26,1162.59 L682.56,1164.15 L683.85,1165.70 L685.14,1167.25 L686.42,1168.80 L687.71,1170.35 L688.98,1171.90 L690.26,1173.45 L691.53,1174.99 L692.79,1176.53 L694.06,1178.07 L695.32,1179.60 L696.57,1181.13 L697.82,1182.66 L699.07,1184.19 L700.31,1185.71 L701.55,1187.24 L702.79,1188.75 L704.02,1190.27 L705.25,1191.78 L706.47,1193.28 L707.69,1194.78 L708.91,1196.28 L710.12,1197.78 L711.32,1199.27 L712.53,1200.75 L713.72,1202.24 L714.92,1203.71 L716.11,1205.19 L717.29,1206.65 L718.48,1208.12 L719.65,1209.58 L720.83,1211.03 L721.99,1212.48 L723.16,1213.92 L724.32,1215.36 L725.47,1216.79 L726.62,1218.22 L727.77,1219.64 L728.91,1221.06 L730.05,1222.47 L731.18,1223.87 L732.31,1225.27 L733.43,1226.67 L734.55,1228.05 L735.67,1229.43 L736.78,1230.81 L737.88,1232.18 L738.98,1233.54 L740.08,1234.90 L741.17,1236.25 L742.25,1237.60 L743.33,1238.93 L744.41,1240.27 L745.48,1241.59 L746.55,1242.91 L747.61,1244.22 L748.67,1245.53 L749.72,1246.83 L750.77,1248.12 L751.81,1249.40 L752.85,1250.68 L753.88,1251.95 L754.91,1253.22 L755.93,1254.47 L756.95,1255.72 L757.96,1256.97 L758.97,1258.20 L759.97,1259.43 L760.97,1260.66 L761.96,1261.87 L762.95,1263.08 L763.93,1264.28 L764.91,1265.47 L765.88,1266.66 L766.84,1267.84 L767.80,1269.01 L768.76,1270.17 L769.71,1271.33 L770.66,1272.47 L771.60,1273.62 L772.53,1274.75 L773.46,1275.88 L774.38,1276.99 L775.30,1278.11 L776.21,1279.21 L777.12,1280.31 L778.02,1281.39 L778.92,1282.48 L779.81,1283.55 L780.70,1284.61 L781.58,1285.67 L782.45,1286.72 L783.32,1287.76 L784.18,1288.80 L785.04,1289.83 L785.89,1290.85 L786.74,1291.86 L787.58,1292.86 L788.42,1293.86 L789.25,1294.85 L790.07,1295.83 L790.89,1296.80 L791.70,1297.76 L792.51,1298.72 L793.31,1299.67 L794.11,1300.61 L794.90,1301.55 L795.68,1302.47 L796.46,1303.39 L797.23,1304.30 L798.00,1305.20 L798.76,1306.10 L799.52,1306.98 L800.27,1307.86 L801.01,1308.73 L801.75,1309.60 L802.48,1310.45 L803.20,1311.30 L803.92,1312.14 L804.64,1312.97 L805.35,1313.80 L806.05,1314.61 L806.74,1315.42 L807.43,1316.22 L808.12,1317.01 L808.79,1317.80 L809.47,1318.58 L810.13,1319.35 L810.79,1320.11 L811.45,1320.86 L812.09,1321.61 L812.73,1322.35 L813.37,1323.08 L814.00,1323.80 L814.62,1324.52 L815.24,1325.22 L815.85,1325.92 L816.45,1326.61 L817.05,1327.30 L817.64,1327.97 L818.23,1328.64 L818.81,1329.30 L819.38,1329.96 L819.95,1330.60 L820.51,1331.24 L821.07,1331.87 L821.62,1332.49 L822.16,1333.10 L822.69,1333.71 L823.22,1334.31 L823.75,1334.90 L824.26,1335.49 L824.77,1336.06 L825.28,1336.63 L825.78,1337.19 L826.27,1337.74 L826.75,1338.29 L827.23,1338.83 L827.71,1339.36 L828.17,1339.88 L828.63,1340.39 L829.08,1340.90 L829.53,1341.40 L829.97,1341.89 L830.41,1342.38 L830.83,1342.85 L831.25,1343.32 L831.67,1343.79 L832.08,1344.24 L832.48,1344.69 L832.87,1345.13 L833.26,1345.56 L833.64,1345.98 L834.02,1346.40 L834.39,1346.81 L834.75,1347.21 L835.11,1347.60 L835.46,1347.99 L835.80,1348.37 L836.14,1348.74 L836.47,1349.10 L836.79,1349.46 L837.11,1349.81 L837.42,1350.15 L837.72,1350.49 L838.02,1350.81 L838.31,1351.13 L838.59,1351.44 L838.87,1351.75 L839.14,1352.05 L839.40,1352.34 L839.66,1352.62 L839.91,1352.89 L840.16,1353.16 L840.39,1353.42 L840.62,1353.67 L840.85,1353.92 L841.07,1354.16 L841.28,1354.39 L841.48,1354.61 L841.68,1354.83 L841.87,1355.04 L842.05,1355.24 L842.23,1355.43 L842.40,1355.62 L842.57,1355.80 L842.72,1355.97 L842.88,1356.13 L843.02,1356.29 L843.16,1356.44 L843.29,1356.58 L843.41,1356.72 L843.53,1356.85 L843.64,1356.97 L843.74,1357.08 L843.84,1357.18 L843.93,1357.28 L844.02,1357.37 L844.09,1357.46 L844.16,1357.54 L844.23,1357.60 L844.29,1357.67 L844.34,1357.72 L844.38,1357.77 L844.42,1357.81 L844.45,1357.84 L844.47,1357.87 L844.49,1357.89 L844.50,1357.90 L844.50,1357.90" fill="none" stroke="#0000ff" stroke-width="4.3" stroke-dasharray="10.2 9.4" stroke-linejoin="round"/>
<path d="M138.90,1357.90 L138.90,1357.90 L138.91,1357.89 L138.93,1357.87 L138.95,1357.85 L138.98,1357.82 L139.02,1357.78 L139.06,1357.73 L139.11,1357.68 L139.17,1357.63 L139.24,1357.56 L139.31,1357.49 L139.38,1357.41 L139.47,1357.33 L139.56,1357.24 L139.66,1357.14 L139.76,1357.04 L139.87,1356.93 L139.99,1356.81 L140.11,1356.68 L140.24,1356.55 L140.38,1356.41 L140.52,1356.27 L140.68,1356.12 L140.83,1355.96 L141.00,1355.79 L141.17,1355.62 L141.35,1355.44 L141.53,1355.26 L141.72,1355.07 L141.92,1354.87 L142.12,1354.66 L142.33,1354.45 L142.55,1354.23 L142.78,1354.01 L143.01,1353.77 L143.24,1353.54 L143.49,1353.29 L143.74,1353.04 L144.00,1352.78 L144.26,1352.51 L144.53,1352.24 L144.81,1351.96 L145.09,1351.68 L145.38,1351.39 L145.68,1351.09 L145.98,1350.78 L146.29,1350.47 L146.61,1350.15 L146.93,1349.83 L147.26,1349.49 L147.60,1349.16 L147.94,1348.81 L148.29,1348.46 L148.65,1348.10 L149.01,1347.74 L149.38,1347.37 L149.76,1346.99 L150.14,1346.60 L150.53,1346.21 L150.92,1345.81 L151.32,1345.41 L151.73,1345.00 L152.15,1344.58 L152.57,1344.16 L152.99,1343.73 L153.43,1343.29 L153.87,1342.85 L154.32,1342.40 L154.77,1341.94 L155.23,1341.48 L155.69,1341.01 L156.17,1340.54 L156.65,1340.05 L157.13,1339.57 L157.62,1339.07 L158.12,1338.57 L158.63,1338.06 L159.14,1337.55 L159.65,1337.03 L160.18,1336.50 L160.71,1335.97 L161.24,1335.43 L161.78,1334.88 L162.33,1334.33 L162.89,1333.77 L163.45,1333.21 L164.02,1332.64 L164.59,1332.06 L165.17,1331.48 L165.76,1330.89 L166.35,1330.29 L166.95,1329.69 L167.55,1329.08 L168.16,1328.47 L168.78,1327.85 L169.40,1327.22 L170.03,1326.59 L170.67,1325.95 L171.31,1325.31 L171.95,1324.66 L172.61,1324.00 L173.27,1323.34 L173.93,1322.67 L174.61,1321.99 L175.28,1321.31 L175.97,1320.63 L176.66,1319.93 L177.35,1319.24 L178.05,1318.53 L178.76,1317.82 L179.48,1317.11 L180.20,1316.38 L180.92,1315.66 L181.65,1314.92 L182.39,1314.19 L183.13,1313.44 L183.88,1312.69 L184.64,1311.93 L185.40,1311.17 L186.17,1310.41 L186.94,1309.63 L187.72,1308.86 L188.50,1308.07 L189.29,1307.28 L190.09,1306.49 L190.89,1305.69 L191.70,1304.88 L192.51,1304.07 L193.33,1303.26 L194.15,1302.43 L194.98,1301.61 L195.82,1300.78 L196.66,1299.94 L197.51,1299.10 L198.36,1298.25 L199.22,1297.40 L200.08,1296.54 L200.95,1295.68 L201.82,1294.81 L202.70,1293.94 L203.59,1293.06 L204.48,1292.18 L205.38,1291.29 L206.28,1290.40 L207.19,1289.50 L208.10,1288.60 L209.02,1287.69 L209.94,1286.78 L210.87,1285.87 L211.80,1284.95 L212.74,1284.02 L213.69,1283.10 L214.64,1282.16 L215.60,1281.23 L216.56,1280.28 L217.52,1279.34 L218.49,1278.39 L219.47,1277.43 L220.45,1276.48 L221.44,1275.51 L222.43,1274.55 L223.43,1273.58 L224.43,1272.60 L225.44,1271.62 L226.45,1270.64 L227.47,1269.66 L228.49,1268.67 L229.52,1267.67 L230.55,1266.68 L231.59,1265.68 L232.63,1264.67 L233.68,1263.67 L234.73,1262.66 L235.79,1261.64 L236.85,1260.63 L237.92,1259.61 L238.99,1258.58 L240.07,1257.56 L241.15,1256.53 L242.23,1255.50 L243.32,1254.46 L244.42,1253.43 L245.52,1252.39 L246.62,1251.34 L247.73,1250.30 L248.85,1249.25 L249.97,1248.20 L251.09,1247.15 L252.22,1246.09 L253.35,1245.04 L254.49,1243.98 L255.63,1242.92 L256.78,1241.85 L257.93,1240.79 L259.08,1239.72 L260.24,1238.65 L261.41,1237.59 L262.57,1236.51 L263.75,1235.44 L264.92,1234.37 L266.11,1233.29 L267.29,1232.21 L268.48,1231.14 L269.68,1230.06 L270.87,1228.98 L272.08,1227.90 L273.28,1226.81 L274.49,1225.73 L275.71,1224.65 L276.93,1223.57 L278.15,1222.48 L279.38,1221.40 L280.61,1220.31 L281.85,1219.23 L283.09,1218.14 L284.33,1217.06 L285.58,1215.97 L286.83,1214.89 L288.08,1213.81 L289.34,1212.72 L290.61,1211.64 L291.87,1210.56 L293.14,1209.47 L294.42,1208.39 L295.69,1207.31 L296.98,1206.23 L298.26,1205.16 L299.55,1204.08 L300.84,1203.00 L302.14,1201.93 L303.44,1200.86 L304.74,1199.79 L306.05,1198.72 L307.36,1197.65 L308.68,1196.58 L309.99,1195.52 L311.32,1194.46 L312.64,1193.40 L313.97,1192.34 L315.30,1191.29 L316.63,1190.24 L317.97,1189.19 L319.31,1188.15 L320.66,1187.10 L322.01,1186.06 L323.36,1185.03 L324.71,1183.99 L326.07,1182.96 L327.43,1181.94 L328.80,1180.91 L330.16,1179.89 L331.53,1178.88 L332.91,1177.87 L334.28,1176.86 L335.66,1175.86 L337.04,1174.86 L338.43,1173.86 L339.82,1172.88 L341.21,1171.89 L342.60,1170.91 L344.00,1169.93 L345.40,1168.96 L346.80,1168.00 L348.20,1167.04 L349.61,1166.08 L351.02,1165.14 L352.43,1164.19 L353.85,1163.25 L355.27,1162.32 L356.69,1161.40 L358.11,1160.48 L359.54,1159.56 L360.97,1158.65 L362.40,1157.75 L363.83,1156.86 L365.27,1155.97 L366.71,1155.09 L368.15,1154.21 L369.59,1153.35 L371.04,1152.49 L372.48,1151.63 L373.93,1150.79 L375.39,1149.95 L376.84,1149.12 L378.30,1148.30 L379.75,1147.48 L381.22,1146.67 L382.68,1145.87 L384.14,1145.08 L385.61,1144.30 L387.08,1143.52 L388.55,1142.76 L390.02,1142.00 L391.50,1141.25 L392.98,1140.51 L394.46,1139.78 L395.94,1139.05 L397.42,1138.34 L398.90,1137.64 L400.39,1136.94 L401.88,1136.25 L403.37,1135.58 L404.86,1134.91 L406.35,1134.25 L407.84,1133.61 L409.34,1132.97 L410.84,1132.34 L412.34,1131.72 L413.84,1131.11 L415.34,1130.52 L416.84,1129.93 L418.35,1129.35 L419.86,1128.79 L421.36,1128.23 L422.87,1127.69 L424.38,1127.15 L425.89,1126.63 L427.41,1126.11 L428.92,1125.61 L430.44,1125.12 L431.95,1124.64 L433.47,1124.17 L434.99,1123.72 L436.51,1123.27 L438.03,1122.84 L439.55,1122.41 L441.08,1122.00 L442.60,1121.60 L444.12,1121.21 L445.65,1120.84 L447.18,1120.47 L448.70,1120.12 L450.23,1119.78 L451.76,1119.45 L453.29,1119.13 L454.82,1118.82 L456.35,1118.53 L457.89,1118.25 L459.42,1117.98 L460.95,1117.72 L462.49,1117.48 L464.02,1117.25 L465.55,1117.03 L467.09,1116.82 L468.63,1116.63 L470.16,1116.44 L471.70,1116.27 L473.24,1116.12 L474.77,1115.97 L476.31,1115.84 L477.85,1115.72 L479.39,1115.61 L480.93,1115.52 L482.46,1115.43 L484.00,1115.36 L485.54,1115.31 L487.08,1115.26 L488.62,1115.23 L490.16,1115.21 L491.70,1115.21 L493.24,1115.21 L494.78,1115.23 L496.32,1115.26 L497.86,1115.31 L499.40,1115.36 L500.94,1115.43 L502.47,1115.52 L504.01,1115.61 L505.55,1115.72 L507.09,1115.84 L508.63,1115.97 L510.16,1116.12 L511.70,1116.27 L513.24,1116.44 L514.77,1116.63 L516.31,1116.82 L517.85,1117.03 L519.38,1117.25 L520.91,1117.48 L522.45,1117.72 L523.98,1117.98 L525.51,1118.25 L527.05,1118.53 L528.58,1118.82 L530.11,1119.13 L531.64,1119.45 L533.17,1119.78 L534.70,1120.12 L536.22,1120.47 L537.75,1120.84 L539.28,1121.21 L540.80,1121.60 L542.32,1122.00 L543.85,1122.41 L545.37,1122.84 L546.89,1123.27 L548.41,1123.72 L549.93,1124.17 L551.45,1124.64 L552.96,1125.12 L554.48,1125.61 L555.99,1126.11 L557.51,1126.63 L559.02,1127.15 L560.53,1127.69 L562.04,1128.23 L563.54,1128.79 L565.05,1129.35 L566.56,1129.93 L568.06,1130.52 L569.56,1131.11 L571.06,1131.72 L572.56,1132.34 L574.06,1132.97 L575.56,1133.61 L577.05,1134.25 L578.54,1134.91 L580.03,1135.58 L581.52,1136.25 L583.01,1136.94 L584.50,1137.64 L585.98,1138.34 L587.46,1139.05 L588.94,1139.78 L590.42,1140.51 L591.90,1141.25 L593.38,1142.00 L594.85,1142.76 L596.32,1143.52 L597.79,1144.30 L599.26,1145.08 L600.72,1145.87 L602.18,1146.67 L603.65,1147.48 L605.10,1148.30 L606.56,1149.12 L608.01,1149.95 L609.47,1150.79 L610.92,1151.63 L612.36,1152.49 L613.81,1153.35 L615.25,1154.21 L616.69,1155.09 L618.13,1155.97 L619.57,1156.86 L621.00,1157.75 L622.43,1158.65 L623.86,1159.56 L625.29,1160.48 L626.71,1161.40 L628.13,1162.32 L629.55,1163.25 L630.97,1164.19 L632.38,1165.14 L633.79,1166.08 L635.20,1167.04 L636.60,1168.00 L638.00,1168.96 L639.40,1169.93 L640.80,1170.91 L642.19,1171.89 L643.58,1172.88 L644.97,1173.86 L646.36,1174.86 L647.74,1175.86 L649.12,1176.86 L650.49,1177.87 L651.87,1178.88 L653.24,1179.89 L654.60,1180.91 L655.97,1181.94 L657.33,1182.96 L658.69,1183.99 L660.04,1185.03 L661.39,1186.06 L662.74,1187.10 L664.09,1188.15 L665.43,1189.19 L666.77,1190.24 L668.10,1191.29 L669.43,1192.34 L670.76,1193.40 L672.08,1194.46 L673.41,1195.52 L674.72,1196.58 L676.04,1197.65 L677.35,1198.72 L678.66,1199.79 L679.96,1200.86 L681.26,1201.93 L682.56,1203.00 L683.85,1204.08 L685.14,1205.16 L686.42,1206.23 L687.71,1207.31 L688.98,1208.39 L690.26,1209.47 L691.53,1210.56 L692.79,1211.64 L694.06,1212.72 L695.32,1213.81 L696.57,1214.89 L697.82,1215.97 L699.07,1217.06 L700.31,1218.14 L701.55,1219.23 L702.79,1220.31 L704.02,1221.40 L705.25,1222.48 L706.47,1223.57 L707.69,1224.65 L708.91,1225.73 L710.12,1226.81 L711.32,1227.90 L712.53,1228.98 L713.72,1230.06 L714.92,1231.14 L716.11,1232.21 L717.29,1233.29 L718.48,1234.37 L719.65,1235.44 L720.83,1236.51 L721.99,1237.59 L723.16,1238.65 L724.32,1239.72 L725.47,1240.79 L726.62,1241.85 L727.77,1242.92 L728.91,1243.98 L730.05,1245.04 L731.18,1246.09 L732.31,1247.15 L733.43,1248.20 L734.55,1249.25 L735.67,1250.30 L736.78,1251.34 L737.88,1252.39 L738.98,1253.43 L740.08,1254.46 L741.17,1255.50 L742.25,1256.53 L743.33,1257.56 L744.41,1258.58 L745.48,1259.61 L746.55,1260.63 L747.61,1261.64 L748.67,1262.66 L749.72,1263.67 L750.77,1264.67 L751.81,1265.68 L752.85,1266.68 L753.88,1267.67 L754.91,1268.67 L755.93,1269.66 L756.95,1270.64 L757.96,1271.62 L758.97,1272.60 L759.97,1273.58 L760.97,1274.55 L761.96,1275.51 L762.95,1276.48 L763.93,1277.43 L764.91,1278.39 L765.88,1279.34 L766.84,1280.28 L767.80,1281.23 L768.76,1282.16 L769.71,1283.10 L770.66,1284.02 L771.60,1284.95 L772.53,1285.87 L773.46,1286.78 L774.38,1287.69 L775.30,1288.60 L776.21,1289.50 L777.12,1290.40 L778.02,1291.29 L778.92,1292.18 L779.81,1293.06 L780.70,1293.94 L781.58,1294.81 L782.45,1295.68 L783.32,1296.54 L784.18,1297.40 L785.04,1298.25 L785.89,1299.10 L786.74,1299.94 L787.58,1300.78 L788.42,1301.61 L789.25,1302.43 L790.07,1303.26 L790.89,1304.07 L791.70,1304.88 L792.51,1305.69 L793.31,1306.49 L794.11,1307.28 L794.90,1308.07 L795.68,1308.86 L796.46,1309.63 L797.23,1310.41 L798.00,1311.17 L798.76,1311.93 L799.52,1312.69 L800.27,1313.44 L801.01,1314.19 L801.75,1314.92 L802.48,1315.66 L803.20,1316.38 L803.92,1317.11 L804.64,1317.82 L805.35,1318.53 L806.05,1319.24 L806.74,1319.93 L807.43,1320.63 L808.12,1321.31 L808.79,1321.99 L809.47,1322.67 L810.13,1323.34 L810.79,1324.00 L811.45,1324.66 L812.09,1325.31 L812.73,1325.95 L813.37,1326.59 L814.00,1327.22 L814.62,1327.85 L815.24,1328.47 L815.85,1329.08 L816.45,1329.69 L817.05,1330.29 L817.64,1330.89 L818.23,1331.48 L818.81,1332.06 L819.38,1332.64 L819.95,1333.21 L820.51,1333.77 L821.07,1334.33 L821.62,1334.88 L822.16,1335.43 L822.69,1335.97 L823.22,1336.50 L823.75,1337.03 L824.26,1337.55 L824.77,1338.06 L825.28,1338.57 L825.78,1339.07 L826.27,1339.57 L826.75,1340.05 L827.23,1340.54 L827.71,1341.01 L828.17,1341.48 L828.63,1341.94 L829.08,1342.40 L829.53,1342.85 L829.97,1343.29 L830.41,1343.73 L830.83,1344.16 L831.25,1344.58 L831.67,1345.00 L832.08,1345.41 L832.48,1345.81 L832.87,1346.21 L833.26,1346.60 L833.64,1346.99 L834.02,1347.37 L834.39,1347.74 L834.75,1348.10 L835.11,1348.46 L835.46,1348.81 L835.80,1349.16 L836.14,1349.49 L836.47,1349.83 L836.79,1350.15 L837.11,1350.47 L837.42,1350.78 L837.72,1351.09 L838.02,1351.39 L838.31,1351.68 L838.59,1351.96 L838.87,1352.24 L839.14,1352.51 L839.40,1352.78 L839.66,1353.04 L839.91,1353.29 L840.16,1353.54 L840.39,1353.77 L840.62,1354.01 L840.85,1354.23 L841.07,1354.45 L841.28,1354.66 L841.48,1354.87 L841.68,1355.07 L841.87,1355.26 L842.05,1355.44 L842.23,1355.62 L842.40,1355.79 L842.57,1355.96 L842.72,1356.12 L842.88,1356.27 L843.02,1356.41 L843.16,1356.55 L843.29,1356.68 L843.41,1356.81 L843.53,1356.93 L843.64,1357.04 L843.74,1357.14 L843.84,1357.24 L843.93,1357.33 L844.02,1357.41 L844.09,1357.49 L844.16,1357.56 L844.23,1357.63 L844.29,1357.68 L844.34,1357.73 L844.38,1357.78 L844.42,1357.82 L844.45,1357.85 L844.47,1357.87 L844.49,1357.89 L844.50,1357.90 L844.50,1357.90" fill="none" stroke="#00ff00" stroke-width="4.3" stroke-dasharray="2.6 9.65 10.2 9.35" stroke-linejoin="round"/>
<path d="M138.04,1358.74 L138.90,1357.90 L138.90,1357.90 L138.91,1357.89 L138.93,1357.87 L138.95,1357.85 L138.98,1357.82 L139.02,1357.78 L139.06,1357.74 L139.11,1357.69 L139.17,1357.63 L139.24,1357.57 L139.31,1357.50 L139.38,1357.42 L139.47,1357.34 L139.56,1357.25 L139.66,1357.16 L139.76,1357.05 L139.87,1356.95 L139.99,1356.83 L140.11,1356.71 L140.24,1356.58 L140.38,1356.45 L140.52,1356.30 L140.68,1356.16 L140.83,1356.00 L141.00,1355.84 L141.17,1355.67 L141.35,1355.50 L141.53,1355.32 L141.72,1355.13 L141.92,1354.94 L142.12,1354.74 L142.33,1354.53 L142.55,1354.32 L142.78,1354.10 L143.01,1353.87 L143.24,1353.64 L143.49,1353.40 L143.74,1353.16 L144.00,1352.91 L144.26,1352.65 L144.53,1352.39 L144.81,1352.12 L145.09,1351.84 L145.38,1351.56 L145.68,1351.27 L145.98,1350.98 L146.29,1350.67 L146.61,1350.37 L146.93,1350.05 L147.26,1349.73 L147.60,1349.41 L147.94,1349.08 L148.29,1348.74 L148.65,1348.39 L149.01,1348.04 L149.38,1347.69 L149.76,1347.33 L150.14,1346.96 L150.53,1346.58 L150.92,1346.20 L151.32,1345.82 L151.73,1345.43 L152.15,1345.03 L152.57,1344.62 L152.99,1344.22 L153.43,1343.80 L153.87,1343.38 L154.32,1342.95 L154.77,1342.52 L155.23,1342.08 L155.69,1341.64 L156.17,1341.19 L156.65,1340.73 L157.13,1340.27 L157.62,1339.81 L158.12,1339.33 L158.63,1338.86 L159.14,1338.37 L159.65,1337.89 L160.18,1337.39 L160.71,1336.89 L161.24,1336.39 L161.78,1335.88 L162.33,1335.36 L162.89,1334.84 L163.45,1334.32 L164.02,1333.79 L164.59,1333.25 L165.17,1332.71 L165.76,1332.16 L166.35,1331.61 L166.95,1331.06 L167.55,1330.49 L168.16,1329.93 L168.78,1329.36 L169.40,1328.78 L170.03,1328.20 L170.67,1327.61 L171.31,1327.02 L171.95,1326.43 L172.61,1325.83 L173.27,1325.22 L173.93,1324.62 L174.61,1324.00 L175.28,1323.38 L175.97,1322.76 L176.66,1322.13 L177.35,1321.50 L178.05,1320.87 L178.76,1320.22 L179.48,1319.58 L180.20,1318.93 L180.92,1318.28 L181.65,1317.62 L182.39,1316.96 L183.13,1316.29 L183.88,1315.62 L184.64,1314.95 L185.40,1314.27 L186.17,1313.59 L186.94,1312.90 L187.72,1312.21 L188.50,1311.52 L189.29,1310.82 L190.09,1310.12 L190.89,1309.42 L191.70,1308.71 L192.51,1308.00 L193.33,1307.29 L194.15,1306.57 L194.98,1305.85 L195.82,1305.12 L196.66,1304.39 L197.51,1303.66 L198.36,1302.93 L199.22,1302.19 L200.08,1301.45 L200.95,1300.70 L201.82,1299.96 L202.70,1299.21 L203.59,1298.45 L204.48,1297.70 L205.38,1296.94 L206.28,1296.18 L207.19,1295.41 L208.10,1294.65 L209.02,1293.88 L209.94,1293.11 L210.87,1292.33 L211.80,1291.56 L212.74,1290.78 L213.69,1290.00 L214.64,1289.21 L215.60,1288.43 L216.56,1287.64 L217.52,1286.85 L218.49,1286.06 L219.47,1285.26 L220.45,1284.47 L221.44,1283.67 L222.43,1282.87 L223.43,1282.07 L224.43,1281.26 L225.44,1280.46 L226.45,1279.65 L227.47,1278.85 L228.49,1278.04 L229.52,1277.23 L230.55,1276.41 L231.59,1275.60 L232.63,1274.79 L233.68,1273.97 L234.73,1273.15 L235.79,1272.34 L236.85,1271.52 L237.92,1270.70 L238.99,1269.88 L240.07,1269.06 L241.15,1268.23 L242.23,1267.41 L243.32,1266.59 L244.42,1265.76 L245.52,1264.94 L246.62,1264.12 L247.73,1263.29 L248.85,1262.47 L249.97,1261.64 L251.09,1260.81 L252.22,1259.99 L253.35,1259.16 L254.49,1258.34 L255.63,1257.51 L256.78,1256.69 L257.93,1255.86 L259.08,1255.03 L260.24,1254.21 L261.41,1253.39 L262.57,1252.56 L263.75,1251.74 L264.92,1250.92 L266.11,1250.09 L267.29,1249.27 L268.48,1248.45 L269.68,1247.63 L270.87,1246.81 L272.08,1246.00 L273.28,1245.18 L274.49,1244.36 L275.71,1243.55 L276.93,1242.74 L278.15,1241.92 L279.38,1241.11 L280.61,1240.30 L281.85,1239.50 L283.09,1238.69 L284.33,1237.89 L285.58,1237.08 L286.83,1236.28 L288.08,1235.48 L289.34,1234.69 L290.61,1233.89 L291.87,1233.10 L293.14,1232.31 L294.42,1231.52 L295.69,1230.73 L296.98,1229.95 L298.26,1229.17 L299.55,1228.39 L300.84,1227.61 L302.14,1226.84 L303.44,1226.06 L304.74,1225.29 L306.05,1224.53 L307.36,1223.76 L308.68,1223.00 L309.99,1222.25 L311.32,1221.49 L312.64,1220.74 L313.97,1219.99 L315.30,1219.25 L316.63,1218.50 L317.97,1217.77 L319.31,1217.03 L320.66,1216.30 L322.01,1215.57 L323.36,1214.84 L324.71,1214.12 L326.07,1213.41 L327.43,1212.69 L328.80,1211.98 L330.16,1211.28 L331.53,1210.57 L332.91,1209.88 L334.28,1209.18 L335.66,1208.49 L337.04,1207.81 L338.43,1207.13 L339.82,1206.45 L341.21,1205.78 L342.60,1205.11 L344.00,1204.44 L345.40,1203.79 L346.80,1203.13 L348.20,1202.48 L349.61,1201.84 L351.02,1201.19 L352.43,1200.56 L353.85,1199.93 L355.27,1199.30 L356.69,1198.68 L358.11,1198.07 L359.54,1197.46 L360.97,1196.85 L362.40,1196.25 L363.83,1195.66 L365.27,1195.07 L366.71,1194.48 L368.15,1193.90 L369.59,1193.33 L371.04,1192.76 L372.48,1192.20 L373.93,1191.64 L375.39,1191.09 L376.84,1190.55 L378.30,1190.01 L379.75,1189.48 L381.22,1188.95 L382.68,1188.43 L384.14,1187.91 L385.61,1187.40 L387.08,1186.90 L388.55,1186.40 L390.02,1185.91 L391.50,1185.43 L392.98,1184.95 L394.46,1184.48 L395.94,1184.01 L397.42,1183.55 L398.90,1183.10 L400.39,1182.65 L401.88,1182.21 L403.37,1181.78 L404.86,1181.35 L406.35,1180.93 L407.84,1180.52 L409.34,1180.11 L410.84,1179.71 L412.34,1179.32 L413.84,1178.93 L415.34,1178.55 L416.84,1178.18 L418.35,1177.81 L419.86,1177.45 L421.36,1177.10 L422.87,1176.76 L424.38,1176.42 L425.89,1176.09 L427.41,1175.77 L428.92,1175.45 L430.44,1175.14 L431.95,1174.84 L433.47,1174.55 L434.99,1174.26 L436.51,1173.98 L438.03,1173.71 L439.55,1173.44 L441.08,1173.19 L442.60,1172.94 L444.12,1172.69 L445.65,1172.46 L447.18,1172.23 L448.70,1172.01 L450.23,1171.80 L451.76,1171.59 L453.29,1171.39 L454.82,1171.20 L456.35,1171.02 L457.89,1170.85 L459.42,1170.68 L460.95,1170.52 L462.49,1170.37 L464.02,1170.23 L465.55,1170.09 L467.09,1169.96 L468.63,1169.84 L470.16,1169.73 L471.70,1169.62 L473.24,1169.52 L474.77,1169.43 L476.31,1169.35 L477.85,1169.28 L479.39,1169.21 L480.93,1169.15 L482.46,1169.10 L484.00,1169.06 L485.54,1169.02 L487.08,1169.00 L488.62,1168.98 L490.16,1168.96 L491.70,1168.96 L493.24,1168.96 L494.78,1168.98 L496.32,1169.00 L497.86,1169.02 L499.40,1169.06 L500.94,1169.10 L502.47,1169.15 L504.01,1169.21 L505.55,1169.28 L507.09,1169.35 L508.63,1169.43 L510.16,1169.52 L511.70,1169.62 L513.24,1169.73 L514.77,1169.84 L516.31,1169.96 L517.85,1170.09 L519.38,1170.23 L520.91,1170.37 L522.45,1170.52 L523.98,1170.68 L525.51,1170.85 L527.05,1171.02 L528.58,1171.20 L530.11,1171.39 L531.64,1171.59 L533.17,1171.80 L534.70,1172.01 L536.22,1172.23 L537.75,1172.46 L539.28,1172.69 L540.80,1172.94 L542.32,1173.19 L543.85,1173.44 L545.37,1173.71 L546.89,1173.98 L548.41,1174.26 L549.93,1174.55 L551.45,1174.84 L552.96,1175.14 L554.48,1175.45 L555.99,1175.77 L557.51,1176.09 L559.02,1176.42 L560.53,1176.76 L562.04,1177.10 L563.54,1177.45 L565.05,1177.81 L566.56,1178.18 L568.06,1178.55 L569.56,1178.93 L571.06,1179.32 L572.56,1179.71 L574.06,1180.11 L575.56,1180.52 L577.05,1180.93 L578.54,1181.35 L580.03,1181.78 L581.52,1182.21 L583.01,1182.65 L584.50,1183.10 L585.98,1183.55 L587.46,1184.01 L588.94,1184.48 L590.42,1184.95 L591.90,1185.43 L593.38,1185.91 L594.85,1186.40 L596.32,1186.90 L597.79,1187.40 L599.26,1187.91 L600.72,1188.43 L602.18,1188.95 L603.65,1189.48 L605.10,1190.01 L606.56,1190.55 L608.01,1191.09 L609.47,1191.64 L610.92,1192.20 L612.36,1192.76 L613.81,1193.33 L615.25,1193.90 L616.69,1194.48 L618.13,1195.07 L619.57,1195.66 L621.00,1196.25 L622.43,1196.85 L623.86,1197.46 L625.29,1198.07 L626.71,1198.68 L628.13,1199.30 L629.55,1199.93 L630.97,1200.56 L632.38,1201.19 L633.79,1201.84 L635.20,1202.48 L636.60,1203.13 L638.00,1203.79 L639.40,1204.44 L640.80,1205.11 L642.19,1205.78 L643.58,1206.45 L644.97,1207.13 L646.36,1207.81 L647.74,1208.49 L649.12,1209.18 L650.49,1209.88 L651.87,1210.57 L653.24,1211.28 L654.60,1211.98 L655.97,1212.69 L657.33,1213.41 L658.69,1214.12 L660.04,1214.84 L661.39,1215.57 L662.74,1216.30 L664.09,1217.03 L665.43,1217.77 L666.77,1218.50 L668.10,1219.25 L669.43,1219.99 L670.76,1220.74 L672.08,1221.49 L673.41,1222.25 L674.72,1223.00 L676.04,1223.76 L677.35,1224.53 L678.66,1225.29 L679.96,1226.06 L681.26,1226.84 L682.56,1227.61 L683.85,1228.39 L685.14,1229.17 L686.42,1229.95 L687.71,1230.73 L688.98,1231.52 L690.26,1232.31 L691.53,1233.10 L692.79,1233.89 L694.06,1234.69 L695.32,1235.48 L696.57,1236.28 L697.82,1237.08 L699.07,1237.89 L700.31,1238.69 L701.55,1239.50 L702.79,1240.30 L704.02,1241.11 L705.25,1241.92 L706.47,1242.74 L707.69,1243.55 L708.91,1244.36 L710.12,1245.18 L711.32,1246.00 L712.53,1246.81 L713.72,1247.63 L714.92,1248.45 L716.11,1249.27 L717.29,1250.09 L718.48,1250.92 L719.65,1251.74 L720.83,1252.56 L721.99,1253.39 L723.16,1254.21 L724.32,1255.03 L725.47,1255.86 L726.62,1256.69 L727.77,1257.51 L728.91,1258.34 L730.05,1259.16 L731.18,1259.99 L732.31,1260.81 L733.43,1261.64 L734.55,1262.47 L735.67,1263.29 L736.78,1264.12 L737.88,1264.94 L738.98,1265.76 L740.08,1266.59 L741.17,1267.41 L742.25,1268.23 L743.33,1269.06 L744.41,1269.88 L745.48,1270.70 L746.55,1271.52 L747.61,1272.34 L748.67,1273.15 L749.72,1273.97 L750.77,1274.79 L751.81,1275.60 L752.85,1276.41 L753.88,1277.23 L754.91,1278.04 L755.93,1278.85 L756.95,1279.65 L757.96,1280.46 L758.97,1281.26 L759.97,1282.07 L760.97,1282.87 L761.96,1283.67 L762.95,1284.47 L763.93,1285.26 L764.91,1286.06 L765.88,1286.85 L766.84,1287.64 L767.80,1288.43 L768.76,1289.21 L769.71,1290.00 L770.66,1290.78 L771.60,1291.56 L772.53,1292.33 L773.46,1293.11 L774.38,1293.88 L775.30,1294.65 L776.21,1295.41 L777.12,1296.18 L778.02,1296.94 L778.92,1297.70 L779.81,1298.45 L780.70,1299.21 L781.58,1299.96 L782.45,1300.70 L783.32,1301.45 L784.18,1302.19 L785.04,1302.93 L785.89,1303.66 L786.74,1304.39 L787.58,1305.12 L788.42,1305.85 L789.25,1306.57 L790.07,1307.29 L790.89,1308.00 L791.70,1308.71 L792.51,1309.42 L793.31,1310.12 L794.11,1310.82 L794.90,1311.52 L795.68,1312.21 L796.46,1312.90 L797.23,1313.59 L798.00,1314.27 L798.76,1314.95 L799.52,1315.62 L800.27,1316.29 L801.01,1316.96 L801.75,1317.62 L802.48,1318.28 L803.20,1318.93 L803.92,1319.58 L804.64,1320.22 L805.35,1320.87 L806.05,1321.50 L806.74,1322.13 L807.43,1322.76 L808.12,1323.38 L808.79,1324.00 L809.47,1324.62 L810.13,1325.22 L810.79,1325.83 L811.45,1326.43 L812.09,1327.02 L812.73,1327.61 L813.37,1328.20 L814.00,1328.78 L814.62,1329.36 L815.24,1329.93 L815.85,1330.49 L816.45,1331.06 L817.05,1331.61 L817.64,1332.16 L818.23,1332.71 L818.81,1333.25 L819.38,1333.79 L819.95,1334.32 L820.51,1334.84 L821.07,1335.36 L821.62,1335.88 L822.16,1336.39 L822.69,1336.89 L823.22,1337.39 L823.75,1337.89 L824.26,1338.37 L824.77,1338.86 L825.28,1339.33 L825.78,1339.81 L826.27,1340.27 L826.75,1340.73 L827.23,1341.19 L827.71,1341.64 L828.17,1342.08 L828.63,1342.52 L829.08,1342.95 L829.53,1343.38 L829.97,1343.80 L830.41,1344.22 L830.83,1344.62 L831.25,1345.03 L831.67,1345.43 L832.08,1345.82 L832.48,1346.20 L832.87,1346.58 L833.26,1346.96 L833.64,1347.33 L834.02,1347.69 L834.39,1348.04 L834.75,1348.39 L835.11,1348.74 L835.46,1349.08 L835.80,1349.41 L836.14,1349.73 L836.47,1350.05 L836.79,1350.37 L837.11,1350.67 L837.42,1350.98 L837.72,1351.27 L838.02,1351.56 L838.31,1351.84 L838.59,1352.12 L838.87,1352.39 L839.14,1352.65 L839.40,1352.91 L839.66,1353.16 L839.91,1353.40 L840.16,1353.64 L840.39,1353.87 L840.62,1354.10 L840.85,1354.32 L841.07,1354.53 L841.28,1354.74 L841.48,1354.94 L841.68,1355.13 L841.87,1355.32 L842.05,1355.50 L842.23,1355.67 L842.40,1355.84 L842.57,1356.00 L842.72,1356.16 L842.88,1356.30 L843.02,1356.45 L843.16,1356.58 L843.29,1356.71 L843.41,1356.83 L843.53,1356.95 L843.64,1357.05 L843.74,1357.16 L843.84,1357.25 L843.93,1357.34 L844.02,1357.42 L844.09,1357.50 L844.16,1357.57 L844.23,1357.63 L844.29,1357.69 L844.34,1357.74 L844.38,1357.78 L844.42,1357.82 L844.45,1357.85 L844.47,1357.87 L844.49,1357.89 L844.50,1357.90 L844.50,1357.90 L845.36,1358.74" fill="none" stroke="#ff8000" stroke-width="4.3" stroke-linejoin="round"/>
<path d="M491.7,9.1 V1381.1" stroke="#000" stroke-width="1.5" fill="none"/>
<path d="M124.8,264.8 H858.8" stroke="#000" stroke-width="1.35" fill="none"/>
<path d="M124.8,691.3 H858.8" stroke="#000" stroke-width="1.35" fill="none"/>
<path d="M139.25,462.9 v-8.6 M139.25,9.1 v8.6 M174.50,462.9 v-5.3 M174.50,9.1 v5.3 M209.74,462.9 v-5.3 M209.74,9.1 v5.3 M244.99,462.9 v-5.3 M244.99,9.1 v5.3 M280.23,462.9 v-5.3 M280.23,9.1 v5.3 M315.48,462.9 v-8.6 M315.48,9.1 v8.6 M350.72,462.9 v-5.3 M350.72,9.1 v5.3 M385.96,462.9 v-5.3 M385.96,9.1 v5.3 M421.21,462.9 v-5.3 M421.21,9.1 v5.3 M456.45,462.9 v-5.3 M456.45,9.1 v5.3 M491.70,462.9 v-8.6 M491.70,9.1 v8.6 M526.94,462.9 v-5.3 M526.94,9.1 v5.3 M562.19,462.9 v-5.3 M562.19,9.1 v5.3 M597.43,462.9 v-5.3 M597.43,9.1 v5.3 M632.68,462.9 v-5.3 M632.68,9.1 v5.3 M667.92,462.9 v-8.6 M667.92,9.1 v8.6 M703.17,462.9 v-5.3 M703.17,9.1 v5.3 M738.41,462.9 v-5.3 M738.41,9.1 v5.3 M773.66,462.9 v-5.3 M773.66,9.1 v5.3 M808.90,462.9 v-5.3 M808.90,9.1 v5.3 M844.15,462.9 v-8.6 M844.15,9.1 v8.6 M124.8,458.94 h5.3 M858.8,458.94 h-5.3 M124.8,447.52 h5.3 M858.8,447.52 h-5.3 M124.8,436.10 h8.6 M858.8,436.10 h-8.6 M124.8,424.68 h5.3 M858.8,424.68 h-5.3 M124.8,413.26 h5.3 M858.8,413.26 h-5.3 M124.8,401.84 h5.3 M858.8,401.84 h-5.3 M124.8,390.42 h5.3 M858.8,390.42 h-5.3 M124.8,379.00 h8.6 M858.8,379.00 h-8.6 M124.8,367.58 h5.3 M858.8,367.58 h-5.3 M124.8,356.16 h5.3 M858.8,356.16 h-5.3 M124.8,344.74 h5.3 M858.8,344.74 h-5.3 M124.8,333.32 h5.3 M858.8,333.32 h-5.3 M124.8,321.90 h8.6 M858.8,321.90 h-8.6 M124.8,310.48 h5.3 M858.8,310.48 h-5.3 M124.8,299.06 h5.3 M858.8,299.06 h-5.3 M124.8,287.64 h5.3 M858.8,287.64 h-5.3 M124.8,276.22 h5.3 M858.8,276.22 h-5.3 M124.8,264.80 h8.6 M858.8,264.80 h-8.6 M124.8,253.38 h5.3 M858.8,253.38 h-5.3 M124.8,241.96 h5.3 M858.8,241.96 h-5.3 M124.8,230.54 h5.3 M858.8,230.54 h-5.3 M124.8,219.12 h5.3 M858.8,219.12 h-5.3 M124.8,207.70 h8.6 M858.8,207.70 h-8.6 M124.8,196.28 h5.3 M858.8,196.28 h-5.3 M124.8,184.86 h5.3 M858.8,184.86 h-5.3 M124.8,173.44 h5.3 M858.8,173.44 h-5.3 M124.8,162.02 h5.3 M858.8,162.02 h-5.3 M124.8,150.60 h8.6 M858.8,150.60 h-8.6 M124.8,139.18 h5.3 M858.8,139.18 h-5.3 M124.8,127.76 h5.3 M858.8,127.76 h-5.3 M124.8,116.34 h5.3 M858.8,116.34 h-5.3 M124.8,104.92 h5.3 M858.8,104.92 h-5.3 M124.8,93.50 h8.6 M858.8,93.50 h-8.6 M124.8,82.08 h5.3 M858.8,82.08 h-5.3 M124.8,70.66 h5.3 M858.8,70.66 h-5.3 M124.8,59.24 h5.3 M858.8,59.24 h-5.3 M124.8,47.82 h5.3 M858.8,47.82 h-5.3 M124.8,36.40 h8.6 M858.8,36.40 h-8.6 M124.8,24.98 h5.3 M858.8,24.98 h-5.3 M124.8,13.56 h5.3 M858.8,13.56 h-5.3" stroke="#000" stroke-width="3.0" fill="none"/>
<path d="M139.25,919.5 v-8.6 M174.50,919.5 v-5.3 M209.74,919.5 v-5.3 M244.99,919.5 v-5.3 M280.23,919.5 v-5.3 M315.48,919.5 v-8.6 M350.72,919.5 v-5.3 M385.96,919.5 v-5.3 M421.21,919.5 v-5.3 M456.45,919.5 v-5.3 M491.70,919.5 v-8.6 M526.94,919.5 v-5.3 M562.19,919.5 v-5.3 M597.43,919.5 v-5.3 M632.68,919.5 v-5.3 M667.92,919.5 v-8.6 M703.17,919.5 v-5.3 M738.41,919.5 v-5.3 M773.66,919.5 v-5.3 M808.90,919.5 v-5.3 M844.15,919.5 v-8.6 M124.9,906.55 h5.3 M858.8,906.55 h-5.3 M124.9,892.20 h5.3 M858.8,892.20 h-5.3 M124.9,877.85 h5.3 M858.8,877.85 h-5.3 M124.9,863.50 h8.6 M858.8,863.50 h-8.6 M124.9,849.15 h5.3 M858.8,849.15 h-5.3 M124.9,834.80 h5.3 M858.8,834.80 h-5.3 M124.9,820.45 h5.3 M858.8,820.45 h-5.3 M124.9,806.10 h8.6 M858.8,806.10 h-8.6 M124.9,791.75 h5.3 M858.8,791.75 h-5.3 M124.9,777.40 h5.3 M858.8,777.40 h-5.3 M124.9,763.05 h5.3 M858.8,763.05 h-5.3 M124.9,748.70 h8.6 M858.8,748.70 h-8.6 M124.9,734.35 h5.3 M858.8,734.35 h-5.3 M124.9,720.00 h5.3 M858.8,720.00 h-5.3 M124.9,705.65 h5.3 M858.8,705.65 h-5.3 M124.9,691.30 h8.6 M858.8,691.30 h-8.6 M124.9,676.95 h5.3 M858.8,676.95 h-5.3 M124.9,662.60 h5.3 M858.8,662.60 h-5.3 M124.9,648.25 h5.3 M858.8,648.25 h-5.3 M124.9,633.90 h8.6 M858.8,633.90 h-8.6 M124.9,619.55 h5.3 M858.8,619.55 h-5.3 M124.9,605.20 h5.3 M858.8,605.20 h-5.3 M124.9,590.85 h5.3 M858.8,590.85 h-5.3 M124.9,576.50 h8.6 M858.8,576.50 h-8.6 M124.9,562.15 h5.3 M858.8,562.15 h-5.3 M124.9,547.80 h5.3 M858.8,547.80 h-5.3 M124.9,533.45 h5.3 M858.8,533.45 h-5.3 M124.9,519.10 h8.6 M858.8,519.10 h-8.6 M124.9,504.75 h5.3 M858.8,504.75 h-5.3 M124.9,490.40 h5.3 M858.8,490.40 h-5.3 M124.9,476.05 h5.3 M858.8,476.05 h-5.3" stroke="#000" stroke-width="3.0" fill="none"/>
<path d="M138.90,1381.1 v-8.6 M174.18,1381.1 v-5.3 M209.46,1381.1 v-5.3 M244.74,1381.1 v-5.3 M280.02,1381.1 v-5.3 M315.30,1381.1 v-8.6 M350.58,1381.1 v-5.3 M385.86,1381.1 v-5.3 M421.14,1381.1 v-5.3 M456.42,1381.1 v-5.3 M491.70,1381.1 v-8.6 M526.98,1381.1 v-5.3 M562.26,1381.1 v-5.3 M597.54,1381.1 v-5.3 M632.82,1381.1 v-5.3 M668.10,1381.1 v-8.6 M703.38,1381.1 v-5.3 M738.66,1381.1 v-5.3 M773.94,1381.1 v-5.3 M809.22,1381.1 v-5.3 M844.50,1381.1 v-8.6 M124.4,1357.90 h8.6 M859.1,1357.90 h-8.6 M124.4,1332.18 h5.3 M859.1,1332.18 h-5.3 M124.4,1306.46 h5.3 M859.1,1306.46 h-5.3 M124.4,1280.74 h5.3 M859.1,1280.74 h-5.3 M124.4,1255.02 h8.6 M859.1,1255.02 h-8.6 M124.4,1229.30 h5.3 M859.1,1229.30 h-5.3 M124.4,1203.58 h5.3 M859.1,1203.58 h-5.3 M124.4,1177.86 h5.3 M859.1,1177.86 h-5.3 M124.4,1152.14 h8.6 M859.1,1152.14 h-8.6 M124.4,1126.42 h5.3 M859.1,1126.42 h-5.3 M124.4,1100.70 h5.3 M859.1,1100.70 h-5.3 M124.4,1074.98 h5.3 M859.1,1074.98 h-5.3 M124.4,1049.26 h8.6 M859.1,1049.26 h-8.6 M124.4,1023.54 h5.3 M859.1,1023.54 h-5.3 M124.4,997.82 h5.3 M859.1,997.82 h-5.3 M124.4,972.10 h5.3 M859.1,972.10 h-5.3 M124.4,946.38 h8.6 M859.1,946.38 h-8.6 M124.4,920.66 h5.3 M859.1,920.66 h-5.3" stroke="#000" stroke-width="3.0" fill="none"/>
<path d="M124.8,7.6 V462.9 M858.8,7.6 V462.9 M124.9,462.9 V919.5 M858.8,462.9 V919.5 M124.4,919.5 V1382.6 M859.1,919.5 V1382.6 M123.3,9.1 H860.3 M123.3,462.9 H860.3 M122.9,919.5 H860.6 M122.9,1381.1 H860.6" stroke="#000" stroke-width="3.0" fill="none"/>
<text x="117.6" y="447.20" text-anchor="end" class="t">0.15</text>
<path d="M37.43,435.30 H51.13" stroke="#222" stroke-width="1.35" fill="none"/>
<text x="117.6" y="390.10" text-anchor="end" class="t">0.10</text>
<path d="M37.43,378.20 H51.13" stroke="#222" stroke-width="1.35" fill="none"/>
<text x="117.6" y="333.00" text-anchor="end" class="t">0.05</text>
<path d="M37.43,321.10 H51.13" stroke="#222" stroke-width="1.35" fill="none"/>
<text x="117.6" y="275.90" text-anchor="end" class="t">0.00</text>
<text x="117.6" y="218.80" text-anchor="end" class="t">0.05</text>
<text x="117.6" y="161.70" text-anchor="end" class="t">0.10</text>
<text x="117.6" y="104.60" text-anchor="end" class="t">0.15</text>
<text x="117.6" y="47.50" text-anchor="end" class="t">0.20</text>
<text x="117.6" y="874.60" text-anchor="end" class="t">0.6</text>
<path d="M55.22,862.70 H68.92" stroke="#222" stroke-width="1.35" fill="none"/>
<text x="117.6" y="817.20" text-anchor="end" class="t">0.4</text>
<path d="M55.22,805.30 H68.92" stroke="#222" stroke-width="1.35" fill="none"/>
<text x="117.6" y="759.80" text-anchor="end" class="t">0.2</text>
<path d="M55.22,747.90 H68.92" stroke="#222" stroke-width="1.35" fill="none"/>
<text x="117.6" y="702.40" text-anchor="end" class="t">0.0</text>
<text x="117.6" y="645.00" text-anchor="end" class="t">0.2</text>
<text x="117.6" y="587.60" text-anchor="end" class="t">0.4</text>
<text x="117.6" y="530.20" text-anchor="end" class="t">0.6</text>
<text x="117.6" y="1369.00" text-anchor="end" class="t">0.0</text>
<text x="117.6" y="1266.12" text-anchor="end" class="t">0.2</text>
<text x="117.6" y="1163.24" text-anchor="end" class="t">0.4</text>
<text x="117.6" y="1060.36" text-anchor="end" class="t">0.6</text>
<text x="117.6" y="957.48" text-anchor="end" class="t">0.8</text>
<text x="125.51" y="1416.6" class="t">1.0</text>
<path d="M108.91,1405.20 H122.51" stroke="#222" stroke-width="1.35" fill="none"/>
<text x="301.74" y="1416.6" class="t">0.5</text>
<path d="M285.13,1405.20 H298.74" stroke="#222" stroke-width="1.35" fill="none"/>
<text x="469.16" y="1416.6" class="t">0.0</text>
<text x="645.38" y="1416.6" class="t">0.5</text>
<text x="821.61" y="1416.6" class="t">1.0</text>
<text x="462.4" y="1455.3" class="t">cos</text>
<g transform="translate(525.45,1445.45) skewX(-8)"><path fill-rule="evenodd" fill="#000" d="M-7.15,0 A7.15,12.45 0 1,1 7.15,0 A7.15,12.45 0 1,1 -7.15,0 Z M-4.6,0 A4.6,11.65 0 1,0 4.6,0 A4.6,11.65 0 1,0 -4.6,0 Z"/><path d="M-4.9,-1.3 L4.9,1.0" stroke="#000" stroke-width="0.8" fill="none"/></g>
<g transform="translate(30.1,259.3) rotate(-90)"><text x="0" y="0" class="t">S</text><text x="20.4" y="5.8" class="s">LL</text></g>
<g transform="translate(34.8,712.8) rotate(-90)"><text x="0" y="0" class="t">S</text><text x="20.6" y="-15.8" class="s">x</text><text x="23.0" y="7.3" class="s">LT</text></g>
<g transform="translate(50.8,1183.8) rotate(-90)"><text x="0" y="0" class="t">S</text><text x="20.6" y="-15.6" class="s">xx</text><text x="18.7" y="8.2" class="s">TT</text></g>
<rect x="587.95" y="734.2" width="246.7" height="242.0" fill="#fff" stroke="#000" stroke-width="1.7"/>
<path d="M600,764.8 H636" stroke="#ff0000" stroke-width="4.3" stroke-dasharray="3.3 9.1" fill="none"/>
<text x="655.2" y="773.30" class="t" style="font-style:italic">q</text>
<text x="673.6" y="760.90" class="s">2</text>
<path d="M687.8,761.30 h14.4 M687.8,766.30 h14.4" stroke="#222" stroke-width="1.2" fill="none"/>
<text x="705.0" y="773.30" class="t">12 GeV</text>
<text x="813.3" y="760.90" class="s">2</text>
<path d="M600,827.8 H639.2" stroke="#0000ff" stroke-width="4.3" stroke-dasharray="10.2 9.4" fill="none"/>
<text x="655.2" y="836.30" class="t" style="font-style:italic">q</text>
<text x="673.6" y="823.90" class="s">2</text>
<path d="M687.8,824.30 h14.4 M687.8,829.30 h14.4" stroke="#222" stroke-width="1.2" fill="none"/>
<text x="705.0" y="836.30" class="t">16 GeV</text>
<text x="813.3" y="823.90" class="s">2</text>
<path d="M600,890.7 H639.2" stroke="#00ff00" stroke-width="4.3" stroke-dasharray="2.6 9.65 10.2 9.35" fill="none"/>
<text x="655.2" y="899.20" class="t" style="font-style:italic">q</text>
<text x="673.6" y="886.80" class="s">2</text>
<path d="M687.8,887.20 h14.4 M687.8,892.20 h14.4" stroke="#222" stroke-width="1.2" fill="none"/>
<text x="705.0" y="899.20" class="t">21 GeV</text>
<text x="813.3" y="886.80" class="s">2</text>
<path d="M600,953.6 H639.2" stroke="#ff8000" stroke-width="4.3" fill="none"/>
<text x="655.2" y="962.10" class="t" style="font-style:italic">q</text>
<text x="673.6" y="949.70" class="s">2</text>
<path d="M687.8,950.10 h14.4 M687.8,955.10 h14.4" stroke="#222" stroke-width="1.2" fill="none"/>
<text x="705.0" y="962.10" class="t">25 GeV</text>
<text x="813.3" y="949.70" class="s">2</text>
</svg>
</body></html>
